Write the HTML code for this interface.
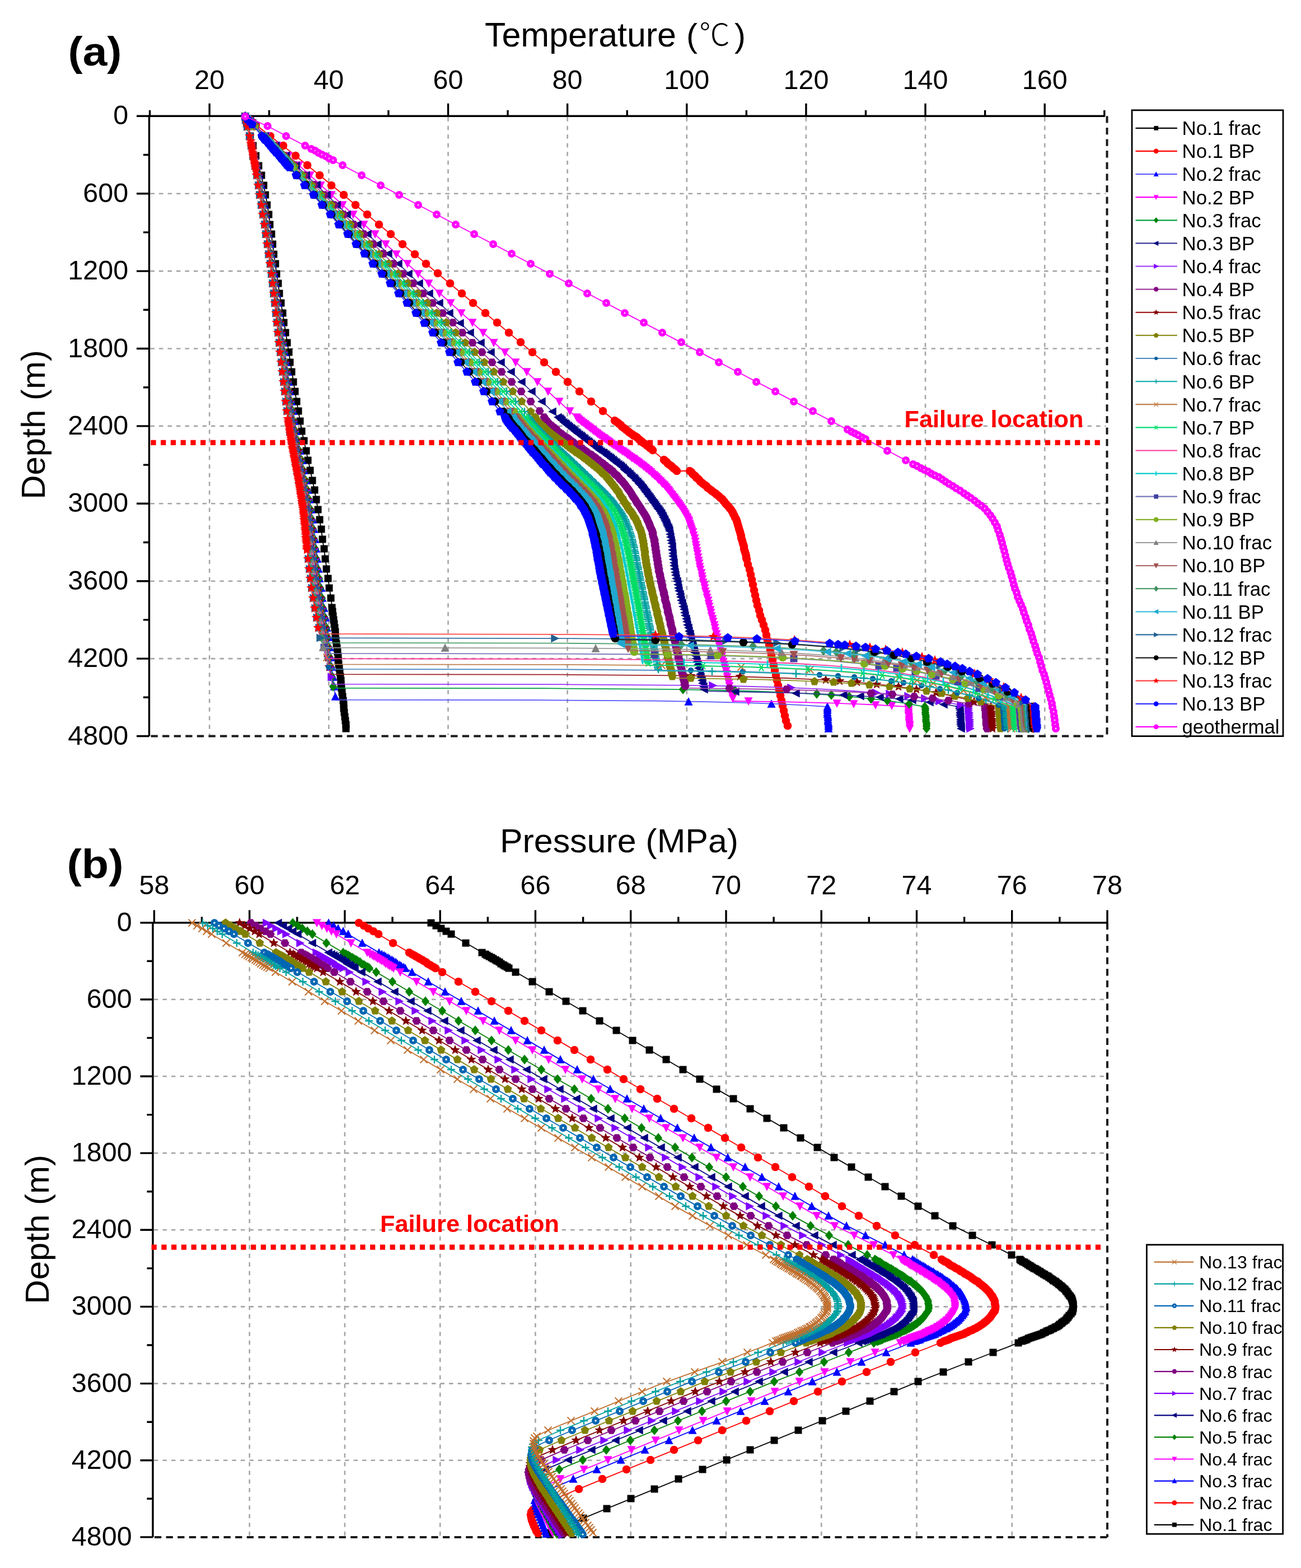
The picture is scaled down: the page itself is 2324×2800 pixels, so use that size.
<!DOCTYPE html>
<html><head><meta charset="utf-8"><title>Temperature and pressure profiles</title><style>html,body{margin:0;padding:0;background:#fff;}svg{display:block;}</style></head><body>
<svg width="2324" height="2800" viewBox="0 0 2324 2800" font-family='"Liberation Sans", Arial, sans-serif'>
<defs>
<path id="sq" d="M-6.5 -6.5h13v13h-13z" stroke="none"/>
<circle id="ci" r="7.3" stroke="none"/>
<path id="pb" d="M0 -8.4L8 -2.6L4.9 6.8L-4.9 6.8L-8 -2.6z" stroke="none"/>
<path id="tu" d="M0 -8.1L7.5 6.7L-7.5 6.7z" stroke="none"/>
<path id="td" d="M0 8.1L7.5 -6.7L-7.5 -6.7z" stroke="none"/>
<path id="tl" d="M-8.1 0L6.7 -7.5L6.7 7.5z" stroke="none"/>
<path id="tr" d="M8.1 0L-6.7 -7.5L-6.7 7.5z" stroke="none"/>
<path id="di" d="M0 -8.7L7.1 0L0 8.7L-7.1 0z" stroke="none"/>
<path id="hx" d="M7.7 0L3.9 6.7L-3.8 6.7L-7.7 0L-3.9 -6.7L3.9 -6.7z" stroke="none"/>
<path id="st" d="M0 -9.2L2.3 -3.2L8.7 -2.8L3.7 1.2L5.4 7.4L0 3.9L-5.4 7.4L-3.7 1.2L-8.7 -2.8L-2.3 -3.2z" stroke="none"/>
<path id="pe" d="M0 -7.9L7.5 -2.4L4.6 6.4L-4.6 6.4L-7.5 -2.4z" stroke="none"/>
<path id="pl" d="M-7 0H7M0 -7V7" fill="none" stroke-width="2.3"/>
<path id="xx" d="M-6.5 -6.5L6.5 6.5M-6.5 6.5L6.5 -6.5" fill="none" stroke-width="1.9"/>
<path id="as" d="M-7 0H7M-4 -6.3L4 6.3M-4 6.3L4 -6.3" fill="none" stroke-width="2.1"/>
<g id="ho"><circle r="7" stroke="none"/><circle r="1.5" fill="#ffc8ff" stroke="none"/></g>
<g id="hb"><circle r="7" stroke="none"/><circle r="1.7" fill="#fff" stroke="none"/></g>
<circle id="sc" r="5.2" stroke="none"/>
<path id="ba" d="M0 -7V7" fill="none" stroke-width="2.8"/>
</defs>
<rect width="2324" height="2800" fill="#fff"/>
<text x="121.5" y="117" font-size="72" font-weight="bold" textLength="96" lengthAdjust="spacingAndGlyphs">(a)</text>
<text x="866" y="82.5" font-size="61" textLength="342" lengthAdjust="spacingAndGlyphs">Temperature</text>
<text x="1226" y="83.6" font-size="60">(</text>
<text x="1249" y="80.5" font-size="55" font-weight="300" font-family='"Liberation Sans", "Noto Sans CJK SC", sans-serif'>℃</text>
<text x="1312" y="83.6" font-size="60">)</text>
<text x="119.5" y="1567.5" font-size="72" font-weight="bold" textLength="101" lengthAdjust="spacingAndGlyphs">(b)</text>
<text x="893" y="1521.9" font-size="60" textLength="426" lengthAdjust="spacingAndGlyphs">Pressure (MPa)</text>
<text transform="translate(80 758.5) rotate(-90)" text-anchor="middle" font-size="60">Depth (m)</text>
<text transform="translate(86.7 2195.3) rotate(-90)" text-anchor="middle" font-size="60">Depth (m)</text>
<path d="M374.2 209.3V1312.6M587.3 209.3V1312.6M800.5 209.3V1312.6M1013.6 209.3V1312.6M1226.8 209.3V1312.6M1439.9 209.3V1312.6M1653 209.3V1312.6M1866.2 209.3V1312.6M268.5 345.7H1975.5M268.5 484.1H1975.5M268.5 622.5H1975.5M268.5 760.9H1975.5M268.5 899.3H1975.5M268.5 1037.7H1975.5M268.5 1176.1H1975.5" fill="none" stroke="#a6a6a6" stroke-width="2.6" stroke-dasharray="7.5 8"/>
<path d="M1977.5 207.3V1314.6" stroke="#1a1a1a" stroke-width="4" stroke-dasharray="12.3 8.3" fill="none"/>
<path d="M269.5 1314.6H1977.5" stroke="#1a1a1a" stroke-width="4" stroke-dasharray="12.3 8.3" fill="none"/>
<path d="M264.8 207.3H1973.8 M266.5 205.6V1314.6" stroke="#000" stroke-width="3.4" fill="none"/>
<path d="M374.2 207.3V184.8M587.3 207.3V184.8M800.5 207.3V184.8M1013.6 207.3V184.8M1226.8 207.3V184.8M1439.9 207.3V184.8M1653 207.3V184.8M1866.2 207.3V184.8M267.6 207.3V196.8M480.8 207.3V196.8M693.9 207.3V196.8M907 207.3V196.8M1120.2 207.3V196.8M1333.3 207.3V196.8M1546.5 207.3V196.8M1759.6 207.3V196.8M1972.8 207.3V196.8M266.5 207.3H244M266.5 345.7H244M266.5 484.1H244M266.5 622.5H244M266.5 760.9H244M266.5 899.3H244M266.5 1037.7H244M266.5 1176.1H244M266.5 1314.5H244M266.5 276.5H256M266.5 414.9H256M266.5 553.3H256M266.5 691.7H256M266.5 830.1H256M266.5 968.5H256M266.5 1106.9H256M266.5 1245.3H256" stroke="#000" stroke-width="3.4" fill="none"/>
<text x="374.2" y="158.8" text-anchor="middle" font-size="48.5">20</text>
<text x="587.3" y="158.8" text-anchor="middle" font-size="48.5">40</text>
<text x="800.5" y="158.8" text-anchor="middle" font-size="48.5">60</text>
<text x="1013.6" y="158.8" text-anchor="middle" font-size="48.5">80</text>
<text x="1226.8" y="158.8" text-anchor="middle" font-size="48.5">100</text>
<text x="1439.9" y="158.8" text-anchor="middle" font-size="48.5">120</text>
<text x="1653" y="158.8" text-anchor="middle" font-size="48.5">140</text>
<text x="1866.2" y="158.8" text-anchor="middle" font-size="48.5">160</text>
<text x="229.2" y="222.3" text-anchor="end" font-size="48.5">0</text>
<text x="229.2" y="360.7" text-anchor="end" font-size="48.5">600</text>
<text x="229.2" y="499.1" text-anchor="end" font-size="48.5">1200</text>
<text x="229.2" y="637.5" text-anchor="end" font-size="48.5">1800</text>
<text x="229.2" y="775.9" text-anchor="end" font-size="48.5">2400</text>
<text x="229.2" y="914.3" text-anchor="end" font-size="48.5">3000</text>
<text x="229.2" y="1052.7" text-anchor="end" font-size="48.5">3600</text>
<text x="229.2" y="1191.1" text-anchor="end" font-size="48.5">4200</text>
<text x="229.2" y="1329.5" text-anchor="end" font-size="48.5">4800</text>
<path d="M445.7 1649.7V2742.9M615.9 1649.7V2742.9M786.2 1649.7V2742.9M956.4 1649.7V2742.9M1126.7 1649.7V2742.9M1297 1649.7V2742.9M1467.2 1649.7V2742.9M1637.5 1649.7V2742.9M1807.7 1649.7V2742.9M275 1784.8H1976M275 1922H1976M275 2059.1H1976M275 2196.3H1976M275 2333.4H1976M275 2470.6H1976M275 2607.7H1976" fill="none" stroke="#a6a6a6" stroke-width="2.6" stroke-dasharray="7.5 8"/>
<path d="M1978 1647.7V2744.9" stroke="#1a1a1a" stroke-width="4" stroke-dasharray="12.3 8.3" fill="none"/>
<path d="M276 2744.9H1978" stroke="#1a1a1a" stroke-width="4" stroke-dasharray="12.3 8.3" fill="none"/>
<path d="M271.3 1647.7H1979 M273 1646V2744.9" stroke="#000" stroke-width="3.4" fill="none"/>
<path d="M275.4 1647.7V1625.2M445.7 1647.7V1625.2M615.9 1647.7V1625.2M786.2 1647.7V1625.2M956.4 1647.7V1625.2M1126.7 1647.7V1625.2M1297 1647.7V1625.2M1467.2 1647.7V1625.2M1637.5 1647.7V1625.2M1807.7 1647.7V1625.2M1978 1647.7V1625.2M360.5 1647.7V1637.2M530.8 1647.7V1637.2M701 1647.7V1637.2M871.3 1647.7V1637.2M1041.6 1647.7V1637.2M1211.8 1647.7V1637.2M1382.1 1647.7V1637.2M1552.3 1647.7V1637.2M1722.6 1647.7V1637.2M1892.9 1647.7V1637.2M273 1647.7H250.5M273 1784.8H250.5M273 1922H250.5M273 2059.1H250.5M273 2196.3H250.5M273 2333.4H250.5M273 2470.6H250.5M273 2607.7H250.5M273 2744.9H250.5M273 1716.3H262.5M273 1853.4H262.5M273 1990.6H262.5M273 2127.7H262.5M273 2264.9H262.5M273 2402H262.5M273 2539.2H262.5M273 2676.3H262.5" stroke="#000" stroke-width="3.4" fill="none"/>
<text x="275.4" y="1596.5" text-anchor="middle" font-size="48.5">58</text>
<text x="445.7" y="1596.5" text-anchor="middle" font-size="48.5">60</text>
<text x="615.9" y="1596.5" text-anchor="middle" font-size="48.5">62</text>
<text x="786.2" y="1596.5" text-anchor="middle" font-size="48.5">64</text>
<text x="956.4" y="1596.5" text-anchor="middle" font-size="48.5">66</text>
<text x="1126.7" y="1596.5" text-anchor="middle" font-size="48.5">68</text>
<text x="1297" y="1596.5" text-anchor="middle" font-size="48.5">70</text>
<text x="1467.2" y="1596.5" text-anchor="middle" font-size="48.5">72</text>
<text x="1637.5" y="1596.5" text-anchor="middle" font-size="48.5">74</text>
<text x="1807.7" y="1596.5" text-anchor="middle" font-size="48.5">76</text>
<text x="1978" y="1596.5" text-anchor="middle" font-size="48.5">78</text>
<text x="235.7" y="1662.7" text-anchor="end" font-size="48.5">0</text>
<text x="235.7" y="1799.8" text-anchor="end" font-size="48.5">600</text>
<text x="235.7" y="1937" text-anchor="end" font-size="48.5">1200</text>
<text x="235.7" y="2074.1" text-anchor="end" font-size="48.5">1800</text>
<text x="235.7" y="2211.3" text-anchor="end" font-size="48.5">2400</text>
<text x="235.7" y="2348.4" text-anchor="end" font-size="48.5">3000</text>
<text x="235.7" y="2485.6" text-anchor="end" font-size="48.5">3600</text>
<text x="235.7" y="2622.7" text-anchor="end" font-size="48.5">4200</text>
<text x="235.7" y="2759.9" text-anchor="end" font-size="48.5">4800</text>
<path d="M770.2 1647.7L1251.2 1928L1582.3 2120L1653.8 2162.1L1697.4 2186.1L1795.2 2234.9L1820.3 2248.2L1875.3 2281.7L1892.4 2294.3L1902.3 2303L1907.9 2309.1L1913.7 2317.9L1916.4 2326.7L1917.3 2334L1916.4 2339.1L1913.9 2344.5L1907 2353.3L1899.1 2360.5L1890.3 2367.4L1864.1 2380.4L1835.9 2390.9L1798.4 2406.2L1769.3 2417L1628.9 2471.8L1069.4 2699.8L1002 2727.8L973.6 2740.8" fill="none" stroke="#000000" stroke-width="1.8"/>
<g fill="#000000" stroke="#000000"><use href="#sq" x="770" y="1648"/><use href="#sq" x="779" y="1653"/><use href="#sq" x="788" y="1658"/><use href="#sq" x="797" y="1663"/><use href="#sq" x="806" y="1668"/><use href="#sq" x="832" y="1684"/><use href="#sq" x="861" y="1701"/><use href="#sq" x="867" y="1704"/><use href="#sq" x="870" y="1706"/><use href="#sq" x="874" y="1708"/><use href="#sq" x="878" y="1710"/><use href="#sq" x="881" y="1712"/><use href="#sq" x="885" y="1714"/><use href="#sq" x="888" y="1716"/><use href="#sq" x="892" y="1718"/><use href="#sq" x="895" y="1721"/><use href="#sq" x="899" y="1723"/><use href="#sq" x="902" y="1725"/><use href="#sq" x="906" y="1727"/><use href="#sq" x="909" y="1729"/><use href="#sq" x="921" y="1736"/><use href="#sq" x="951" y="1753"/><use href="#sq" x="981" y="1771"/><use href="#sq" x="1011" y="1788"/><use href="#sq" x="1041" y="1805"/><use href="#sq" x="1071" y="1823"/><use href="#sq" x="1101" y="1840"/><use href="#sq" x="1130" y="1858"/><use href="#sq" x="1160" y="1875"/><use href="#sq" x="1190" y="1892"/><use href="#sq" x="1220" y="1910"/><use href="#sq" x="1250" y="1927"/><use href="#sq" x="1280" y="1945"/><use href="#sq" x="1310" y="1962"/><use href="#sq" x="1340" y="1980"/><use href="#sq" x="1370" y="1997"/><use href="#sq" x="1400" y="2014"/><use href="#sq" x="1430" y="2032"/><use href="#sq" x="1460" y="2049"/><use href="#sq" x="1490" y="2067"/><use href="#sq" x="1521" y="2084"/><use href="#sq" x="1551" y="2102"/><use href="#sq" x="1581" y="2119"/><use href="#sq" x="1610" y="2136"/><use href="#sq" x="1640" y="2154"/><use href="#sq" x="1670" y="2171"/><use href="#sq" x="1702" y="2189"/><use href="#sq" x="1737" y="2206"/><use href="#sq" x="1772" y="2223"/><use href="#sq" x="1807" y="2241"/><use href="#sq" x="1822" y="2249"/><use href="#sq" x="1824" y="2251"/><use href="#sq" x="1827" y="2253"/><use href="#sq" x="1830" y="2254"/><use href="#sq" x="1833" y="2256"/><use href="#sq" x="1836" y="2258"/><use href="#sq" x="1839" y="2260"/><use href="#sq" x="1841" y="2261"/><use href="#sq" x="1844" y="2263"/><use href="#sq" x="1847" y="2265"/><use href="#sq" x="1850" y="2266"/><use href="#sq" x="1853" y="2268"/><use href="#sq" x="1856" y="2270"/><use href="#sq" x="1858" y="2271"/><use href="#sq" x="1861" y="2273"/><use href="#sq" x="1864" y="2275"/><use href="#sq" x="1866" y="2276"/><use href="#sq" x="1869" y="2278"/><use href="#sq" x="1872" y="2279"/><use href="#sq" x="1874" y="2281"/><use href="#sq" x="1877" y="2283"/><use href="#sq" x="1880" y="2285"/><use href="#sq" x="1882" y="2287"/><use href="#sq" x="1885" y="2288"/><use href="#sq" x="1887" y="2290"/><use href="#sq" x="1890" y="2292"/><use href="#sq" x="1892" y="2294"/><use href="#sq" x="1895" y="2296"/><use href="#sq" x="1897" y="2298"/><use href="#sq" x="1899" y="2300"/><use href="#sq" x="1902" y="2302"/><use href="#sq" x="1904" y="2305"/><use href="#sq" x="1906" y="2307"/><use href="#sq" x="1908" y="2310"/><use href="#sq" x="1910" y="2313"/><use href="#sq" x="1912" y="2315"/><use href="#sq" x="1914" y="2318"/><use href="#sq" x="1915" y="2321"/><use href="#sq" x="1916" y="2324"/><use href="#sq" x="1917" y="2328"/><use href="#sq" x="1917" y="2331"/><use href="#sq" x="1917" y="2334"/><use href="#sq" x="1917" y="2337"/><use href="#sq" x="1916" y="2341"/><use href="#sq" x="1915" y="2343"/><use href="#sq" x="1913" y="2346"/><use href="#sq" x="1910" y="2349"/><use href="#sq" x="1908" y="2352"/><use href="#sq" x="1906" y="2354"/><use href="#sq" x="1904" y="2357"/><use href="#sq" x="1901" y="2359"/><use href="#sq" x="1898" y="2361"/><use href="#sq" x="1896" y="2363"/><use href="#sq" x="1893" y="2365"/><use href="#sq" x="1891" y="2367"/><use href="#sq" x="1888" y="2369"/><use href="#sq" x="1885" y="2370"/><use href="#sq" x="1882" y="2372"/><use href="#sq" x="1879" y="2373"/><use href="#sq" x="1876" y="2375"/><use href="#sq" x="1873" y="2376"/><use href="#sq" x="1870" y="2377"/><use href="#sq" x="1867" y="2379"/><use href="#sq" x="1864" y="2380"/><use href="#sq" x="1861" y="2382"/><use href="#sq" x="1858" y="2383"/><use href="#sq" x="1855" y="2384"/><use href="#sq" x="1852" y="2385"/><use href="#sq" x="1849" y="2386"/><use href="#sq" x="1846" y="2387"/><use href="#sq" x="1843" y="2388"/><use href="#sq" x="1840" y="2389"/><use href="#sq" x="1837" y="2390"/><use href="#sq" x="1834" y="2392"/><use href="#sq" x="1831" y="2393"/><use href="#sq" x="1828" y="2394"/><use href="#sq" x="1825" y="2395"/><use href="#sq" x="1819" y="2398"/><use href="#sq" x="1774" y="2415"/><use href="#sq" x="1730" y="2432"/><use href="#sq" x="1685" y="2450"/><use href="#sq" x="1640" y="2467"/><use href="#sq" x="1597" y="2485"/><use href="#sq" x="1554" y="2502"/><use href="#sq" x="1511" y="2520"/><use href="#sq" x="1469" y="2537"/><use href="#sq" x="1426" y="2554"/><use href="#sq" x="1383" y="2572"/><use href="#sq" x="1340" y="2589"/><use href="#sq" x="1298" y="2607"/><use href="#sq" x="1255" y="2624"/><use href="#sq" x="1212" y="2641"/><use href="#sq" x="1169" y="2659"/><use href="#sq" x="1127" y="2676"/><use href="#sq" x="1084" y="2694"/><use href="#sq" x="1042" y="2711"/><use href="#sq" x="1000" y="2729"/><use href="#sq" x="995" y="2731"/><use href="#sq" x="990" y="2733"/><use href="#sq" x="986" y="2735"/><use href="#sq" x="981" y="2737"/><use href="#sq" x="976" y="2739"/></g>
<path d="M640.9 1647.7L1115.5 1928L1446.5 2120L1518.2 2162.1L1561.4 2186.1L1656.1 2234.9L1680.8 2248.2L1733.5 2280L1748.3 2290.5L1759.5 2299.8L1766.8 2306.9L1773.6 2316.5L1776 2322L1777.9 2331.8L1777.6 2337.6L1775 2343.9L1768.8 2352.1L1760.8 2359.7L1751 2367.4L1724.8 2380.4L1694.1 2391.9L1657 2407L1625.4 2418.8L1492.6 2471.8L1046.1 2653.8L988.4 2677.8L961.9 2689.8L954.9 2693.8L951.2 2696.8L948.7 2700.8L948 2704.8L948.8 2710.8L951.4 2718.8L955.4 2727.8L962.3 2740.8" fill="none" stroke="#ff0000" stroke-width="1.8"/>
<g fill="#ff0000" stroke="#ff0000"><use href="#ci" x="641" y="1648"/><use href="#ci" x="650" y="1653"/><use href="#ci" x="658" y="1658"/><use href="#ci" x="667" y="1663"/><use href="#ci" x="676" y="1668"/><use href="#ci" x="702" y="1684"/><use href="#ci" x="731" y="1701"/><use href="#ci" x="736" y="1704"/><use href="#ci" x="740" y="1706"/><use href="#ci" x="743" y="1708"/><use href="#ci" x="747" y="1710"/><use href="#ci" x="750" y="1712"/><use href="#ci" x="754" y="1714"/><use href="#ci" x="757" y="1716"/><use href="#ci" x="761" y="1718"/><use href="#ci" x="764" y="1721"/><use href="#ci" x="768" y="1723"/><use href="#ci" x="771" y="1725"/><use href="#ci" x="775" y="1727"/><use href="#ci" x="778" y="1729"/><use href="#ci" x="790" y="1736"/><use href="#ci" x="819" y="1753"/><use href="#ci" x="849" y="1771"/><use href="#ci" x="878" y="1788"/><use href="#ci" x="908" y="1805"/><use href="#ci" x="937" y="1823"/><use href="#ci" x="967" y="1840"/><use href="#ci" x="996" y="1858"/><use href="#ci" x="1026" y="1875"/><use href="#ci" x="1055" y="1892"/><use href="#ci" x="1085" y="1910"/><use href="#ci" x="1114" y="1927"/><use href="#ci" x="1144" y="1945"/><use href="#ci" x="1174" y="1962"/><use href="#ci" x="1204" y="1980"/><use href="#ci" x="1235" y="1997"/><use href="#ci" x="1265" y="2014"/><use href="#ci" x="1295" y="2032"/><use href="#ci" x="1324" y="2049"/><use href="#ci" x="1354" y="2067"/><use href="#ci" x="1385" y="2084"/><use href="#ci" x="1415" y="2102"/><use href="#ci" x="1445" y="2119"/><use href="#ci" x="1474" y="2136"/><use href="#ci" x="1504" y="2154"/><use href="#ci" x="1534" y="2171"/><use href="#ci" x="1566" y="2189"/><use href="#ci" x="1599" y="2206"/><use href="#ci" x="1634" y="2223"/><use href="#ci" x="1668" y="2241"/><use href="#ci" x="1682" y="2249"/><use href="#ci" x="1685" y="2251"/><use href="#ci" x="1688" y="2253"/><use href="#ci" x="1691" y="2254"/><use href="#ci" x="1694" y="2256"/><use href="#ci" x="1696" y="2258"/><use href="#ci" x="1699" y="2260"/><use href="#ci" x="1702" y="2261"/><use href="#ci" x="1705" y="2263"/><use href="#ci" x="1708" y="2265"/><use href="#ci" x="1711" y="2266"/><use href="#ci" x="1714" y="2268"/><use href="#ci" x="1716" y="2270"/><use href="#ci" x="1719" y="2271"/><use href="#ci" x="1722" y="2273"/><use href="#ci" x="1724" y="2275"/><use href="#ci" x="1727" y="2276"/><use href="#ci" x="1730" y="2278"/><use href="#ci" x="1732" y="2279"/><use href="#ci" x="1735" y="2281"/><use href="#ci" x="1737" y="2283"/><use href="#ci" x="1740" y="2285"/><use href="#ci" x="1743" y="2287"/><use href="#ci" x="1746" y="2288"/><use href="#ci" x="1748" y="2290"/><use href="#ci" x="1750" y="2292"/><use href="#ci" x="1753" y="2294"/><use href="#ci" x="1755" y="2296"/><use href="#ci" x="1758" y="2298"/><use href="#ci" x="1760" y="2300"/><use href="#ci" x="1762" y="2302"/><use href="#ci" x="1765" y="2305"/><use href="#ci" x="1767" y="2307"/><use href="#ci" x="1769" y="2310"/><use href="#ci" x="1771" y="2313"/><use href="#ci" x="1773" y="2315"/><use href="#ci" x="1774" y="2318"/><use href="#ci" x="1776" y="2321"/><use href="#ci" x="1777" y="2324"/><use href="#ci" x="1777" y="2328"/><use href="#ci" x="1778" y="2331"/><use href="#ci" x="1778" y="2334"/><use href="#ci" x="1778" y="2337"/><use href="#ci" x="1777" y="2341"/><use href="#ci" x="1775" y="2343"/><use href="#ci" x="1773" y="2346"/><use href="#ci" x="1771" y="2349"/><use href="#ci" x="1769" y="2352"/><use href="#ci" x="1767" y="2354"/><use href="#ci" x="1764" y="2357"/><use href="#ci" x="1762" y="2359"/><use href="#ci" x="1759" y="2361"/><use href="#ci" x="1757" y="2363"/><use href="#ci" x="1754" y="2365"/><use href="#ci" x="1751" y="2367"/><use href="#ci" x="1748" y="2369"/><use href="#ci" x="1746" y="2370"/><use href="#ci" x="1743" y="2372"/><use href="#ci" x="1740" y="2373"/><use href="#ci" x="1737" y="2375"/><use href="#ci" x="1734" y="2376"/><use href="#ci" x="1731" y="2377"/><use href="#ci" x="1728" y="2379"/><use href="#ci" x="1725" y="2380"/><use href="#ci" x="1722" y="2382"/><use href="#ci" x="1719" y="2383"/><use href="#ci" x="1716" y="2384"/><use href="#ci" x="1713" y="2385"/><use href="#ci" x="1710" y="2386"/><use href="#ci" x="1707" y="2387"/><use href="#ci" x="1704" y="2388"/><use href="#ci" x="1701" y="2389"/><use href="#ci" x="1698" y="2390"/><use href="#ci" x="1695" y="2392"/><use href="#ci" x="1692" y="2393"/><use href="#ci" x="1689" y="2394"/><use href="#ci" x="1686" y="2395"/><use href="#ci" x="1680" y="2398"/><use href="#ci" x="1635" y="2415"/><use href="#ci" x="1591" y="2432"/><use href="#ci" x="1548" y="2450"/><use href="#ci" x="1504" y="2467"/><use href="#ci" x="1461" y="2485"/><use href="#ci" x="1418" y="2502"/><use href="#ci" x="1375" y="2520"/><use href="#ci" x="1333" y="2537"/><use href="#ci" x="1290" y="2554"/><use href="#ci" x="1247" y="2572"/><use href="#ci" x="1204" y="2589"/><use href="#ci" x="1162" y="2607"/><use href="#ci" x="1119" y="2624"/><use href="#ci" x="1076" y="2641"/><use href="#ci" x="1034" y="2659"/><use href="#ci" x="992" y="2676"/><use href="#ci" x="956" y="2693"/><use href="#ci" x="952" y="2696"/><use href="#ci" x="949" y="2700"/><use href="#ci" x="948" y="2705"/><use href="#ci" x="949" y="2710"/><use href="#ci" x="950" y="2715"/><use href="#ci" x="952" y="2720"/><use href="#ci" x="954" y="2725"/><use href="#ci" x="956" y="2729"/><use href="#ci" x="958" y="2734"/><use href="#ci" x="961" y="2738"/></g>
<path d="M586.8 1647.7L1061.4 1928L1392.5 2120L1464 2162.1L1507.4 2186.1L1603.6 2234.9L1628.5 2248.2L1681.1 2280L1693.5 2288.6L1705.1 2298.1L1713.3 2305.7L1720.2 2314.9L1723 2320.2L1725.2 2329.3L1725.4 2336.8L1722.9 2343.3L1716.9 2351.5L1710.3 2358L1699.4 2366.8L1693.3 2370.3L1674.2 2379.5L1641.7 2391.9L1604.6 2407L1573 2418.8L1440.1 2471.8L1038.1 2635.8L985.7 2657.8L964.7 2667.8L958.8 2671.8L956.4 2674.8L955.4 2677.8L955.6 2682.8L957.4 2690.8L961.4 2702.8L976.2 2740.8" fill="none" stroke="#0000ff" stroke-width="1.8"/>
<g fill="#0000ff" stroke="#0000ff"><use href="#tu" x="587" y="1648"/><use href="#tu" x="596" y="1653"/><use href="#tu" x="604" y="1658"/><use href="#tu" x="613" y="1663"/><use href="#tu" x="622" y="1668"/><use href="#tu" x="647" y="1684"/><use href="#tu" x="677" y="1701"/><use href="#tu" x="682" y="1704"/><use href="#tu" x="686" y="1706"/><use href="#tu" x="689" y="1708"/><use href="#tu" x="693" y="1710"/><use href="#tu" x="696" y="1712"/><use href="#tu" x="700" y="1714"/><use href="#tu" x="703" y="1716"/><use href="#tu" x="707" y="1718"/><use href="#tu" x="710" y="1721"/><use href="#tu" x="714" y="1723"/><use href="#tu" x="717" y="1725"/><use href="#tu" x="721" y="1727"/><use href="#tu" x="724" y="1729"/><use href="#tu" x="736" y="1736"/><use href="#tu" x="765" y="1753"/><use href="#tu" x="795" y="1771"/><use href="#tu" x="824" y="1788"/><use href="#tu" x="854" y="1805"/><use href="#tu" x="883" y="1823"/><use href="#tu" x="913" y="1840"/><use href="#tu" x="942" y="1858"/><use href="#tu" x="972" y="1875"/><use href="#tu" x="1001" y="1892"/><use href="#tu" x="1031" y="1910"/><use href="#tu" x="1060" y="1927"/><use href="#tu" x="1090" y="1945"/><use href="#tu" x="1120" y="1962"/><use href="#tu" x="1150" y="1980"/><use href="#tu" x="1180" y="1997"/><use href="#tu" x="1210" y="2014"/><use href="#tu" x="1240" y="2032"/><use href="#tu" x="1270" y="2049"/><use href="#tu" x="1300" y="2067"/><use href="#tu" x="1331" y="2084"/><use href="#tu" x="1361" y="2102"/><use href="#tu" x="1391" y="2119"/><use href="#tu" x="1420" y="2136"/><use href="#tu" x="1450" y="2154"/><use href="#tu" x="1480" y="2171"/><use href="#tu" x="1512" y="2189"/><use href="#tu" x="1546" y="2206"/><use href="#tu" x="1581" y="2223"/><use href="#tu" x="1615" y="2241"/><use href="#tu" x="1630" y="2249"/><use href="#tu" x="1633" y="2251"/><use href="#tu" x="1635" y="2253"/><use href="#tu" x="1638" y="2254"/><use href="#tu" x="1641" y="2256"/><use href="#tu" x="1644" y="2258"/><use href="#tu" x="1647" y="2260"/><use href="#tu" x="1650" y="2261"/><use href="#tu" x="1653" y="2263"/><use href="#tu" x="1655" y="2265"/><use href="#tu" x="1658" y="2266"/><use href="#tu" x="1661" y="2268"/><use href="#tu" x="1664" y="2270"/><use href="#tu" x="1667" y="2271"/><use href="#tu" x="1669" y="2273"/><use href="#tu" x="1672" y="2275"/><use href="#tu" x="1675" y="2276"/><use href="#tu" x="1677" y="2278"/><use href="#tu" x="1680" y="2279"/><use href="#tu" x="1683" y="2281"/><use href="#tu" x="1685" y="2283"/><use href="#tu" x="1688" y="2285"/><use href="#tu" x="1691" y="2287"/><use href="#tu" x="1693" y="2288"/><use href="#tu" x="1696" y="2290"/><use href="#tu" x="1698" y="2292"/><use href="#tu" x="1700" y="2294"/><use href="#tu" x="1703" y="2296"/><use href="#tu" x="1705" y="2298"/><use href="#tu" x="1708" y="2300"/><use href="#tu" x="1710" y="2302"/><use href="#tu" x="1712" y="2305"/><use href="#tu" x="1715" y="2307"/><use href="#tu" x="1717" y="2310"/><use href="#tu" x="1719" y="2313"/><use href="#tu" x="1720" y="2315"/><use href="#tu" x="1722" y="2318"/><use href="#tu" x="1723" y="2321"/><use href="#tu" x="1724" y="2324"/><use href="#tu" x="1725" y="2328"/><use href="#tu" x="1725" y="2331"/><use href="#tu" x="1726" y="2334"/><use href="#tu" x="1725" y="2337"/><use href="#tu" x="1724" y="2341"/><use href="#tu" x="1723" y="2343"/><use href="#tu" x="1721" y="2346"/><use href="#tu" x="1719" y="2349"/><use href="#tu" x="1716" y="2352"/><use href="#tu" x="1714" y="2354"/><use href="#tu" x="1712" y="2357"/><use href="#tu" x="1709" y="2359"/><use href="#tu" x="1707" y="2361"/><use href="#tu" x="1704" y="2363"/><use href="#tu" x="1702" y="2365"/><use href="#tu" x="1699" y="2367"/><use href="#tu" x="1696" y="2369"/><use href="#tu" x="1693" y="2370"/><use href="#tu" x="1691" y="2372"/><use href="#tu" x="1687" y="2373"/><use href="#tu" x="1684" y="2375"/><use href="#tu" x="1681" y="2376"/><use href="#tu" x="1679" y="2377"/><use href="#tu" x="1676" y="2379"/><use href="#tu" x="1673" y="2380"/><use href="#tu" x="1670" y="2382"/><use href="#tu" x="1667" y="2383"/><use href="#tu" x="1664" y="2384"/><use href="#tu" x="1661" y="2385"/><use href="#tu" x="1658" y="2386"/><use href="#tu" x="1655" y="2387"/><use href="#tu" x="1652" y="2388"/><use href="#tu" x="1649" y="2389"/><use href="#tu" x="1645" y="2390"/><use href="#tu" x="1643" y="2392"/><use href="#tu" x="1640" y="2393"/><use href="#tu" x="1636" y="2394"/><use href="#tu" x="1633" y="2395"/><use href="#tu" x="1627" y="2398"/><use href="#tu" x="1583" y="2415"/><use href="#tu" x="1539" y="2432"/><use href="#tu" x="1495" y="2450"/><use href="#tu" x="1451" y="2467"/><use href="#tu" x="1408" y="2485"/><use href="#tu" x="1366" y="2502"/><use href="#tu" x="1323" y="2520"/><use href="#tu" x="1280" y="2537"/><use href="#tu" x="1237" y="2554"/><use href="#tu" x="1195" y="2572"/><use href="#tu" x="1152" y="2589"/><use href="#tu" x="1109" y="2607"/><use href="#tu" x="1066" y="2624"/><use href="#tu" x="1024" y="2641"/><use href="#tu" x="983" y="2659"/><use href="#tu" x="965" y="2668"/><use href="#tu" x="960" y="2671"/><use href="#tu" x="957" y="2674"/><use href="#tu" x="955" y="2679"/><use href="#tu" x="956" y="2684"/><use href="#tu" x="957" y="2689"/><use href="#tu" x="959" y="2694"/><use href="#tu" x="960" y="2699"/><use href="#tu" x="962" y="2704"/><use href="#tu" x="964" y="2709"/><use href="#tu" x="966" y="2714"/><use href="#tu" x="968" y="2719"/><use href="#tu" x="970" y="2724"/><use href="#tu" x="972" y="2729"/><use href="#tu" x="974" y="2734"/><use href="#tu" x="976" y="2739"/></g>
<path d="M566 1647.7L1040.6 1928L1371.7 2120L1443.1 2162.1L1486.7 2186.1L1583.9 2234.9L1609 2248.2L1661.5 2280L1673.9 2288.6L1685.5 2298.1L1693.7 2305.7L1698.1 2311.1L1703.1 2319.4L1705.6 2329.3L1705.8 2336.8L1703.3 2343.3L1697.8 2350.9L1690.7 2358L1679.8 2366.8L1673.7 2370.3L1654.6 2379.5L1622.1 2391.9L1585 2407L1416.3 2471.8L1034 2627.8L984.1 2648.8L963.5 2658.8L958.2 2662.8L956.3 2665.8L955.9 2669.8L957 2674.8L960.5 2683.8L966.6 2696.8L989.3 2740.8" fill="none" stroke="#ff00ff" stroke-width="1.8"/>
<g fill="#ff00ff" stroke="#ff00ff"><use href="#td" x="566" y="1648"/><use href="#td" x="575" y="1653"/><use href="#td" x="584" y="1658"/><use href="#td" x="592" y="1663"/><use href="#td" x="601" y="1668"/><use href="#td" x="627" y="1684"/><use href="#td" x="656" y="1701"/><use href="#td" x="661" y="1704"/><use href="#td" x="665" y="1706"/><use href="#td" x="668" y="1708"/><use href="#td" x="672" y="1710"/><use href="#td" x="675" y="1712"/><use href="#td" x="679" y="1714"/><use href="#td" x="682" y="1716"/><use href="#td" x="686" y="1718"/><use href="#td" x="689" y="1721"/><use href="#td" x="693" y="1723"/><use href="#td" x="696" y="1725"/><use href="#td" x="700" y="1727"/><use href="#td" x="703" y="1729"/><use href="#td" x="715" y="1736"/><use href="#td" x="744" y="1753"/><use href="#td" x="774" y="1771"/><use href="#td" x="803" y="1788"/><use href="#td" x="833" y="1805"/><use href="#td" x="863" y="1823"/><use href="#td" x="892" y="1840"/><use href="#td" x="921" y="1858"/><use href="#td" x="951" y="1875"/><use href="#td" x="980" y="1892"/><use href="#td" x="1010" y="1910"/><use href="#td" x="1040" y="1927"/><use href="#td" x="1069" y="1945"/><use href="#td" x="1099" y="1962"/><use href="#td" x="1129" y="1980"/><use href="#td" x="1160" y="1997"/><use href="#td" x="1190" y="2014"/><use href="#td" x="1220" y="2032"/><use href="#td" x="1250" y="2049"/><use href="#td" x="1280" y="2067"/><use href="#td" x="1310" y="2084"/><use href="#td" x="1340" y="2102"/><use href="#td" x="1370" y="2119"/><use href="#td" x="1399" y="2136"/><use href="#td" x="1429" y="2154"/><use href="#td" x="1459" y="2171"/><use href="#td" x="1491" y="2189"/><use href="#td" x="1526" y="2206"/><use href="#td" x="1561" y="2223"/><use href="#td" x="1596" y="2241"/><use href="#td" x="1610" y="2249"/><use href="#td" x="1613" y="2251"/><use href="#td" x="1616" y="2253"/><use href="#td" x="1619" y="2254"/><use href="#td" x="1622" y="2256"/><use href="#td" x="1624" y="2258"/><use href="#td" x="1627" y="2260"/><use href="#td" x="1630" y="2261"/><use href="#td" x="1633" y="2263"/><use href="#td" x="1636" y="2265"/><use href="#td" x="1639" y="2266"/><use href="#td" x="1642" y="2268"/><use href="#td" x="1644" y="2270"/><use href="#td" x="1647" y="2271"/><use href="#td" x="1650" y="2273"/><use href="#td" x="1652" y="2275"/><use href="#td" x="1655" y="2276"/><use href="#td" x="1658" y="2278"/><use href="#td" x="1660" y="2279"/><use href="#td" x="1663" y="2281"/><use href="#td" x="1665" y="2283"/><use href="#td" x="1668" y="2285"/><use href="#td" x="1671" y="2287"/><use href="#td" x="1674" y="2288"/><use href="#td" x="1676" y="2290"/><use href="#td" x="1678" y="2292"/><use href="#td" x="1681" y="2294"/><use href="#td" x="1683" y="2296"/><use href="#td" x="1686" y="2298"/><use href="#td" x="1688" y="2300"/><use href="#td" x="1690" y="2302"/><use href="#td" x="1693" y="2305"/><use href="#td" x="1695" y="2307"/><use href="#td" x="1697" y="2310"/><use href="#td" x="1699" y="2313"/><use href="#td" x="1701" y="2315"/><use href="#td" x="1702" y="2318"/><use href="#td" x="1704" y="2321"/><use href="#td" x="1705" y="2324"/><use href="#td" x="1705" y="2328"/><use href="#td" x="1706" y="2331"/><use href="#td" x="1706" y="2334"/><use href="#td" x="1706" y="2337"/><use href="#td" x="1705" y="2341"/><use href="#td" x="1703" y="2343"/><use href="#td" x="1701" y="2346"/><use href="#td" x="1699" y="2349"/><use href="#td" x="1697" y="2352"/><use href="#td" x="1695" y="2354"/><use href="#td" x="1692" y="2357"/><use href="#td" x="1690" y="2359"/><use href="#td" x="1687" y="2361"/><use href="#td" x="1685" y="2363"/><use href="#td" x="1682" y="2365"/><use href="#td" x="1679" y="2367"/><use href="#td" x="1676" y="2369"/><use href="#td" x="1674" y="2370"/><use href="#td" x="1671" y="2372"/><use href="#td" x="1668" y="2373"/><use href="#td" x="1665" y="2375"/><use href="#td" x="1662" y="2376"/><use href="#td" x="1659" y="2377"/><use href="#td" x="1656" y="2379"/><use href="#td" x="1653" y="2380"/><use href="#td" x="1650" y="2382"/><use href="#td" x="1647" y="2383"/><use href="#td" x="1644" y="2384"/><use href="#td" x="1641" y="2385"/><use href="#td" x="1638" y="2386"/><use href="#td" x="1635" y="2387"/><use href="#td" x="1632" y="2388"/><use href="#td" x="1629" y="2389"/><use href="#td" x="1626" y="2390"/><use href="#td" x="1623" y="2392"/><use href="#td" x="1620" y="2393"/><use href="#td" x="1617" y="2394"/><use href="#td" x="1614" y="2395"/><use href="#td" x="1608" y="2398"/><use href="#td" x="1563" y="2415"/><use href="#td" x="1519" y="2432"/><use href="#td" x="1473" y="2450"/><use href="#td" x="1428" y="2467"/><use href="#td" x="1384" y="2485"/><use href="#td" x="1342" y="2502"/><use href="#td" x="1299" y="2520"/><use href="#td" x="1256" y="2537"/><use href="#td" x="1213" y="2554"/><use href="#td" x="1171" y="2572"/><use href="#td" x="1128" y="2589"/><use href="#td" x="1086" y="2607"/><use href="#td" x="1043" y="2624"/><use href="#td" x="1001" y="2641"/><use href="#td" x="967" y="2657"/><use href="#td" x="963" y="2659"/><use href="#td" x="959" y="2662"/><use href="#td" x="956" y="2667"/><use href="#td" x="956" y="2672"/><use href="#td" x="958" y="2677"/><use href="#td" x="960" y="2682"/><use href="#td" x="962" y="2687"/><use href="#td" x="964" y="2692"/><use href="#td" x="967" y="2697"/><use href="#td" x="969" y="2701"/><use href="#td" x="971" y="2706"/><use href="#td" x="973" y="2710"/><use href="#td" x="976" y="2715"/><use href="#td" x="978" y="2719"/><use href="#td" x="980" y="2724"/><use href="#td" x="983" y="2728"/><use href="#td" x="985" y="2733"/><use href="#td" x="987" y="2737"/></g>
<path d="M522.8 1647.7L997.4 1928L1400.2 2162.1L1443.3 2186.1L1537.2 2234.9L1561.7 2248.2L1614.5 2280L1624.4 2286.8L1636.3 2296.2L1645.4 2304.4L1650.4 2310.2L1655.8 2318.7L1658.4 2328L1659 2332.9L1658.8 2336.8L1656.3 2343.3L1650.8 2350.9L1643.7 2358L1632.8 2366.8L1626.7 2370.3L1607.6 2379.5L1371.4 2471.8L1021.2 2614.8L976.5 2633.8L958.7 2642.8L953.9 2646.8L952 2650.8L952.2 2655.8L954.2 2662.8L958.5 2672.8L966.2 2687.8L996 2740.8" fill="none" stroke="#008000" stroke-width="1.8"/>
<g fill="#008000" stroke="#008000"><use href="#di" x="523" y="1648"/><use href="#di" x="532" y="1653"/><use href="#di" x="540" y="1658"/><use href="#di" x="549" y="1663"/><use href="#di" x="558" y="1668"/><use href="#di" x="583" y="1684"/><use href="#di" x="613" y="1701"/><use href="#di" x="618" y="1704"/><use href="#di" x="622" y="1706"/><use href="#di" x="625" y="1708"/><use href="#di" x="629" y="1710"/><use href="#di" x="632" y="1712"/><use href="#di" x="636" y="1714"/><use href="#di" x="639" y="1716"/><use href="#di" x="643" y="1718"/><use href="#di" x="646" y="1721"/><use href="#di" x="650" y="1723"/><use href="#di" x="653" y="1725"/><use href="#di" x="657" y="1727"/><use href="#di" x="660" y="1729"/><use href="#di" x="672" y="1736"/><use href="#di" x="701" y="1753"/><use href="#di" x="731" y="1771"/><use href="#di" x="760" y="1788"/><use href="#di" x="790" y="1805"/><use href="#di" x="819" y="1823"/><use href="#di" x="849" y="1840"/><use href="#di" x="878" y="1858"/><use href="#di" x="908" y="1875"/><use href="#di" x="937" y="1892"/><use href="#di" x="967" y="1910"/><use href="#di" x="996" y="1927"/><use href="#di" x="1026" y="1945"/><use href="#di" x="1056" y="1962"/><use href="#di" x="1086" y="1980"/><use href="#di" x="1116" y="1997"/><use href="#di" x="1146" y="2014"/><use href="#di" x="1176" y="2032"/><use href="#di" x="1206" y="2049"/><use href="#di" x="1236" y="2067"/><use href="#di" x="1267" y="2084"/><use href="#di" x="1297" y="2102"/><use href="#di" x="1327" y="2119"/><use href="#di" x="1356" y="2136"/><use href="#di" x="1386" y="2154"/><use href="#di" x="1416" y="2171"/><use href="#di" x="1448" y="2189"/><use href="#di" x="1481" y="2206"/><use href="#di" x="1515" y="2223"/><use href="#di" x="1549" y="2241"/><use href="#di" x="1563" y="2249"/><use href="#di" x="1566" y="2251"/><use href="#di" x="1569" y="2253"/><use href="#di" x="1572" y="2254"/><use href="#di" x="1575" y="2256"/><use href="#di" x="1577" y="2258"/><use href="#di" x="1580" y="2260"/><use href="#di" x="1583" y="2261"/><use href="#di" x="1586" y="2263"/><use href="#di" x="1589" y="2265"/><use href="#di" x="1592" y="2266"/><use href="#di" x="1595" y="2268"/><use href="#di" x="1597" y="2270"/><use href="#di" x="1600" y="2271"/><use href="#di" x="1603" y="2273"/><use href="#di" x="1605" y="2275"/><use href="#di" x="1608" y="2276"/><use href="#di" x="1611" y="2278"/><use href="#di" x="1613" y="2279"/><use href="#di" x="1616" y="2281"/><use href="#di" x="1618" y="2283"/><use href="#di" x="1621" y="2285"/><use href="#di" x="1624" y="2287"/><use href="#di" x="1627" y="2288"/><use href="#di" x="1629" y="2290"/><use href="#di" x="1631" y="2292"/><use href="#di" x="1634" y="2294"/><use href="#di" x="1636" y="2296"/><use href="#di" x="1639" y="2298"/><use href="#di" x="1641" y="2300"/><use href="#di" x="1643" y="2302"/><use href="#di" x="1646" y="2305"/><use href="#di" x="1648" y="2307"/><use href="#di" x="1650" y="2310"/><use href="#di" x="1652" y="2313"/><use href="#di" x="1654" y="2315"/><use href="#di" x="1655" y="2318"/><use href="#di" x="1657" y="2321"/><use href="#di" x="1658" y="2324"/><use href="#di" x="1658" y="2328"/><use href="#di" x="1659" y="2331"/><use href="#di" x="1659" y="2334"/><use href="#di" x="1659" y="2337"/><use href="#di" x="1658" y="2341"/><use href="#di" x="1656" y="2343"/><use href="#di" x="1654" y="2346"/><use href="#di" x="1652" y="2349"/><use href="#di" x="1650" y="2352"/><use href="#di" x="1648" y="2354"/><use href="#di" x="1645" y="2357"/><use href="#di" x="1643" y="2359"/><use href="#di" x="1640" y="2361"/><use href="#di" x="1638" y="2363"/><use href="#di" x="1635" y="2365"/><use href="#di" x="1632" y="2367"/><use href="#di" x="1629" y="2369"/><use href="#di" x="1627" y="2370"/><use href="#di" x="1624" y="2372"/><use href="#di" x="1621" y="2373"/><use href="#di" x="1618" y="2375"/><use href="#di" x="1615" y="2376"/><use href="#di" x="1612" y="2377"/><use href="#di" x="1609" y="2379"/><use href="#di" x="1606" y="2380"/><use href="#di" x="1603" y="2382"/><use href="#di" x="1600" y="2383"/><use href="#di" x="1597" y="2384"/><use href="#di" x="1594" y="2385"/><use href="#di" x="1591" y="2386"/><use href="#di" x="1588" y="2387"/><use href="#di" x="1585" y="2388"/><use href="#di" x="1582" y="2389"/><use href="#di" x="1579" y="2390"/><use href="#di" x="1576" y="2392"/><use href="#di" x="1573" y="2393"/><use href="#di" x="1570" y="2394"/><use href="#di" x="1567" y="2395"/><use href="#di" x="1561" y="2398"/><use href="#di" x="1516" y="2415"/><use href="#di" x="1472" y="2432"/><use href="#di" x="1428" y="2450"/><use href="#di" x="1383" y="2467"/><use href="#di" x="1340" y="2485"/><use href="#di" x="1297" y="2502"/><use href="#di" x="1254" y="2520"/><use href="#di" x="1211" y="2537"/><use href="#di" x="1169" y="2554"/><use href="#di" x="1126" y="2572"/><use href="#di" x="1083" y="2589"/><use href="#di" x="1041" y="2607"/><use href="#di" x="999" y="2624"/><use href="#di" x="962" y="2641"/><use href="#di" x="958" y="2644"/><use href="#di" x="954" y="2647"/><use href="#di" x="952" y="2652"/><use href="#di" x="952" y="2657"/><use href="#di" x="954" y="2662"/><use href="#di" x="956" y="2667"/><use href="#di" x="958" y="2672"/><use href="#di" x="960" y="2676"/><use href="#di" x="963" y="2681"/><use href="#di" x="965" y="2685"/><use href="#di" x="967" y="2690"/><use href="#di" x="970" y="2694"/><use href="#di" x="972" y="2699"/><use href="#di" x="975" y="2703"/><use href="#di" x="977" y="2708"/><use href="#di" x="980" y="2712"/><use href="#di" x="982" y="2717"/><use href="#di" x="985" y="2721"/><use href="#di" x="987" y="2726"/><use href="#di" x="990" y="2730"/><use href="#di" x="993" y="2735"/><use href="#di" x="995" y="2739"/></g>
<path d="M497 1647.7L971.6 1928L1374.5 2162.1L1417.4 2186.1L1534.6 2248.2L1584.8 2278.4L1597.4 2286.8L1609.3 2296.2L1618.4 2304.4L1623.4 2310.2L1628.8 2318.7L1631.4 2328L1632 2332.9L1631.8 2336.8L1629.3 2343.3L1623.8 2350.9L1616.7 2358L1605.8 2366.8L1599.7 2370.3L1580.6 2379.5L1548.1 2391.9L1511 2407L1481.5 2418L1345 2471.8L1014.6 2606.8L972.4 2624.8L961.9 2629.8L955 2633.8L950.6 2637.8L949.4 2639.8L948.7 2642.8L949.2 2648.8L952.3 2657.8L957.5 2668.8L966.4 2684.8L999.8 2740.8" fill="none" stroke="#000080" stroke-width="1.8"/>
<g fill="#000080" stroke="#000080"><use href="#tl" x="497" y="1648"/><use href="#tl" x="506" y="1653"/><use href="#tl" x="515" y="1658"/><use href="#tl" x="523" y="1663"/><use href="#tl" x="532" y="1668"/><use href="#tl" x="558" y="1684"/><use href="#tl" x="587" y="1701"/><use href="#tl" x="592" y="1704"/><use href="#tl" x="596" y="1706"/><use href="#tl" x="599" y="1708"/><use href="#tl" x="603" y="1710"/><use href="#tl" x="606" y="1712"/><use href="#tl" x="610" y="1714"/><use href="#tl" x="613" y="1716"/><use href="#tl" x="617" y="1718"/><use href="#tl" x="620" y="1721"/><use href="#tl" x="624" y="1723"/><use href="#tl" x="627" y="1725"/><use href="#tl" x="631" y="1727"/><use href="#tl" x="634" y="1729"/><use href="#tl" x="646" y="1736"/><use href="#tl" x="675" y="1753"/><use href="#tl" x="705" y="1771"/><use href="#tl" x="734" y="1788"/><use href="#tl" x="764" y="1805"/><use href="#tl" x="794" y="1823"/><use href="#tl" x="823" y="1840"/><use href="#tl" x="852" y="1858"/><use href="#tl" x="882" y="1875"/><use href="#tl" x="911" y="1892"/><use href="#tl" x="941" y="1910"/><use href="#tl" x="971" y="1927"/><use href="#tl" x="1000" y="1945"/><use href="#tl" x="1030" y="1962"/><use href="#tl" x="1060" y="1980"/><use href="#tl" x="1091" y="1997"/><use href="#tl" x="1121" y="2014"/><use href="#tl" x="1151" y="2032"/><use href="#tl" x="1181" y="2049"/><use href="#tl" x="1211" y="2067"/><use href="#tl" x="1241" y="2084"/><use href="#tl" x="1271" y="2102"/><use href="#tl" x="1301" y="2119"/><use href="#tl" x="1331" y="2136"/><use href="#tl" x="1360" y="2154"/><use href="#tl" x="1391" y="2171"/><use href="#tl" x="1422" y="2189"/><use href="#tl" x="1455" y="2206"/><use href="#tl" x="1488" y="2223"/><use href="#tl" x="1522" y="2241"/><use href="#tl" x="1536" y="2249"/><use href="#tl" x="1539" y="2251"/><use href="#tl" x="1542" y="2253"/><use href="#tl" x="1545" y="2254"/><use href="#tl" x="1548" y="2256"/><use href="#tl" x="1550" y="2258"/><use href="#tl" x="1553" y="2260"/><use href="#tl" x="1556" y="2261"/><use href="#tl" x="1559" y="2263"/><use href="#tl" x="1562" y="2265"/><use href="#tl" x="1565" y="2266"/><use href="#tl" x="1568" y="2268"/><use href="#tl" x="1570" y="2270"/><use href="#tl" x="1573" y="2271"/><use href="#tl" x="1576" y="2273"/><use href="#tl" x="1578" y="2275"/><use href="#tl" x="1581" y="2276"/><use href="#tl" x="1584" y="2278"/><use href="#tl" x="1586" y="2279"/><use href="#tl" x="1589" y="2281"/><use href="#tl" x="1591" y="2283"/><use href="#tl" x="1594" y="2285"/><use href="#tl" x="1597" y="2287"/><use href="#tl" x="1600" y="2288"/><use href="#tl" x="1602" y="2290"/><use href="#tl" x="1604" y="2292"/><use href="#tl" x="1607" y="2294"/><use href="#tl" x="1609" y="2296"/><use href="#tl" x="1612" y="2298"/><use href="#tl" x="1614" y="2300"/><use href="#tl" x="1616" y="2302"/><use href="#tl" x="1619" y="2305"/><use href="#tl" x="1621" y="2307"/><use href="#tl" x="1623" y="2310"/><use href="#tl" x="1625" y="2313"/><use href="#tl" x="1627" y="2315"/><use href="#tl" x="1628" y="2318"/><use href="#tl" x="1630" y="2321"/><use href="#tl" x="1631" y="2324"/><use href="#tl" x="1631" y="2328"/><use href="#tl" x="1632" y="2331"/><use href="#tl" x="1632" y="2334"/><use href="#tl" x="1632" y="2337"/><use href="#tl" x="1631" y="2341"/><use href="#tl" x="1629" y="2343"/><use href="#tl" x="1627" y="2346"/><use href="#tl" x="1625" y="2349"/><use href="#tl" x="1623" y="2352"/><use href="#tl" x="1621" y="2354"/><use href="#tl" x="1618" y="2357"/><use href="#tl" x="1616" y="2359"/><use href="#tl" x="1613" y="2361"/><use href="#tl" x="1611" y="2363"/><use href="#tl" x="1608" y="2365"/><use href="#tl" x="1605" y="2367"/><use href="#tl" x="1602" y="2369"/><use href="#tl" x="1600" y="2370"/><use href="#tl" x="1597" y="2372"/><use href="#tl" x="1594" y="2373"/><use href="#tl" x="1591" y="2375"/><use href="#tl" x="1588" y="2376"/><use href="#tl" x="1585" y="2377"/><use href="#tl" x="1582" y="2379"/><use href="#tl" x="1579" y="2380"/><use href="#tl" x="1576" y="2382"/><use href="#tl" x="1573" y="2383"/><use href="#tl" x="1570" y="2384"/><use href="#tl" x="1567" y="2385"/><use href="#tl" x="1564" y="2386"/><use href="#tl" x="1561" y="2387"/><use href="#tl" x="1558" y="2388"/><use href="#tl" x="1555" y="2389"/><use href="#tl" x="1552" y="2390"/><use href="#tl" x="1549" y="2392"/><use href="#tl" x="1546" y="2393"/><use href="#tl" x="1543" y="2394"/><use href="#tl" x="1540" y="2395"/><use href="#tl" x="1534" y="2398"/><use href="#tl" x="1489" y="2415"/><use href="#tl" x="1445" y="2432"/><use href="#tl" x="1401" y="2450"/><use href="#tl" x="1356" y="2467"/><use href="#tl" x="1313" y="2485"/><use href="#tl" x="1271" y="2502"/><use href="#tl" x="1228" y="2520"/><use href="#tl" x="1185" y="2537"/><use href="#tl" x="1142" y="2554"/><use href="#tl" x="1100" y="2572"/><use href="#tl" x="1057" y="2589"/><use href="#tl" x="1015" y="2607"/><use href="#tl" x="974" y="2624"/><use href="#tl" x="958" y="2632"/><use href="#tl" x="954" y="2635"/><use href="#tl" x="950" y="2638"/><use href="#tl" x="949" y="2643"/><use href="#tl" x="949" y="2648"/><use href="#tl" x="951" y="2653"/><use href="#tl" x="952" y="2658"/><use href="#tl" x="955" y="2663"/><use href="#tl" x="957" y="2668"/><use href="#tl" x="959" y="2672"/><use href="#tl" x="962" y="2677"/><use href="#tl" x="964" y="2681"/><use href="#tl" x="967" y="2686"/><use href="#tl" x="970" y="2690"/><use href="#tl" x="972" y="2695"/><use href="#tl" x="975" y="2699"/><use href="#tl" x="978" y="2704"/><use href="#tl" x="980" y="2708"/><use href="#tl" x="983" y="2713"/><use href="#tl" x="986" y="2717"/><use href="#tl" x="988" y="2722"/><use href="#tl" x="991" y="2726"/><use href="#tl" x="994" y="2731"/><use href="#tl" x="997" y="2735"/><use href="#tl" x="999" y="2740"/></g>
<path d="M475.5 1647.7L950.1 1928L1352.8 2162.1L1396 2186.1L1490.6 2234.9L1515.3 2248.2L1568 2280L1577.9 2286.8L1589.8 2296.2L1598.9 2304.4L1603.9 2310.2L1608.9 2317.9L1611.4 2325.4L1612.5 2334L1611.4 2339.9L1608.3 2345.7L1600.8 2354.7L1587.2 2366.3L1581.4 2369.7L1562.9 2378.7L1553.5 2382.8L1526 2392.9L1491.5 2407L1464.5 2417L1324 2471.8L1010.7 2599.8L970.9 2616.8L960.5 2621.8L953.5 2625.8L949.1 2629.8L947.9 2631.8L947 2634.8L947.5 2641.8L950.9 2651.8L956.8 2663.8L966 2679.8L1003.7 2740.8" fill="none" stroke="#8000ff" stroke-width="1.8"/>
<g fill="#8000ff" stroke="#8000ff"><use href="#tr" x="476" y="1648"/><use href="#tr" x="484" y="1653"/><use href="#tr" x="493" y="1658"/><use href="#tr" x="502" y="1663"/><use href="#tr" x="511" y="1668"/><use href="#tr" x="536" y="1684"/><use href="#tr" x="565" y="1701"/><use href="#tr" x="571" y="1704"/><use href="#tr" x="574" y="1706"/><use href="#tr" x="578" y="1708"/><use href="#tr" x="581" y="1710"/><use href="#tr" x="585" y="1712"/><use href="#tr" x="588" y="1714"/><use href="#tr" x="592" y="1716"/><use href="#tr" x="595" y="1718"/><use href="#tr" x="599" y="1721"/><use href="#tr" x="602" y="1723"/><use href="#tr" x="606" y="1725"/><use href="#tr" x="609" y="1727"/><use href="#tr" x="613" y="1729"/><use href="#tr" x="624" y="1736"/><use href="#tr" x="654" y="1753"/><use href="#tr" x="683" y="1771"/><use href="#tr" x="713" y="1788"/><use href="#tr" x="742" y="1805"/><use href="#tr" x="772" y="1823"/><use href="#tr" x="801" y="1840"/><use href="#tr" x="831" y="1858"/><use href="#tr" x="860" y="1875"/><use href="#tr" x="890" y="1892"/><use href="#tr" x="920" y="1910"/><use href="#tr" x="949" y="1927"/><use href="#tr" x="979" y="1945"/><use href="#tr" x="1009" y="1962"/><use href="#tr" x="1039" y="1980"/><use href="#tr" x="1069" y="1997"/><use href="#tr" x="1099" y="2014"/><use href="#tr" x="1129" y="2032"/><use href="#tr" x="1159" y="2049"/><use href="#tr" x="1189" y="2067"/><use href="#tr" x="1219" y="2084"/><use href="#tr" x="1249" y="2102"/><use href="#tr" x="1279" y="2119"/><use href="#tr" x="1309" y="2136"/><use href="#tr" x="1339" y="2154"/><use href="#tr" x="1369" y="2171"/><use href="#tr" x="1401" y="2189"/><use href="#tr" x="1434" y="2206"/><use href="#tr" x="1468" y="2223"/><use href="#tr" x="1502" y="2241"/><use href="#tr" x="1517" y="2249"/><use href="#tr" x="1520" y="2251"/><use href="#tr" x="1522" y="2253"/><use href="#tr" x="1525" y="2254"/><use href="#tr" x="1528" y="2256"/><use href="#tr" x="1531" y="2258"/><use href="#tr" x="1534" y="2260"/><use href="#tr" x="1537" y="2261"/><use href="#tr" x="1539" y="2263"/><use href="#tr" x="1542" y="2265"/><use href="#tr" x="1545" y="2266"/><use href="#tr" x="1548" y="2268"/><use href="#tr" x="1551" y="2270"/><use href="#tr" x="1554" y="2271"/><use href="#tr" x="1556" y="2273"/><use href="#tr" x="1559" y="2275"/><use href="#tr" x="1562" y="2276"/><use href="#tr" x="1564" y="2278"/><use href="#tr" x="1567" y="2279"/><use href="#tr" x="1569" y="2281"/><use href="#tr" x="1572" y="2283"/><use href="#tr" x="1575" y="2285"/><use href="#tr" x="1578" y="2287"/><use href="#tr" x="1580" y="2288"/><use href="#tr" x="1582" y="2290"/><use href="#tr" x="1585" y="2292"/><use href="#tr" x="1587" y="2294"/><use href="#tr" x="1590" y="2296"/><use href="#tr" x="1592" y="2298"/><use href="#tr" x="1595" y="2300"/><use href="#tr" x="1597" y="2302"/><use href="#tr" x="1599" y="2305"/><use href="#tr" x="1602" y="2307"/><use href="#tr" x="1604" y="2310"/><use href="#tr" x="1606" y="2313"/><use href="#tr" x="1607" y="2315"/><use href="#tr" x="1609" y="2318"/><use href="#tr" x="1610" y="2321"/><use href="#tr" x="1611" y="2324"/><use href="#tr" x="1612" y="2328"/><use href="#tr" x="1612" y="2331"/><use href="#tr" x="1612" y="2334"/><use href="#tr" x="1612" y="2337"/><use href="#tr" x="1611" y="2341"/><use href="#tr" x="1610" y="2343"/><use href="#tr" x="1608" y="2346"/><use href="#tr" x="1606" y="2349"/><use href="#tr" x="1603" y="2352"/><use href="#tr" x="1601" y="2354"/><use href="#tr" x="1599" y="2357"/><use href="#tr" x="1596" y="2359"/><use href="#tr" x="1594" y="2361"/><use href="#tr" x="1591" y="2363"/><use href="#tr" x="1589" y="2365"/><use href="#tr" x="1586" y="2367"/><use href="#tr" x="1583" y="2369"/><use href="#tr" x="1580" y="2370"/><use href="#tr" x="1577" y="2372"/><use href="#tr" x="1574" y="2373"/><use href="#tr" x="1571" y="2375"/><use href="#tr" x="1568" y="2376"/><use href="#tr" x="1565" y="2377"/><use href="#tr" x="1562" y="2379"/><use href="#tr" x="1560" y="2380"/><use href="#tr" x="1557" y="2382"/><use href="#tr" x="1554" y="2383"/><use href="#tr" x="1551" y="2384"/><use href="#tr" x="1548" y="2385"/><use href="#tr" x="1545" y="2386"/><use href="#tr" x="1542" y="2387"/><use href="#tr" x="1539" y="2388"/><use href="#tr" x="1535" y="2389"/><use href="#tr" x="1532" y="2390"/><use href="#tr" x="1529" y="2392"/><use href="#tr" x="1526" y="2393"/><use href="#tr" x="1523" y="2394"/><use href="#tr" x="1520" y="2395"/><use href="#tr" x="1514" y="2398"/><use href="#tr" x="1469" y="2415"/><use href="#tr" x="1426" y="2432"/><use href="#tr" x="1381" y="2450"/><use href="#tr" x="1335" y="2467"/><use href="#tr" x="1292" y="2485"/><use href="#tr" x="1250" y="2502"/><use href="#tr" x="1207" y="2520"/><use href="#tr" x="1164" y="2537"/><use href="#tr" x="1121" y="2554"/><use href="#tr" x="1079" y="2572"/><use href="#tr" x="1036" y="2589"/><use href="#tr" x="994" y="2607"/><use href="#tr" x="956" y="2624"/><use href="#tr" x="952" y="2627"/><use href="#tr" x="949" y="2630"/><use href="#tr" x="947" y="2635"/><use href="#tr" x="947" y="2640"/><use href="#tr" x="948" y="2645"/><use href="#tr" x="950" y="2650"/><use href="#tr" x="952" y="2655"/><use href="#tr" x="955" y="2660"/><use href="#tr" x="957" y="2664"/><use href="#tr" x="960" y="2669"/><use href="#tr" x="962" y="2673"/><use href="#tr" x="965" y="2678"/><use href="#tr" x="967" y="2682"/><use href="#tr" x="970" y="2687"/><use href="#tr" x="973" y="2691"/><use href="#tr" x="976" y="2696"/><use href="#tr" x="978" y="2700"/><use href="#tr" x="981" y="2705"/><use href="#tr" x="984" y="2709"/><use href="#tr" x="987" y="2714"/><use href="#tr" x="990" y="2718"/><use href="#tr" x="992" y="2723"/><use href="#tr" x="995" y="2727"/><use href="#tr" x="998" y="2732"/><use href="#tr" x="1001" y="2736"/><use href="#tr" x="1004" y="2741"/></g>
<path d="M447.9 1647.7L922.5 1928L1253.5 2120L1325.2 2162.1L1368.4 2186.1L1463.1 2234.9L1487.8 2248.2L1540.5 2280L1550.4 2286.8L1562.3 2296.2L1571.4 2304.4L1576.4 2310.2L1581.4 2317.9L1583.9 2325.4L1585 2334L1583.9 2339.9L1580.8 2345.7L1573.3 2354.7L1559.7 2366.3L1553.9 2369.7L1535.4 2378.7L1526 2382.8L1498.5 2392.9L1464 2407L1295 2471.8L1001.5 2591.8L964.6 2607.8L956.6 2611.8L950.2 2615.8L947.9 2617.8L945.7 2620.8L944.7 2623.8L944.3 2627.8L945.5 2636.8L949.5 2647.8L955.9 2659.8L965.7 2675.8L1008.5 2740.8" fill="none" stroke="#800080" stroke-width="1.8"/>
<g fill="#800080" stroke="#800080"><use href="#hx" x="448" y="1648"/><use href="#hx" x="457" y="1653"/><use href="#hx" x="465" y="1658"/><use href="#hx" x="474" y="1663"/><use href="#hx" x="483" y="1668"/><use href="#hx" x="509" y="1684"/><use href="#hx" x="538" y="1701"/><use href="#hx" x="543" y="1704"/><use href="#hx" x="547" y="1706"/><use href="#hx" x="550" y="1708"/><use href="#hx" x="554" y="1710"/><use href="#hx" x="557" y="1712"/><use href="#hx" x="561" y="1714"/><use href="#hx" x="564" y="1716"/><use href="#hx" x="568" y="1718"/><use href="#hx" x="571" y="1721"/><use href="#hx" x="575" y="1723"/><use href="#hx" x="578" y="1725"/><use href="#hx" x="582" y="1727"/><use href="#hx" x="585" y="1729"/><use href="#hx" x="597" y="1736"/><use href="#hx" x="626" y="1753"/><use href="#hx" x="656" y="1771"/><use href="#hx" x="685" y="1788"/><use href="#hx" x="715" y="1805"/><use href="#hx" x="744" y="1823"/><use href="#hx" x="774" y="1840"/><use href="#hx" x="803" y="1858"/><use href="#hx" x="833" y="1875"/><use href="#hx" x="862" y="1892"/><use href="#hx" x="892" y="1910"/><use href="#hx" x="921" y="1927"/><use href="#hx" x="951" y="1945"/><use href="#hx" x="981" y="1962"/><use href="#hx" x="1011" y="1980"/><use href="#hx" x="1042" y="1997"/><use href="#hx" x="1072" y="2014"/><use href="#hx" x="1102" y="2032"/><use href="#hx" x="1131" y="2049"/><use href="#hx" x="1161" y="2067"/><use href="#hx" x="1192" y="2084"/><use href="#hx" x="1222" y="2102"/><use href="#hx" x="1252" y="2119"/><use href="#hx" x="1281" y="2136"/><use href="#hx" x="1311" y="2154"/><use href="#hx" x="1341" y="2171"/><use href="#hx" x="1373" y="2189"/><use href="#hx" x="1406" y="2206"/><use href="#hx" x="1441" y="2223"/><use href="#hx" x="1475" y="2241"/><use href="#hx" x="1489" y="2249"/><use href="#hx" x="1492" y="2251"/><use href="#hx" x="1495" y="2253"/><use href="#hx" x="1498" y="2254"/><use href="#hx" x="1501" y="2256"/><use href="#hx" x="1503" y="2258"/><use href="#hx" x="1506" y="2260"/><use href="#hx" x="1509" y="2261"/><use href="#hx" x="1512" y="2263"/><use href="#hx" x="1515" y="2265"/><use href="#hx" x="1518" y="2266"/><use href="#hx" x="1521" y="2268"/><use href="#hx" x="1523" y="2270"/><use href="#hx" x="1526" y="2271"/><use href="#hx" x="1529" y="2273"/><use href="#hx" x="1531" y="2275"/><use href="#hx" x="1534" y="2276"/><use href="#hx" x="1537" y="2278"/><use href="#hx" x="1539" y="2279"/><use href="#hx" x="1542" y="2281"/><use href="#hx" x="1544" y="2283"/><use href="#hx" x="1547" y="2285"/><use href="#hx" x="1550" y="2287"/><use href="#hx" x="1553" y="2288"/><use href="#hx" x="1555" y="2290"/><use href="#hx" x="1557" y="2292"/><use href="#hx" x="1560" y="2294"/><use href="#hx" x="1562" y="2296"/><use href="#hx" x="1565" y="2298"/><use href="#hx" x="1567" y="2300"/><use href="#hx" x="1569" y="2302"/><use href="#hx" x="1572" y="2305"/><use href="#hx" x="1574" y="2307"/><use href="#hx" x="1576" y="2310"/><use href="#hx" x="1578" y="2313"/><use href="#hx" x="1580" y="2315"/><use href="#hx" x="1581" y="2318"/><use href="#hx" x="1583" y="2321"/><use href="#hx" x="1584" y="2324"/><use href="#hx" x="1584" y="2328"/><use href="#hx" x="1585" y="2331"/><use href="#hx" x="1585" y="2334"/><use href="#hx" x="1585" y="2337"/><use href="#hx" x="1584" y="2341"/><use href="#hx" x="1582" y="2343"/><use href="#hx" x="1580" y="2346"/><use href="#hx" x="1578" y="2349"/><use href="#hx" x="1576" y="2352"/><use href="#hx" x="1574" y="2354"/><use href="#hx" x="1571" y="2357"/><use href="#hx" x="1569" y="2359"/><use href="#hx" x="1566" y="2361"/><use href="#hx" x="1564" y="2363"/><use href="#hx" x="1561" y="2365"/><use href="#hx" x="1558" y="2367"/><use href="#hx" x="1555" y="2369"/><use href="#hx" x="1553" y="2370"/><use href="#hx" x="1550" y="2372"/><use href="#hx" x="1547" y="2373"/><use href="#hx" x="1544" y="2375"/><use href="#hx" x="1541" y="2376"/><use href="#hx" x="1538" y="2377"/><use href="#hx" x="1535" y="2379"/><use href="#hx" x="1532" y="2380"/><use href="#hx" x="1529" y="2382"/><use href="#hx" x="1526" y="2383"/><use href="#hx" x="1523" y="2384"/><use href="#hx" x="1520" y="2385"/><use href="#hx" x="1517" y="2386"/><use href="#hx" x="1514" y="2387"/><use href="#hx" x="1511" y="2388"/><use href="#hx" x="1508" y="2389"/><use href="#hx" x="1505" y="2390"/><use href="#hx" x="1502" y="2392"/><use href="#hx" x="1499" y="2393"/><use href="#hx" x="1496" y="2394"/><use href="#hx" x="1493" y="2395"/><use href="#hx" x="1487" y="2398"/><use href="#hx" x="1442" y="2415"/><use href="#hx" x="1398" y="2432"/><use href="#hx" x="1352" y="2450"/><use href="#hx" x="1306" y="2467"/><use href="#hx" x="1263" y="2485"/><use href="#hx" x="1221" y="2502"/><use href="#hx" x="1178" y="2520"/><use href="#hx" x="1135" y="2537"/><use href="#hx" x="1092" y="2554"/><use href="#hx" x="1050" y="2572"/><use href="#hx" x="1008" y="2589"/><use href="#hx" x="967" y="2607"/><use href="#hx" x="950" y="2616"/><use href="#hx" x="947" y="2619"/><use href="#hx" x="945" y="2624"/><use href="#hx" x="944" y="2629"/><use href="#hx" x="945" y="2634"/><use href="#hx" x="946" y="2639"/><use href="#hx" x="948" y="2644"/><use href="#hx" x="950" y="2649"/><use href="#hx" x="953" y="2654"/><use href="#hx" x="955" y="2658"/><use href="#hx" x="958" y="2663"/><use href="#hx" x="960" y="2667"/><use href="#hx" x="963" y="2672"/><use href="#hx" x="966" y="2676"/><use href="#hx" x="969" y="2681"/><use href="#hx" x="972" y="2685"/><use href="#hx" x="975" y="2690"/><use href="#hx" x="978" y="2694"/><use href="#hx" x="981" y="2699"/><use href="#hx" x="984" y="2703"/><use href="#hx" x="987" y="2708"/><use href="#hx" x="989" y="2712"/><use href="#hx" x="992" y="2716"/><use href="#hx" x="995" y="2721"/><use href="#hx" x="998" y="2725"/><use href="#hx" x="1001" y="2729"/><use href="#hx" x="1004" y="2734"/><use href="#hx" x="1007" y="2738"/></g>
<path d="M428.3 1647.7L902.9 1928L1305.8 2162.1L1348.7 2186.1L1441.9 2234.9L1466.4 2248.2L1516.5 2278.4L1529.1 2286.8L1541 2296.2L1550.1 2304.4L1554.3 2309.1L1559.8 2317.2L1562.3 2324.2L1563.7 2334L1562.6 2339.9L1559.5 2345.7L1552 2354.7L1538.4 2366.3L1532.6 2369.7L1514.1 2378.7L1504.7 2382.8L1477.2 2392.9L1442.7 2407L1273.9 2471.8L1000.2 2583.8L965.8 2598.8L957.9 2602.8L951.8 2606.8L949.8 2608.8L947.9 2611.8L947 2614.8L946.8 2618.8L948.4 2627.8L952.7 2638.8L959.5 2651.8L970.1 2669.8L1014.6 2740.8" fill="none" stroke="#800000" stroke-width="1.8"/>
<g fill="#800000" stroke="#800000"><use href="#st" x="428" y="1648"/><use href="#st" x="437" y="1653"/><use href="#st" x="446" y="1658"/><use href="#st" x="455" y="1663"/><use href="#st" x="463" y="1668"/><use href="#st" x="489" y="1684"/><use href="#st" x="518" y="1701"/><use href="#st" x="524" y="1704"/><use href="#st" x="527" y="1706"/><use href="#st" x="531" y="1708"/><use href="#st" x="534" y="1710"/><use href="#st" x="538" y="1712"/><use href="#st" x="541" y="1714"/><use href="#st" x="545" y="1716"/><use href="#st" x="548" y="1718"/><use href="#st" x="552" y="1721"/><use href="#st" x="555" y="1723"/><use href="#st" x="559" y="1725"/><use href="#st" x="562" y="1727"/><use href="#st" x="566" y="1729"/><use href="#st" x="577" y="1736"/><use href="#st" x="607" y="1753"/><use href="#st" x="636" y="1771"/><use href="#st" x="666" y="1788"/><use href="#st" x="695" y="1805"/><use href="#st" x="725" y="1823"/><use href="#st" x="754" y="1840"/><use href="#st" x="784" y="1858"/><use href="#st" x="813" y="1875"/><use href="#st" x="842" y="1892"/><use href="#st" x="872" y="1910"/><use href="#st" x="902" y="1927"/><use href="#st" x="932" y="1945"/><use href="#st" x="962" y="1962"/><use href="#st" x="992" y="1980"/><use href="#st" x="1022" y="1997"/><use href="#st" x="1052" y="2014"/><use href="#st" x="1082" y="2032"/><use href="#st" x="1112" y="2049"/><use href="#st" x="1142" y="2067"/><use href="#st" x="1172" y="2084"/><use href="#st" x="1202" y="2102"/><use href="#st" x="1232" y="2119"/><use href="#st" x="1262" y="2136"/><use href="#st" x="1292" y="2154"/><use href="#st" x="1322" y="2171"/><use href="#st" x="1353" y="2189"/><use href="#st" x="1386" y="2206"/><use href="#st" x="1420" y="2223"/><use href="#st" x="1453" y="2241"/><use href="#st" x="1468" y="2249"/><use href="#st" x="1471" y="2251"/><use href="#st" x="1474" y="2253"/><use href="#st" x="1476" y="2254"/><use href="#st" x="1479" y="2256"/><use href="#st" x="1482" y="2258"/><use href="#st" x="1485" y="2260"/><use href="#st" x="1488" y="2261"/><use href="#st" x="1491" y="2263"/><use href="#st" x="1494" y="2265"/><use href="#st" x="1496" y="2266"/><use href="#st" x="1499" y="2268"/><use href="#st" x="1502" y="2270"/><use href="#st" x="1505" y="2271"/><use href="#st" x="1507" y="2273"/><use href="#st" x="1510" y="2275"/><use href="#st" x="1513" y="2276"/><use href="#st" x="1515" y="2278"/><use href="#st" x="1518" y="2279"/><use href="#st" x="1521" y="2281"/><use href="#st" x="1523" y="2283"/><use href="#st" x="1526" y="2285"/><use href="#st" x="1529" y="2287"/><use href="#st" x="1531" y="2288"/><use href="#st" x="1534" y="2290"/><use href="#st" x="1536" y="2292"/><use href="#st" x="1538" y="2294"/><use href="#st" x="1541" y="2296"/><use href="#st" x="1544" y="2298"/><use href="#st" x="1546" y="2300"/><use href="#st" x="1548" y="2302"/><use href="#st" x="1550" y="2305"/><use href="#st" x="1553" y="2307"/><use href="#st" x="1555" y="2310"/><use href="#st" x="1557" y="2313"/><use href="#st" x="1559" y="2315"/><use href="#st" x="1560" y="2318"/><use href="#st" x="1561" y="2321"/><use href="#st" x="1562" y="2324"/><use href="#st" x="1563" y="2328"/><use href="#st" x="1563" y="2331"/><use href="#st" x="1564" y="2334"/><use href="#st" x="1563" y="2337"/><use href="#st" x="1562" y="2341"/><use href="#st" x="1561" y="2343"/><use href="#st" x="1559" y="2346"/><use href="#st" x="1557" y="2349"/><use href="#st" x="1555" y="2352"/><use href="#st" x="1552" y="2354"/><use href="#st" x="1550" y="2357"/><use href="#st" x="1547" y="2359"/><use href="#st" x="1545" y="2361"/><use href="#st" x="1542" y="2363"/><use href="#st" x="1540" y="2365"/><use href="#st" x="1537" y="2367"/><use href="#st" x="1534" y="2369"/><use href="#st" x="1531" y="2370"/><use href="#st" x="1529" y="2372"/><use href="#st" x="1526" y="2373"/><use href="#st" x="1523" y="2375"/><use href="#st" x="1520" y="2376"/><use href="#st" x="1517" y="2377"/><use href="#st" x="1514" y="2379"/><use href="#st" x="1511" y="2380"/><use href="#st" x="1508" y="2382"/><use href="#st" x="1505" y="2383"/><use href="#st" x="1502" y="2384"/><use href="#st" x="1499" y="2385"/><use href="#st" x="1496" y="2386"/><use href="#st" x="1493" y="2387"/><use href="#st" x="1490" y="2388"/><use href="#st" x="1487" y="2389"/><use href="#st" x="1483" y="2390"/><use href="#st" x="1481" y="2392"/><use href="#st" x="1478" y="2393"/><use href="#st" x="1475" y="2394"/><use href="#st" x="1472" y="2395"/><use href="#st" x="1465" y="2398"/><use href="#st" x="1421" y="2415"/><use href="#st" x="1377" y="2432"/><use href="#st" x="1331" y="2450"/><use href="#st" x="1285" y="2467"/><use href="#st" x="1242" y="2485"/><use href="#st" x="1199" y="2502"/><use href="#st" x="1157" y="2520"/><use href="#st" x="1114" y="2537"/><use href="#st" x="1071" y="2554"/><use href="#st" x="1029" y="2572"/><use href="#st" x="987" y="2589"/><use href="#st" x="953" y="2606"/><use href="#st" x="949" y="2609"/><use href="#st" x="947" y="2614"/><use href="#st" x="947" y="2619"/><use href="#st" x="948" y="2624"/><use href="#st" x="949" y="2629"/><use href="#st" x="951" y="2634"/><use href="#st" x="953" y="2639"/><use href="#st" x="955" y="2644"/><use href="#st" x="958" y="2648"/><use href="#st" x="960" y="2653"/><use href="#st" x="963" y="2657"/><use href="#st" x="965" y="2662"/><use href="#st" x="968" y="2666"/><use href="#st" x="971" y="2671"/><use href="#st" x="973" y="2675"/><use href="#st" x="976" y="2680"/><use href="#st" x="979" y="2684"/><use href="#st" x="982" y="2689"/><use href="#st" x="985" y="2693"/><use href="#st" x="987" y="2698"/><use href="#st" x="990" y="2702"/><use href="#st" x="993" y="2707"/><use href="#st" x="996" y="2711"/><use href="#st" x="999" y="2716"/><use href="#st" x="1002" y="2720"/><use href="#st" x="1004" y="2725"/><use href="#st" x="1007" y="2729"/><use href="#st" x="1010" y="2734"/><use href="#st" x="1013" y="2738"/></g>
<path d="M403.2 1647.7L877.8 1928L1280.7 2162.1L1323.6 2186.1L1441 2248.2L1491.2 2278.4L1503.8 2286.8L1515.7 2296.2L1524.8 2304.4L1529 2309.1L1534.5 2317.2L1537 2324.2L1538.4 2334L1537.3 2339.9L1534.2 2345.7L1526.7 2354.7L1513.1 2366.3L1507.3 2369.7L1488.8 2378.7L1479.4 2382.8L1457 2390.9L1419.5 2406.2L1390.4 2417L1366.8 2426.5L1247.5 2471.8L998.5 2573.8L966.5 2587.8L958.7 2591.8L952.7 2595.8L950.7 2597.8L948.8 2600.8L947.7 2604.8L947.5 2608.8L949.2 2619.8L953.9 2631.8L960.9 2644.8L972.5 2663.8L1022.5 2740.8" fill="none" stroke="#808000" stroke-width="1.8"/>
<g fill="#808000" stroke="#808000"><use href="#pe" x="403" y="1648"/><use href="#pe" x="412" y="1653"/><use href="#pe" x="421" y="1658"/><use href="#pe" x="430" y="1663"/><use href="#pe" x="438" y="1668"/><use href="#pe" x="464" y="1684"/><use href="#pe" x="493" y="1701"/><use href="#pe" x="498" y="1704"/><use href="#pe" x="502" y="1706"/><use href="#pe" x="506" y="1708"/><use href="#pe" x="509" y="1710"/><use href="#pe" x="513" y="1712"/><use href="#pe" x="516" y="1714"/><use href="#pe" x="519" y="1716"/><use href="#pe" x="523" y="1718"/><use href="#pe" x="526" y="1721"/><use href="#pe" x="530" y="1723"/><use href="#pe" x="534" y="1725"/><use href="#pe" x="537" y="1727"/><use href="#pe" x="541" y="1729"/><use href="#pe" x="552" y="1736"/><use href="#pe" x="582" y="1753"/><use href="#pe" x="611" y="1771"/><use href="#pe" x="641" y="1788"/><use href="#pe" x="670" y="1805"/><use href="#pe" x="700" y="1823"/><use href="#pe" x="729" y="1840"/><use href="#pe" x="759" y="1858"/><use href="#pe" x="788" y="1875"/><use href="#pe" x="817" y="1892"/><use href="#pe" x="847" y="1910"/><use href="#pe" x="877" y="1927"/><use href="#pe" x="907" y="1945"/><use href="#pe" x="936" y="1962"/><use href="#pe" x="966" y="1980"/><use href="#pe" x="997" y="1997"/><use href="#pe" x="1027" y="2014"/><use href="#pe" x="1057" y="2032"/><use href="#pe" x="1087" y="2049"/><use href="#pe" x="1117" y="2067"/><use href="#pe" x="1147" y="2084"/><use href="#pe" x="1177" y="2102"/><use href="#pe" x="1207" y="2119"/><use href="#pe" x="1237" y="2136"/><use href="#pe" x="1266" y="2154"/><use href="#pe" x="1297" y="2171"/><use href="#pe" x="1328" y="2189"/><use href="#pe" x="1361" y="2206"/><use href="#pe" x="1395" y="2223"/><use href="#pe" x="1428" y="2241"/><use href="#pe" x="1442" y="2249"/><use href="#pe" x="1445" y="2251"/><use href="#pe" x="1448" y="2253"/><use href="#pe" x="1451" y="2254"/><use href="#pe" x="1454" y="2256"/><use href="#pe" x="1457" y="2258"/><use href="#pe" x="1460" y="2260"/><use href="#pe" x="1463" y="2261"/><use href="#pe" x="1465" y="2263"/><use href="#pe" x="1468" y="2265"/><use href="#pe" x="1471" y="2266"/><use href="#pe" x="1474" y="2268"/><use href="#pe" x="1477" y="2270"/><use href="#pe" x="1479" y="2271"/><use href="#pe" x="1482" y="2273"/><use href="#pe" x="1485" y="2275"/><use href="#pe" x="1487" y="2276"/><use href="#pe" x="1490" y="2278"/><use href="#pe" x="1493" y="2279"/><use href="#pe" x="1495" y="2281"/><use href="#pe" x="1498" y="2283"/><use href="#pe" x="1501" y="2285"/><use href="#pe" x="1503" y="2287"/><use href="#pe" x="1506" y="2288"/><use href="#pe" x="1508" y="2290"/><use href="#pe" x="1511" y="2292"/><use href="#pe" x="1513" y="2294"/><use href="#pe" x="1516" y="2296"/><use href="#pe" x="1518" y="2298"/><use href="#pe" x="1521" y="2300"/><use href="#pe" x="1523" y="2302"/><use href="#pe" x="1525" y="2305"/><use href="#pe" x="1528" y="2307"/><use href="#pe" x="1530" y="2310"/><use href="#pe" x="1531" y="2313"/><use href="#pe" x="1533" y="2315"/><use href="#pe" x="1535" y="2318"/><use href="#pe" x="1536" y="2321"/><use href="#pe" x="1537" y="2324"/><use href="#pe" x="1538" y="2328"/><use href="#pe" x="1538" y="2331"/><use href="#pe" x="1538" y="2334"/><use href="#pe" x="1538" y="2337"/><use href="#pe" x="1537" y="2341"/><use href="#pe" x="1536" y="2343"/><use href="#pe" x="1534" y="2346"/><use href="#pe" x="1532" y="2349"/><use href="#pe" x="1529" y="2352"/><use href="#pe" x="1527" y="2354"/><use href="#pe" x="1525" y="2357"/><use href="#pe" x="1522" y="2359"/><use href="#pe" x="1520" y="2361"/><use href="#pe" x="1517" y="2363"/><use href="#pe" x="1515" y="2365"/><use href="#pe" x="1512" y="2367"/><use href="#pe" x="1509" y="2369"/><use href="#pe" x="1506" y="2370"/><use href="#pe" x="1503" y="2372"/><use href="#pe" x="1500" y="2373"/><use href="#pe" x="1497" y="2375"/><use href="#pe" x="1494" y="2376"/><use href="#pe" x="1491" y="2377"/><use href="#pe" x="1488" y="2379"/><use href="#pe" x="1486" y="2380"/><use href="#pe" x="1483" y="2382"/><use href="#pe" x="1479" y="2383"/><use href="#pe" x="1477" y="2384"/><use href="#pe" x="1474" y="2385"/><use href="#pe" x="1470" y="2386"/><use href="#pe" x="1468" y="2387"/><use href="#pe" x="1464" y="2388"/><use href="#pe" x="1461" y="2389"/><use href="#pe" x="1458" y="2390"/><use href="#pe" x="1455" y="2392"/><use href="#pe" x="1452" y="2393"/><use href="#pe" x="1449" y="2394"/><use href="#pe" x="1446" y="2395"/><use href="#pe" x="1440" y="2398"/><use href="#pe" x="1395" y="2415"/><use href="#pe" x="1351" y="2432"/><use href="#pe" x="1305" y="2450"/><use href="#pe" x="1259" y="2467"/><use href="#pe" x="1216" y="2485"/><use href="#pe" x="1173" y="2502"/><use href="#pe" x="1130" y="2520"/><use href="#pe" x="1088" y="2537"/><use href="#pe" x="1045" y="2554"/><use href="#pe" x="1003" y="2572"/><use href="#pe" x="964" y="2589"/><use href="#pe" x="953" y="2596"/><use href="#pe" x="949" y="2600"/><use href="#pe" x="948" y="2605"/><use href="#pe" x="948" y="2610"/><use href="#pe" x="948" y="2615"/><use href="#pe" x="949" y="2620"/><use href="#pe" x="951" y="2625"/><use href="#pe" x="953" y="2630"/><use href="#pe" x="955" y="2634"/><use href="#pe" x="958" y="2639"/><use href="#pe" x="960" y="2643"/><use href="#pe" x="963" y="2648"/><use href="#pe" x="965" y="2652"/><use href="#pe" x="968" y="2657"/><use href="#pe" x="971" y="2661"/><use href="#pe" x="974" y="2666"/><use href="#pe" x="977" y="2670"/><use href="#pe" x="980" y="2675"/><use href="#pe" x="982" y="2679"/><use href="#pe" x="985" y="2684"/><use href="#pe" x="988" y="2688"/><use href="#pe" x="991" y="2693"/><use href="#pe" x="994" y="2697"/><use href="#pe" x="997" y="2702"/><use href="#pe" x="1000" y="2706"/><use href="#pe" x="1003" y="2711"/><use href="#pe" x="1006" y="2715"/><use href="#pe" x="1009" y="2720"/><use href="#pe" x="1012" y="2724"/><use href="#pe" x="1015" y="2729"/><use href="#pe" x="1018" y="2733"/><use href="#pe" x="1021" y="2738"/></g>
<path d="M382.5 1647.7L857.1 1928L1259.9 2162.1L1303 2186.1L1397 2234.9L1421.5 2248.2L1474.3 2280L1484.2 2286.8L1496.1 2296.2L1505.2 2304.4L1509.4 2309.1L1514.4 2316.5L1517.4 2324.2L1518.8 2334L1517.9 2339.1L1515 2345.1L1507.8 2354L1494.2 2365.7L1487.7 2369.7L1469.2 2378.7L1459.8 2382.8L1437.4 2390.9L1399.9 2406.2L1370.8 2417L1347.3 2426.5L1223.8 2471.8L996.9 2564.8L967.4 2577.8L959.7 2581.8L953.8 2585.8L951.9 2587.8L950.2 2590.8L949.3 2594.8L949.3 2598.8L951.6 2608.8L956.9 2619.8L964.9 2632.8L979.4 2653.8L1042.2 2740.8" fill="none" stroke="#0066b3" stroke-width="1.8"/>
<g fill="#0066b3" stroke="#0066b3"><use href="#hb" x="383" y="1648"/><use href="#hb" x="391" y="1653"/><use href="#hb" x="400" y="1658"/><use href="#hb" x="409" y="1663"/><use href="#hb" x="418" y="1668"/><use href="#hb" x="443" y="1684"/><use href="#hb" x="472" y="1701"/><use href="#hb" x="478" y="1704"/><use href="#hb" x="481" y="1706"/><use href="#hb" x="485" y="1708"/><use href="#hb" x="488" y="1710"/><use href="#hb" x="492" y="1712"/><use href="#hb" x="495" y="1714"/><use href="#hb" x="499" y="1716"/><use href="#hb" x="502" y="1718"/><use href="#hb" x="506" y="1721"/><use href="#hb" x="509" y="1723"/><use href="#hb" x="513" y="1725"/><use href="#hb" x="516" y="1727"/><use href="#hb" x="520" y="1729"/><use href="#hb" x="531" y="1736"/><use href="#hb" x="561" y="1753"/><use href="#hb" x="590" y="1771"/><use href="#hb" x="620" y="1788"/><use href="#hb" x="649" y="1805"/><use href="#hb" x="679" y="1823"/><use href="#hb" x="708" y="1840"/><use href="#hb" x="738" y="1858"/><use href="#hb" x="767" y="1875"/><use href="#hb" x="797" y="1892"/><use href="#hb" x="827" y="1910"/><use href="#hb" x="856" y="1927"/><use href="#hb" x="886" y="1945"/><use href="#hb" x="916" y="1962"/><use href="#hb" x="946" y="1980"/><use href="#hb" x="976" y="1997"/><use href="#hb" x="1006" y="2014"/><use href="#hb" x="1036" y="2032"/><use href="#hb" x="1066" y="2049"/><use href="#hb" x="1096" y="2067"/><use href="#hb" x="1126" y="2084"/><use href="#hb" x="1156" y="2102"/><use href="#hb" x="1186" y="2119"/><use href="#hb" x="1216" y="2136"/><use href="#hb" x="1246" y="2154"/><use href="#hb" x="1276" y="2171"/><use href="#hb" x="1308" y="2189"/><use href="#hb" x="1341" y="2206"/><use href="#hb" x="1375" y="2223"/><use href="#hb" x="1408" y="2241"/><use href="#hb" x="1423" y="2249"/><use href="#hb" x="1426" y="2251"/><use href="#hb" x="1429" y="2253"/><use href="#hb" x="1432" y="2254"/><use href="#hb" x="1434" y="2256"/><use href="#hb" x="1437" y="2258"/><use href="#hb" x="1440" y="2260"/><use href="#hb" x="1443" y="2261"/><use href="#hb" x="1446" y="2263"/><use href="#hb" x="1449" y="2265"/><use href="#hb" x="1451" y="2266"/><use href="#hb" x="1454" y="2268"/><use href="#hb" x="1457" y="2270"/><use href="#hb" x="1460" y="2271"/><use href="#hb" x="1463" y="2273"/><use href="#hb" x="1465" y="2275"/><use href="#hb" x="1468" y="2276"/><use href="#hb" x="1471" y="2278"/><use href="#hb" x="1473" y="2279"/><use href="#hb" x="1476" y="2281"/><use href="#hb" x="1478" y="2283"/><use href="#hb" x="1481" y="2285"/><use href="#hb" x="1484" y="2287"/><use href="#hb" x="1486" y="2288"/><use href="#hb" x="1489" y="2290"/><use href="#hb" x="1491" y="2292"/><use href="#hb" x="1494" y="2294"/><use href="#hb" x="1496" y="2296"/><use href="#hb" x="1499" y="2298"/><use href="#hb" x="1501" y="2300"/><use href="#hb" x="1503" y="2302"/><use href="#hb" x="1506" y="2305"/><use href="#hb" x="1508" y="2307"/><use href="#hb" x="1510" y="2310"/><use href="#hb" x="1512" y="2313"/><use href="#hb" x="1514" y="2315"/><use href="#hb" x="1515" y="2318"/><use href="#hb" x="1517" y="2321"/><use href="#hb" x="1517" y="2324"/><use href="#hb" x="1518" y="2328"/><use href="#hb" x="1519" y="2331"/><use href="#hb" x="1519" y="2334"/><use href="#hb" x="1518" y="2337"/><use href="#hb" x="1517" y="2341"/><use href="#hb" x="1516" y="2343"/><use href="#hb" x="1514" y="2346"/><use href="#hb" x="1512" y="2349"/><use href="#hb" x="1510" y="2352"/><use href="#hb" x="1507" y="2354"/><use href="#hb" x="1505" y="2357"/><use href="#hb" x="1503" y="2359"/><use href="#hb" x="1500" y="2361"/><use href="#hb" x="1498" y="2363"/><use href="#hb" x="1495" y="2365"/><use href="#hb" x="1492" y="2367"/><use href="#hb" x="1489" y="2369"/><use href="#hb" x="1487" y="2370"/><use href="#hb" x="1484" y="2372"/><use href="#hb" x="1481" y="2373"/><use href="#hb" x="1478" y="2375"/><use href="#hb" x="1475" y="2376"/><use href="#hb" x="1472" y="2377"/><use href="#hb" x="1469" y="2379"/><use href="#hb" x="1466" y="2380"/><use href="#hb" x="1463" y="2382"/><use href="#hb" x="1460" y="2383"/><use href="#hb" x="1457" y="2384"/><use href="#hb" x="1454" y="2385"/><use href="#hb" x="1451" y="2386"/><use href="#hb" x="1448" y="2387"/><use href="#hb" x="1445" y="2388"/><use href="#hb" x="1442" y="2389"/><use href="#hb" x="1439" y="2390"/><use href="#hb" x="1436" y="2392"/><use href="#hb" x="1433" y="2393"/><use href="#hb" x="1430" y="2394"/><use href="#hb" x="1427" y="2395"/><use href="#hb" x="1421" y="2398"/><use href="#hb" x="1376" y="2415"/><use href="#hb" x="1332" y="2432"/><use href="#hb" x="1284" y="2450"/><use href="#hb" x="1236" y="2467"/><use href="#hb" x="1192" y="2485"/><use href="#hb" x="1149" y="2502"/><use href="#hb" x="1107" y="2520"/><use href="#hb" x="1064" y="2537"/><use href="#hb" x="1022" y="2554"/><use href="#hb" x="981" y="2572"/><use href="#hb" x="955" y="2585"/><use href="#hb" x="951" y="2588"/><use href="#hb" x="950" y="2593"/><use href="#hb" x="949" y="2598"/><use href="#hb" x="950" y="2603"/><use href="#hb" x="951" y="2608"/><use href="#hb" x="953" y="2613"/><use href="#hb" x="956" y="2618"/><use href="#hb" x="958" y="2622"/><use href="#hb" x="961" y="2627"/><use href="#hb" x="964" y="2631"/><use href="#hb" x="967" y="2636"/><use href="#hb" x="970" y="2640"/><use href="#hb" x="973" y="2644"/><use href="#hb" x="976" y="2649"/><use href="#hb" x="979" y="2653"/><use href="#hb" x="982" y="2657"/><use href="#hb" x="985" y="2662"/><use href="#hb" x="988" y="2666"/><use href="#hb" x="991" y="2670"/><use href="#hb" x="994" y="2675"/><use href="#hb" x="997" y="2679"/><use href="#hb" x="1001" y="2683"/><use href="#hb" x="1004" y="2688"/><use href="#hb" x="1007" y="2692"/><use href="#hb" x="1010" y="2696"/><use href="#hb" x="1013" y="2701"/><use href="#hb" x="1016" y="2705"/><use href="#hb" x="1019" y="2709"/><use href="#hb" x="1023" y="2714"/><use href="#hb" x="1026" y="2718"/><use href="#hb" x="1029" y="2722"/><use href="#hb" x="1032" y="2727"/><use href="#hb" x="1035" y="2731"/><use href="#hb" x="1038" y="2735"/><use href="#hb" x="1041" y="2740"/></g>
<path d="M362.1 1647.7L836.7 1928L1239.6 2162.1L1282.5 2186.1L1375.6 2234.9L1400.1 2248.2L1450.2 2278.4L1462.8 2286.8L1474.7 2296.2L1483.8 2304.4L1488 2309.1L1493 2316.5L1496 2324.2L1497.4 2334L1496.5 2339.1L1493.6 2345.1L1486.4 2354L1472.8 2365.7L1466.3 2369.7L1449.5 2377.9L1438.4 2382.8L1416 2390.9L1378.5 2406.2L1349.4 2417L1325.9 2426.5L1202.8 2471.8L993.3 2557.8L964.4 2570.8L957.3 2574.8L953.6 2577.8L951.9 2579.8L950.5 2582.8L949.8 2586.8L950 2590.8L952.4 2600.8L957.4 2612.8L965.4 2627.8L978.8 2650.8L1033.6 2740.8" fill="none" stroke="#00a0a0" stroke-width="1.8"/>
<g fill="#00a0a0" stroke="#00a0a0"><use href="#pl" x="362" y="1648"/><use href="#pl" x="371" y="1653"/><use href="#pl" x="380" y="1658"/><use href="#pl" x="388" y="1663"/><use href="#pl" x="397" y="1668"/><use href="#pl" x="423" y="1684"/><use href="#pl" x="452" y="1701"/><use href="#pl" x="457" y="1704"/><use href="#pl" x="461" y="1706"/><use href="#pl" x="464" y="1708"/><use href="#pl" x="468" y="1710"/><use href="#pl" x="471" y="1712"/><use href="#pl" x="475" y="1714"/><use href="#pl" x="478" y="1716"/><use href="#pl" x="482" y="1718"/><use href="#pl" x="485" y="1721"/><use href="#pl" x="489" y="1723"/><use href="#pl" x="492" y="1725"/><use href="#pl" x="496" y="1727"/><use href="#pl" x="500" y="1729"/><use href="#pl" x="511" y="1736"/><use href="#pl" x="541" y="1753"/><use href="#pl" x="570" y="1771"/><use href="#pl" x="599" y="1788"/><use href="#pl" x="629" y="1805"/><use href="#pl" x="659" y="1823"/><use href="#pl" x="688" y="1840"/><use href="#pl" x="717" y="1858"/><use href="#pl" x="747" y="1875"/><use href="#pl" x="776" y="1892"/><use href="#pl" x="806" y="1910"/><use href="#pl" x="836" y="1927"/><use href="#pl" x="865" y="1945"/><use href="#pl" x="895" y="1962"/><use href="#pl" x="925" y="1980"/><use href="#pl" x="956" y="1997"/><use href="#pl" x="986" y="2014"/><use href="#pl" x="1016" y="2032"/><use href="#pl" x="1046" y="2049"/><use href="#pl" x="1076" y="2067"/><use href="#pl" x="1106" y="2084"/><use href="#pl" x="1136" y="2102"/><use href="#pl" x="1166" y="2119"/><use href="#pl" x="1196" y="2136"/><use href="#pl" x="1225" y="2154"/><use href="#pl" x="1256" y="2171"/><use href="#pl" x="1287" y="2189"/><use href="#pl" x="1320" y="2206"/><use href="#pl" x="1354" y="2223"/><use href="#pl" x="1387" y="2241"/><use href="#pl" x="1401" y="2249"/><use href="#pl" x="1404" y="2251"/><use href="#pl" x="1407" y="2253"/><use href="#pl" x="1410" y="2254"/><use href="#pl" x="1413" y="2256"/><use href="#pl" x="1416" y="2258"/><use href="#pl" x="1419" y="2260"/><use href="#pl" x="1422" y="2261"/><use href="#pl" x="1424" y="2263"/><use href="#pl" x="1427" y="2265"/><use href="#pl" x="1430" y="2266"/><use href="#pl" x="1433" y="2268"/><use href="#pl" x="1436" y="2270"/><use href="#pl" x="1438" y="2271"/><use href="#pl" x="1441" y="2273"/><use href="#pl" x="1444" y="2275"/><use href="#pl" x="1446" y="2276"/><use href="#pl" x="1449" y="2278"/><use href="#pl" x="1452" y="2279"/><use href="#pl" x="1454" y="2281"/><use href="#pl" x="1457" y="2283"/><use href="#pl" x="1460" y="2285"/><use href="#pl" x="1462" y="2287"/><use href="#pl" x="1465" y="2288"/><use href="#pl" x="1467" y="2290"/><use href="#pl" x="1470" y="2292"/><use href="#pl" x="1472" y="2294"/><use href="#pl" x="1475" y="2296"/><use href="#pl" x="1477" y="2298"/><use href="#pl" x="1480" y="2300"/><use href="#pl" x="1482" y="2302"/><use href="#pl" x="1484" y="2305"/><use href="#pl" x="1487" y="2307"/><use href="#pl" x="1489" y="2310"/><use href="#pl" x="1490" y="2313"/><use href="#pl" x="1492" y="2315"/><use href="#pl" x="1494" y="2318"/><use href="#pl" x="1495" y="2321"/><use href="#pl" x="1496" y="2324"/><use href="#pl" x="1497" y="2328"/><use href="#pl" x="1497" y="2331"/><use href="#pl" x="1497" y="2334"/><use href="#pl" x="1497" y="2337"/><use href="#pl" x="1496" y="2341"/><use href="#pl" x="1495" y="2343"/><use href="#pl" x="1493" y="2346"/><use href="#pl" x="1491" y="2349"/><use href="#pl" x="1488" y="2352"/><use href="#pl" x="1486" y="2354"/><use href="#pl" x="1484" y="2357"/><use href="#pl" x="1481" y="2359"/><use href="#pl" x="1479" y="2361"/><use href="#pl" x="1476" y="2363"/><use href="#pl" x="1474" y="2365"/><use href="#pl" x="1471" y="2367"/><use href="#pl" x="1468" y="2369"/><use href="#pl" x="1465" y="2370"/><use href="#pl" x="1462" y="2372"/><use href="#pl" x="1459" y="2373"/><use href="#pl" x="1456" y="2375"/><use href="#pl" x="1453" y="2376"/><use href="#pl" x="1450" y="2377"/><use href="#pl" x="1447" y="2379"/><use href="#pl" x="1445" y="2380"/><use href="#pl" x="1442" y="2382"/><use href="#pl" x="1438" y="2383"/><use href="#pl" x="1436" y="2384"/><use href="#pl" x="1433" y="2385"/><use href="#pl" x="1429" y="2386"/><use href="#pl" x="1427" y="2387"/><use href="#pl" x="1423" y="2388"/><use href="#pl" x="1420" y="2389"/><use href="#pl" x="1417" y="2390"/><use href="#pl" x="1414" y="2392"/><use href="#pl" x="1411" y="2393"/><use href="#pl" x="1408" y="2394"/><use href="#pl" x="1405" y="2395"/><use href="#pl" x="1399" y="2398"/><use href="#pl" x="1354" y="2415"/><use href="#pl" x="1310" y="2432"/><use href="#pl" x="1262" y="2450"/><use href="#pl" x="1215" y="2467"/><use href="#pl" x="1171" y="2485"/><use href="#pl" x="1128" y="2502"/><use href="#pl" x="1086" y="2520"/><use href="#pl" x="1043" y="2537"/><use href="#pl" x="1001" y="2554"/><use href="#pl" x="962" y="2572"/><use href="#pl" x="956" y="2576"/><use href="#pl" x="952" y="2579"/><use href="#pl" x="950" y="2584"/><use href="#pl" x="950" y="2589"/><use href="#pl" x="951" y="2594"/><use href="#pl" x="952" y="2599"/><use href="#pl" x="954" y="2604"/><use href="#pl" x="956" y="2609"/><use href="#pl" x="958" y="2614"/><use href="#pl" x="960" y="2619"/><use href="#pl" x="963" y="2623"/><use href="#pl" x="965" y="2628"/><use href="#pl" x="968" y="2632"/><use href="#pl" x="971" y="2637"/><use href="#pl" x="973" y="2641"/><use href="#pl" x="976" y="2646"/><use href="#pl" x="978" y="2650"/><use href="#pl" x="981" y="2655"/><use href="#pl" x="984" y="2659"/><use href="#pl" x="987" y="2664"/><use href="#pl" x="989" y="2668"/><use href="#pl" x="992" y="2673"/><use href="#pl" x="995" y="2677"/><use href="#pl" x="997" y="2682"/><use href="#pl" x="1000" y="2686"/><use href="#pl" x="1003" y="2691"/><use href="#pl" x="1006" y="2695"/><use href="#pl" x="1008" y="2700"/><use href="#pl" x="1011" y="2704"/><use href="#pl" x="1014" y="2709"/><use href="#pl" x="1017" y="2713"/><use href="#pl" x="1019" y="2718"/><use href="#pl" x="1022" y="2722"/><use href="#pl" x="1025" y="2727"/><use href="#pl" x="1028" y="2731"/><use href="#pl" x="1030" y="2736"/><use href="#pl" x="1033" y="2740"/></g>
<path d="M343.1 1647.7L817.7 1928L1220.6 2162.1L1263.5 2186.1L1380.6 2248.2L1430.8 2278.4L1443.4 2286.8L1455.3 2296.2L1464.4 2304.4L1468.6 2309.1L1472.6 2314.9L1475.7 2321.1L1477.8 2330.6L1477.8 2336.8L1475.7 2342.7L1469.3 2351.5L1463.6 2357.2L1452.7 2366.3L1444.6 2370.9L1421 2382L1396.6 2390.9L1359.1 2406.2L1327.5 2418L1311.9 2424.6L1178.9 2471.8L991.6 2548.8L967.4 2559.8L960.4 2563.8L956.6 2566.8L954.4 2569.8L953.3 2572.8L952.9 2576.8L953.3 2580.8L955.9 2589.8L962.2 2601.8L972 2616.8L988.2 2639.8L1062.1 2740.8" fill="none" stroke="#c07030" stroke-width="1.8"/>
<g fill="#c07030" stroke="#c07030"><use href="#xx" x="343" y="1648"/><use href="#xx" x="352" y="1653"/><use href="#xx" x="361" y="1658"/><use href="#xx" x="369" y="1663"/><use href="#xx" x="378" y="1668"/><use href="#xx" x="404" y="1684"/><use href="#xx" x="433" y="1701"/><use href="#xx" x="438" y="1704"/><use href="#xx" x="442" y="1706"/><use href="#xx" x="445" y="1708"/><use href="#xx" x="449" y="1710"/><use href="#xx" x="452" y="1712"/><use href="#xx" x="456" y="1714"/><use href="#xx" x="459" y="1716"/><use href="#xx" x="463" y="1718"/><use href="#xx" x="466" y="1721"/><use href="#xx" x="470" y="1723"/><use href="#xx" x="473" y="1725"/><use href="#xx" x="477" y="1727"/><use href="#xx" x="481" y="1729"/><use href="#xx" x="492" y="1736"/><use href="#xx" x="522" y="1753"/><use href="#xx" x="551" y="1771"/><use href="#xx" x="580" y="1788"/><use href="#xx" x="610" y="1805"/><use href="#xx" x="640" y="1823"/><use href="#xx" x="669" y="1840"/><use href="#xx" x="698" y="1858"/><use href="#xx" x="728" y="1875"/><use href="#xx" x="757" y="1892"/><use href="#xx" x="787" y="1910"/><use href="#xx" x="817" y="1927"/><use href="#xx" x="846" y="1945"/><use href="#xx" x="876" y="1962"/><use href="#xx" x="906" y="1980"/><use href="#xx" x="937" y="1997"/><use href="#xx" x="967" y="2014"/><use href="#xx" x="997" y="2032"/><use href="#xx" x="1027" y="2049"/><use href="#xx" x="1057" y="2067"/><use href="#xx" x="1087" y="2084"/><use href="#xx" x="1117" y="2102"/><use href="#xx" x="1147" y="2119"/><use href="#xx" x="1177" y="2136"/><use href="#xx" x="1206" y="2154"/><use href="#xx" x="1237" y="2171"/><use href="#xx" x="1268" y="2189"/><use href="#xx" x="1301" y="2206"/><use href="#xx" x="1334" y="2223"/><use href="#xx" x="1368" y="2241"/><use href="#xx" x="1382" y="2249"/><use href="#xx" x="1385" y="2251"/><use href="#xx" x="1388" y="2253"/><use href="#xx" x="1391" y="2254"/><use href="#xx" x="1394" y="2256"/><use href="#xx" x="1396" y="2258"/><use href="#xx" x="1399" y="2260"/><use href="#xx" x="1402" y="2261"/><use href="#xx" x="1405" y="2263"/><use href="#xx" x="1408" y="2265"/><use href="#xx" x="1411" y="2266"/><use href="#xx" x="1414" y="2268"/><use href="#xx" x="1416" y="2270"/><use href="#xx" x="1419" y="2271"/><use href="#xx" x="1422" y="2273"/><use href="#xx" x="1424" y="2275"/><use href="#xx" x="1427" y="2276"/><use href="#xx" x="1430" y="2278"/><use href="#xx" x="1432" y="2279"/><use href="#xx" x="1435" y="2281"/><use href="#xx" x="1437" y="2283"/><use href="#xx" x="1440" y="2285"/><use href="#xx" x="1443" y="2287"/><use href="#xx" x="1446" y="2288"/><use href="#xx" x="1448" y="2290"/><use href="#xx" x="1450" y="2292"/><use href="#xx" x="1453" y="2294"/><use href="#xx" x="1455" y="2296"/><use href="#xx" x="1458" y="2298"/><use href="#xx" x="1460" y="2300"/><use href="#xx" x="1462" y="2302"/><use href="#xx" x="1465" y="2305"/><use href="#xx" x="1467" y="2307"/><use href="#xx" x="1469" y="2310"/><use href="#xx" x="1471" y="2313"/><use href="#xx" x="1473" y="2315"/><use href="#xx" x="1474" y="2318"/><use href="#xx" x="1476" y="2321"/><use href="#xx" x="1477" y="2324"/><use href="#xx" x="1477" y="2328"/><use href="#xx" x="1478" y="2331"/><use href="#xx" x="1478" y="2334"/><use href="#xx" x="1478" y="2337"/><use href="#xx" x="1477" y="2341"/><use href="#xx" x="1475" y="2343"/><use href="#xx" x="1473" y="2346"/><use href="#xx" x="1471" y="2349"/><use href="#xx" x="1469" y="2352"/><use href="#xx" x="1467" y="2354"/><use href="#xx" x="1464" y="2357"/><use href="#xx" x="1462" y="2359"/><use href="#xx" x="1459" y="2361"/><use href="#xx" x="1457" y="2363"/><use href="#xx" x="1454" y="2365"/><use href="#xx" x="1451" y="2367"/><use href="#xx" x="1448" y="2369"/><use href="#xx" x="1446" y="2370"/><use href="#xx" x="1443" y="2372"/><use href="#xx" x="1440" y="2373"/><use href="#xx" x="1437" y="2375"/><use href="#xx" x="1434" y="2376"/><use href="#xx" x="1431" y="2377"/><use href="#xx" x="1428" y="2379"/><use href="#xx" x="1425" y="2380"/><use href="#xx" x="1422" y="2382"/><use href="#xx" x="1419" y="2383"/><use href="#xx" x="1416" y="2384"/><use href="#xx" x="1413" y="2385"/><use href="#xx" x="1410" y="2386"/><use href="#xx" x="1407" y="2387"/><use href="#xx" x="1404" y="2388"/><use href="#xx" x="1401" y="2389"/><use href="#xx" x="1398" y="2390"/><use href="#xx" x="1395" y="2392"/><use href="#xx" x="1392" y="2393"/><use href="#xx" x="1389" y="2394"/><use href="#xx" x="1386" y="2395"/><use href="#xx" x="1380" y="2398"/><use href="#xx" x="1335" y="2415"/><use href="#xx" x="1290" y="2432"/><use href="#xx" x="1241" y="2450"/><use href="#xx" x="1191" y="2467"/><use href="#xx" x="1147" y="2485"/><use href="#xx" x="1105" y="2502"/><use href="#xx" x="1062" y="2520"/><use href="#xx" x="1020" y="2537"/><use href="#xx" x="979" y="2554"/><use href="#xx" x="959" y="2565"/><use href="#xx" x="955" y="2568"/><use href="#xx" x="953" y="2573"/><use href="#xx" x="953" y="2578"/><use href="#xx" x="954" y="2583"/><use href="#xx" x="955" y="2588"/><use href="#xx" x="957" y="2593"/><use href="#xx" x="960" y="2598"/><use href="#xx" x="962" y="2602"/><use href="#xx" x="965" y="2607"/><use href="#xx" x="968" y="2611"/><use href="#xx" x="971" y="2615"/><use href="#xx" x="974" y="2620"/><use href="#xx" x="977" y="2624"/><use href="#xx" x="980" y="2628"/><use href="#xx" x="983" y="2633"/><use href="#xx" x="986" y="2637"/><use href="#xx" x="989" y="2641"/><use href="#xx" x="993" y="2646"/><use href="#xx" x="996" y="2650"/><use href="#xx" x="999" y="2654"/><use href="#xx" x="1002" y="2659"/><use href="#xx" x="1005" y="2663"/><use href="#xx" x="1008" y="2667"/><use href="#xx" x="1011" y="2672"/><use href="#xx" x="1015" y="2676"/><use href="#xx" x="1018" y="2680"/><use href="#xx" x="1021" y="2685"/><use href="#xx" x="1024" y="2689"/><use href="#xx" x="1027" y="2693"/><use href="#xx" x="1030" y="2698"/><use href="#xx" x="1034" y="2702"/><use href="#xx" x="1037" y="2706"/><use href="#xx" x="1040" y="2711"/><use href="#xx" x="1043" y="2715"/><use href="#xx" x="1046" y="2719"/><use href="#xx" x="1050" y="2724"/><use href="#xx" x="1053" y="2728"/><use href="#xx" x="1056" y="2732"/><use href="#xx" x="1059" y="2737"/></g>
<path d="M438 208L453.6 268L466.9 314L474.5 348L479.3 378L491.7 472L498.4 518L529.3 714L539.7 772L559.9 866L568.5 912L574.4 950L593 1082L619 1306" fill="none" stroke="#000000" stroke-width="1.8"/>
<g fill="#000000" stroke="#000000"><use href="#sq" x="438" y="208"/><use href="#sq" x="440" y="214"/><use href="#sq" x="441" y="220"/><use href="#sq" x="443" y="226"/><use href="#sq" x="447" y="243"/><use href="#sq" x="452" y="260"/><use href="#sq" x="457" y="278"/><use href="#sq" x="462" y="296"/><use href="#sq" x="467" y="313"/><use href="#sq" x="471" y="331"/><use href="#sq" x="474" y="348"/><use href="#sq" x="477" y="366"/><use href="#sq" x="480" y="383"/><use href="#sq" x="482" y="401"/><use href="#sq" x="485" y="418"/><use href="#sq" x="487" y="436"/><use href="#sq" x="489" y="454"/><use href="#sq" x="492" y="471"/><use href="#sq" x="494" y="489"/><use href="#sq" x="497" y="506"/><use href="#sq" x="499" y="524"/><use href="#sq" x="502" y="541"/><use href="#sq" x="505" y="559"/><use href="#sq" x="507" y="576"/><use href="#sq" x="510" y="594"/><use href="#sq" x="513" y="612"/><use href="#sq" x="516" y="629"/><use href="#sq" x="518" y="647"/><use href="#sq" x="521" y="664"/><use href="#sq" x="524" y="682"/><use href="#sq" x="527" y="699"/><use href="#sq" x="530" y="717"/><use href="#sq" x="533" y="734"/><use href="#sq" x="536" y="752"/><use href="#sq" x="539" y="770"/><use href="#sq" x="543" y="787"/><use href="#sq" x="547" y="805"/><use href="#sq" x="550" y="822"/><use href="#sq" x="554" y="840"/><use href="#sq" x="558" y="858"/><use href="#sq" x="562" y="875"/><use href="#sq" x="565" y="892"/><use href="#sq" x="568" y="910"/><use href="#sq" x="571" y="928"/><use href="#sq" x="574" y="945"/><use href="#sq" x="576" y="963"/><use href="#sq" x="579" y="980"/><use href="#sq" x="581" y="998"/><use href="#sq" x="583" y="1016"/><use href="#sq" x="586" y="1033"/><use href="#sq" x="588" y="1050"/><use href="#sq" x="591" y="1068"/><use href="#sq" x="593" y="1085"/><use href="#sq" x="594" y="1092"/><use href="#sq" x="595" y="1100"/><use href="#sq" x="596" y="1107"/><use href="#sq" x="597" y="1114"/><use href="#sq" x="598" y="1121"/><use href="#sq" x="599" y="1128"/><use href="#sq" x="599" y="1136"/><use href="#sq" x="600" y="1143"/><use href="#sq" x="601" y="1150"/><use href="#sq" x="602" y="1157"/><use href="#sq" x="603" y="1164"/><use href="#sq" x="604" y="1172"/><use href="#sq" x="604" y="1179"/><use href="#sq" x="605" y="1186"/><use href="#sq" x="606" y="1193"/><use href="#sq" x="607" y="1200"/><use href="#sq" x="608" y="1208"/><use href="#sq" x="609" y="1215"/><use href="#sq" x="609" y="1222"/><use href="#sq" x="610" y="1229"/><use href="#sq" x="611" y="1236"/><use href="#sq" x="612" y="1244"/><use href="#sq" x="613" y="1251"/><use href="#sq" x="614" y="1258"/><use href="#sq" x="614" y="1265"/><use href="#sq" x="615" y="1272"/><use href="#sq" x="616" y="1280"/><use href="#sq" x="617" y="1287"/><use href="#sq" x="618" y="1294"/><use href="#sq" x="618" y="1301"/></g>
<path d="M438 208L520.7 272.3L592.8 330.8L1053.7 714.8L1095.5 749.2L1154.7 794.6L1208.9 841L1232 841L1258 865.5L1281.6 883.9L1295.3 897.8L1304.7 909.4L1310.7 918.3L1315 927.5L1318.7 938.3L1334.2 998.6L1353.7 1082.4L1365.8 1121.6L1371.1 1141.5L1408 1302" fill="none" stroke="#ff0000" stroke-width="1.8"/>
<g fill="#ff0000" stroke="#ff0000"><use href="#ci" x="438" y="208"/><use href="#ci" x="443" y="212"/><use href="#ci" x="448" y="215"/><use href="#ci" x="452" y="219"/><use href="#ci" x="457" y="223"/><use href="#ci" x="483" y="243"/><use href="#ci" x="506" y="260"/><use href="#ci" x="528" y="278"/><use href="#ci" x="549" y="295"/><use href="#ci" x="571" y="313"/><use href="#ci" x="592" y="331"/><use href="#ci" x="614" y="348"/><use href="#ci" x="635" y="366"/><use href="#ci" x="656" y="383"/><use href="#ci" x="677" y="401"/><use href="#ci" x="698" y="418"/><use href="#ci" x="719" y="436"/><use href="#ci" x="741" y="454"/><use href="#ci" x="761" y="471"/><use href="#ci" x="782" y="488"/><use href="#ci" x="804" y="506"/><use href="#ci" x="825" y="524"/><use href="#ci" x="845" y="541"/><use href="#ci" x="867" y="559"/><use href="#ci" x="888" y="576"/><use href="#ci" x="909" y="594"/><use href="#ci" x="930" y="611"/><use href="#ci" x="951" y="629"/><use href="#ci" x="972" y="647"/><use href="#ci" x="993" y="664"/><use href="#ci" x="1014" y="682"/><use href="#ci" x="1035" y="699"/><use href="#ci" x="1056" y="717"/><use href="#ci" x="1077" y="734"/><use href="#ci" x="1098" y="751"/><use href="#ci" x="1101" y="753"/><use href="#ci" x="1104" y="755"/><use href="#ci" x="1106" y="757"/><use href="#ci" x="1109" y="759"/><use href="#ci" x="1111" y="762"/><use href="#ci" x="1114" y="764"/><use href="#ci" x="1117" y="766"/><use href="#ci" x="1119" y="768"/><use href="#ci" x="1122" y="770"/><use href="#ci" x="1124" y="772"/><use href="#ci" x="1127" y="774"/><use href="#ci" x="1130" y="776"/><use href="#ci" x="1132" y="778"/><use href="#ci" x="1135" y="779"/><use href="#ci" x="1138" y="781"/><use href="#ci" x="1141" y="784"/><use href="#ci" x="1143" y="786"/><use href="#ci" x="1146" y="788"/><use href="#ci" x="1148" y="790"/><use href="#ci" x="1151" y="792"/><use href="#ci" x="1154" y="794"/><use href="#ci" x="1156" y="796"/><use href="#ci" x="1159" y="798"/><use href="#ci" x="1161" y="800"/><use href="#ci" x="1164" y="802"/><use href="#ci" x="1166" y="804"/><use href="#ci" x="1186" y="821"/><use href="#ci" x="1188" y="823"/><use href="#ci" x="1191" y="825"/><use href="#ci" x="1193" y="828"/><use href="#ci" x="1196" y="830"/><use href="#ci" x="1199" y="832"/><use href="#ci" x="1201" y="834"/><use href="#ci" x="1203" y="836"/><use href="#ci" x="1206" y="838"/><use href="#ci" x="1209" y="841"/><use href="#ci" x="1232" y="841"/><use href="#ci" x="1235" y="843"/><use href="#ci" x="1237" y="846"/><use href="#ci" x="1239" y="848"/><use href="#ci" x="1242" y="850"/><use href="#ci" x="1244" y="853"/><use href="#ci" x="1247" y="855"/><use href="#ci" x="1249" y="857"/><use href="#ci" x="1251" y="860"/><use href="#ci" x="1254" y="862"/><use href="#ci" x="1256" y="864"/><use href="#ci" x="1259" y="866"/><use href="#ci" x="1262" y="868"/><use href="#ci" x="1264" y="871"/><use href="#ci" x="1267" y="873"/><use href="#ci" x="1270" y="875"/><use href="#ci" x="1272" y="877"/><use href="#ci" x="1275" y="879"/><use href="#ci" x="1278" y="881"/><use href="#ci" x="1280" y="883"/><use href="#ci" x="1283" y="885"/><use href="#ci" x="1285" y="887"/><use href="#ci" x="1287" y="889"/><use href="#ci" x="1290" y="891"/><use href="#ci" x="1292" y="894"/><use href="#ci" x="1294" y="896"/><use href="#ci" x="1296" y="899"/><use href="#ci" x="1298" y="901"/><use href="#ci" x="1301" y="904"/><use href="#ci" x="1303" y="907"/><use href="#ci" x="1305" y="909"/><use href="#ci" x="1307" y="912"/><use href="#ci" x="1309" y="915"/><use href="#ci" x="1310" y="918"/><use href="#ci" x="1312" y="921"/><use href="#ci" x="1313" y="924"/><use href="#ci" x="1315" y="927"/><use href="#ci" x="1316" y="930"/><use href="#ci" x="1317" y="933"/><use href="#ci" x="1318" y="937"/><use href="#ci" x="1319" y="940"/><use href="#ci" x="1320" y="944"/><use href="#ci" x="1321" y="947"/><use href="#ci" x="1322" y="950"/><use href="#ci" x="1323" y="954"/><use href="#ci" x="1324" y="957"/><use href="#ci" x="1324" y="960"/><use href="#ci" x="1325" y="963"/><use href="#ci" x="1326" y="966"/><use href="#ci" x="1327" y="970"/><use href="#ci" x="1328" y="973"/><use href="#ci" x="1329" y="976"/><use href="#ci" x="1329" y="980"/><use href="#ci" x="1330" y="983"/><use href="#ci" x="1331" y="986"/><use href="#ci" x="1332" y="989"/><use href="#ci" x="1333" y="993"/><use href="#ci" x="1333" y="996"/><use href="#ci" x="1334" y="999"/><use href="#ci" x="1336" y="1008"/><use href="#ci" x="1339" y="1017"/><use href="#ci" x="1341" y="1026"/><use href="#ci" x="1343" y="1035"/><use href="#ci" x="1345" y="1044"/><use href="#ci" x="1347" y="1054"/><use href="#ci" x="1349" y="1063"/><use href="#ci" x="1351" y="1072"/><use href="#ci" x="1353" y="1081"/><use href="#ci" x="1356" y="1090"/><use href="#ci" x="1358" y="1099"/><use href="#ci" x="1361" y="1107"/><use href="#ci" x="1364" y="1116"/><use href="#ci" x="1367" y="1125"/><use href="#ci" x="1369" y="1134"/><use href="#ci" x="1371" y="1143"/><use href="#ci" x="1374" y="1152"/><use href="#ci" x="1376" y="1161"/><use href="#ci" x="1378" y="1170"/><use href="#ci" x="1380" y="1179"/><use href="#ci" x="1382" y="1188"/><use href="#ci" x="1384" y="1197"/><use href="#ci" x="1386" y="1206"/><use href="#ci" x="1388" y="1215"/><use href="#ci" x="1390" y="1224"/><use href="#ci" x="1392" y="1233"/><use href="#ci" x="1394" y="1242"/><use href="#ci" x="1396" y="1251"/><use href="#ci" x="1398" y="1260"/><use href="#ci" x="1400" y="1269"/><use href="#ci" x="1402" y="1278"/><use href="#ci" x="1404" y="1287"/><use href="#ci" x="1407" y="1296"/></g>
<path d="M438 208L463.1 314L467.9 338L472.6 366L522.6 728L530.2 774L548.5 866L556.4 912L561.2 948L571.6 1036L586 1132L599.5 1249.6M599.5 1249.7L960.3 1250.2L1172.8 1251.7L1257 1253.1L1329.2 1254.8L1393.3 1257.2L1449.4 1260.1L1477.5 1262L1480.5 1303" fill="none" stroke="#5555ff" stroke-width="1.8"/>
<g fill="#0000ff" stroke="#0000ff"><use href="#tu" x="438" y="208"/><use href="#tu" x="439" y="214"/><use href="#tu" x="441" y="220"/><use href="#tu" x="442" y="226"/><use href="#tu" x="446" y="243"/><use href="#tu" x="450" y="260"/><use href="#tu" x="455" y="278"/><use href="#tu" x="459" y="296"/><use href="#tu" x="463" y="313"/><use href="#tu" x="467" y="331"/><use href="#tu" x="470" y="348"/><use href="#tu" x="473" y="366"/><use href="#tu" x="475" y="383"/><use href="#tu" x="478" y="401"/><use href="#tu" x="480" y="418"/><use href="#tu" x="483" y="436"/><use href="#tu" x="485" y="454"/><use href="#tu" x="487" y="471"/><use href="#tu" x="490" y="489"/><use href="#tu" x="492" y="506"/><use href="#tu" x="495" y="524"/><use href="#tu" x="497" y="541"/><use href="#tu" x="499" y="559"/><use href="#tu" x="502" y="576"/><use href="#tu" x="504" y="594"/><use href="#tu" x="506" y="612"/><use href="#tu" x="509" y="629"/><use href="#tu" x="511" y="647"/><use href="#tu" x="514" y="664"/><use href="#tu" x="516" y="682"/><use href="#tu" x="518" y="699"/><use href="#tu" x="521" y="717"/><use href="#tu" x="524" y="734"/><use href="#tu" x="526" y="752"/><use href="#tu" x="529" y="770"/><use href="#tu" x="533" y="787"/><use href="#tu" x="536" y="805"/><use href="#tu" x="540" y="822"/><use href="#tu" x="543" y="840"/><use href="#tu" x="547" y="858"/><use href="#tu" x="550" y="875"/><use href="#tu" x="553" y="892"/><use href="#tu" x="556" y="910"/><use href="#tu" x="559" y="928"/><use href="#tu" x="561" y="945"/><use href="#tu" x="563" y="963"/><use href="#tu" x="565" y="980"/><use href="#tu" x="567" y="998"/><use href="#tu" x="569" y="1016"/><use href="#tu" x="571" y="1033"/><use href="#tu" x="574" y="1050"/><use href="#tu" x="576" y="1068"/><use href="#tu" x="579" y="1086"/><use href="#tu" x="582" y="1103"/><use href="#tu" x="584" y="1121"/><use href="#tu" x="587" y="1138"/><use href="#tu" x="589" y="1156"/><use href="#tu" x="591" y="1174"/><use href="#tu" x="593" y="1191"/><use href="#tu" x="595" y="1209"/><use href="#tu" x="597" y="1226"/><use href="#tu" x="599" y="1244"/><use href="#tu" x="1230" y="1253"/><use href="#tu" x="1378" y="1257"/><use href="#tu" x="1478" y="1262"/><use href="#tu" x="1478" y="1265"/><use href="#tu" x="1478" y="1268"/><use href="#tu" x="1478" y="1272"/><use href="#tu" x="1478" y="1275"/><use href="#tu" x="1479" y="1278"/><use href="#tu" x="1479" y="1281"/><use href="#tu" x="1479" y="1285"/><use href="#tu" x="1479" y="1288"/><use href="#tu" x="1480" y="1291"/><use href="#tu" x="1480" y="1294"/><use href="#tu" x="1480" y="1297"/><use href="#tu" x="1480" y="1301"/></g>
<path d="M438 208L1030.2 745.6L1067.9 774.6L1126.9 816L1152.8 835.1L1172.3 852L1182.6 862.2L1191.3 871.8L1205.5 890L1222.7 915.2L1230.5 930.7L1237.5 950L1241.7 966L1248.7 1004.7L1255.6 1036L1309.8 1250M1309.8 1252L1406 1253.4L1490.1 1255.6L1562.2 1258.5L1622.3 1262L1625.3 1303" fill="none" stroke="#ff00ff" stroke-width="1.8"/>
<g fill="#ff00ff" stroke="#ff00ff"><use href="#td" x="438" y="208"/><use href="#td" x="442" y="212"/><use href="#td" x="447" y="216"/><use href="#td" x="451" y="220"/><use href="#td" x="456" y="224"/><use href="#td" x="476" y="243"/><use href="#td" x="495" y="260"/><use href="#td" x="515" y="278"/><use href="#td" x="534" y="295"/><use href="#td" x="554" y="313"/><use href="#td" x="573" y="331"/><use href="#td" x="592" y="348"/><use href="#td" x="612" y="366"/><use href="#td" x="631" y="383"/><use href="#td" x="650" y="401"/><use href="#td" x="670" y="418"/><use href="#td" x="689" y="436"/><use href="#td" x="708" y="454"/><use href="#td" x="728" y="471"/><use href="#td" x="747" y="489"/><use href="#td" x="766" y="506"/><use href="#td" x="785" y="524"/><use href="#td" x="805" y="541"/><use href="#td" x="824" y="559"/><use href="#td" x="844" y="576"/><use href="#td" x="863" y="594"/><use href="#td" x="882" y="612"/><use href="#td" x="902" y="629"/><use href="#td" x="921" y="647"/><use href="#td" x="941" y="664"/><use href="#td" x="960" y="682"/><use href="#td" x="979" y="699"/><use href="#td" x="999" y="717"/><use href="#td" x="1018" y="734"/><use href="#td" x="1030" y="745"/><use href="#td" x="1032" y="747"/><use href="#td" x="1034" y="749"/><use href="#td" x="1037" y="751"/><use href="#td" x="1039" y="753"/><use href="#td" x="1042" y="755"/><use href="#td" x="1045" y="757"/><use href="#td" x="1047" y="759"/><use href="#td" x="1050" y="761"/><use href="#td" x="1053" y="763"/><use href="#td" x="1055" y="765"/><use href="#td" x="1058" y="767"/><use href="#td" x="1060" y="769"/><use href="#td" x="1063" y="771"/><use href="#td" x="1066" y="773"/><use href="#td" x="1068" y="775"/><use href="#td" x="1071" y="777"/><use href="#td" x="1074" y="779"/><use href="#td" x="1076" y="781"/><use href="#td" x="1079" y="782"/><use href="#td" x="1081" y="784"/><use href="#td" x="1084" y="786"/><use href="#td" x="1087" y="788"/><use href="#td" x="1089" y="790"/><use href="#td" x="1092" y="792"/><use href="#td" x="1095" y="794"/><use href="#td" x="1097" y="795"/><use href="#td" x="1100" y="797"/><use href="#td" x="1103" y="799"/><use href="#td" x="1105" y="801"/><use href="#td" x="1108" y="803"/><use href="#td" x="1111" y="805"/><use href="#td" x="1113" y="806"/><use href="#td" x="1116" y="808"/><use href="#td" x="1119" y="810"/><use href="#td" x="1121" y="812"/><use href="#td" x="1124" y="814"/><use href="#td" x="1127" y="816"/><use href="#td" x="1129" y="818"/><use href="#td" x="1132" y="819"/><use href="#td" x="1134" y="821"/><use href="#td" x="1137" y="823"/><use href="#td" x="1140" y="825"/><use href="#td" x="1142" y="827"/><use href="#td" x="1145" y="829"/><use href="#td" x="1148" y="831"/><use href="#td" x="1150" y="833"/><use href="#td" x="1153" y="835"/><use href="#td" x="1155" y="837"/><use href="#td" x="1158" y="839"/><use href="#td" x="1160" y="841"/><use href="#td" x="1163" y="843"/><use href="#td" x="1165" y="846"/><use href="#td" x="1168" y="848"/><use href="#td" x="1170" y="850"/><use href="#td" x="1173" y="852"/><use href="#td" x="1175" y="855"/><use href="#td" x="1177" y="857"/><use href="#td" x="1180" y="859"/><use href="#td" x="1182" y="862"/><use href="#td" x="1184" y="864"/><use href="#td" x="1187" y="866"/><use href="#td" x="1189" y="869"/><use href="#td" x="1191" y="871"/><use href="#td" x="1193" y="874"/><use href="#td" x="1195" y="876"/><use href="#td" x="1197" y="879"/><use href="#td" x="1199" y="882"/><use href="#td" x="1201" y="884"/><use href="#td" x="1203" y="887"/><use href="#td" x="1205" y="889"/><use href="#td" x="1207" y="892"/><use href="#td" x="1209" y="895"/><use href="#td" x="1211" y="898"/><use href="#td" x="1213" y="900"/><use href="#td" x="1215" y="903"/><use href="#td" x="1217" y="906"/><use href="#td" x="1219" y="909"/><use href="#td" x="1220" y="911"/><use href="#td" x="1222" y="914"/><use href="#td" x="1224" y="917"/><use href="#td" x="1225" y="920"/><use href="#td" x="1227" y="923"/><use href="#td" x="1228" y="925"/><use href="#td" x="1230" y="928"/><use href="#td" x="1231" y="931"/><use href="#td" x="1232" y="935"/><use href="#td" x="1233" y="938"/><use href="#td" x="1234" y="941"/><use href="#td" x="1235" y="944"/><use href="#td" x="1236" y="947"/><use href="#td" x="1238" y="950"/><use href="#td" x="1239" y="956"/><use href="#td" x="1241" y="961"/><use href="#td" x="1242" y="967"/><use href="#td" x="1243" y="973"/><use href="#td" x="1244" y="978"/><use href="#td" x="1245" y="984"/><use href="#td" x="1246" y="989"/><use href="#td" x="1247" y="995"/><use href="#td" x="1248" y="1001"/><use href="#td" x="1249" y="1006"/><use href="#td" x="1250" y="1012"/><use href="#td" x="1251" y="1017"/><use href="#td" x="1253" y="1023"/><use href="#td" x="1254" y="1029"/><use href="#td" x="1255" y="1034"/><use href="#td" x="1256" y="1040"/><use href="#td" x="1258" y="1045"/><use href="#td" x="1259" y="1050"/><use href="#td" x="1260" y="1056"/><use href="#td" x="1262" y="1061"/><use href="#td" x="1263" y="1067"/><use href="#td" x="1265" y="1072"/><use href="#td" x="1266" y="1078"/><use href="#td" x="1267" y="1083"/><use href="#td" x="1269" y="1089"/><use href="#td" x="1270" y="1094"/><use href="#td" x="1271" y="1100"/><use href="#td" x="1273" y="1105"/><use href="#td" x="1274" y="1110"/><use href="#td" x="1276" y="1116"/><use href="#td" x="1277" y="1121"/><use href="#td" x="1278" y="1127"/><use href="#td" x="1280" y="1132"/><use href="#td" x="1281" y="1138"/><use href="#td" x="1283" y="1143"/><use href="#td" x="1284" y="1149"/><use href="#td" x="1285" y="1154"/><use href="#td" x="1287" y="1160"/><use href="#td" x="1288" y="1165"/><use href="#td" x="1290" y="1171"/><use href="#td" x="1291" y="1176"/><use href="#td" x="1292" y="1182"/><use href="#td" x="1294" y="1187"/><use href="#td" x="1295" y="1193"/><use href="#td" x="1297" y="1198"/><use href="#td" x="1298" y="1203"/><use href="#td" x="1299" y="1209"/><use href="#td" x="1301" y="1214"/><use href="#td" x="1302" y="1220"/><use href="#td" x="1303" y="1225"/><use href="#td" x="1305" y="1231"/><use href="#td" x="1306" y="1236"/><use href="#td" x="1308" y="1242"/><use href="#td" x="1309" y="1247"/><use href="#td" x="1337" y="1252"/><use href="#td" x="1495" y="1256"/><use href="#td" x="1525" y="1257"/><use href="#td" x="1564" y="1259"/><use href="#td" x="1593" y="1260"/><use href="#td" x="1622" y="1262"/><use href="#td" x="1623" y="1265"/><use href="#td" x="1623" y="1268"/><use href="#td" x="1623" y="1272"/><use href="#td" x="1623" y="1275"/><use href="#td" x="1623" y="1278"/><use href="#td" x="1624" y="1281"/><use href="#td" x="1624" y="1285"/><use href="#td" x="1624" y="1288"/><use href="#td" x="1624" y="1291"/><use href="#td" x="1625" y="1294"/><use href="#td" x="1625" y="1297"/><use href="#td" x="1625" y="1301"/></g>
<path d="M438 208L462.6 314L467.4 338L472.4 368L482.1 436L514.8 680L523.1 738L530.9 784L549.1 876L555.1 912L570 1036L584.5 1132L595.7 1228.6M595.7 1228.7L971.9 1229.2L1192.1 1230.9L1280.1 1232.5L1352.2 1234.5L1416.2 1237.1L1476.3 1240.6L1528.3 1244.9L1572.3 1249.6L1612.4 1255.1L1652.4 1262L1655.4 1303" fill="none" stroke="#00a040" stroke-width="1.8"/>
<g fill="#008000" stroke="#008000"><use href="#di" x="438" y="208"/><use href="#di" x="439" y="214"/><use href="#di" x="441" y="220"/><use href="#di" x="442" y="226"/><use href="#di" x="446" y="243"/><use href="#di" x="450" y="260"/><use href="#di" x="454" y="278"/><use href="#di" x="459" y="296"/><use href="#di" x="462" y="313"/><use href="#di" x="466" y="331"/><use href="#di" x="469" y="348"/><use href="#di" x="472" y="366"/><use href="#di" x="475" y="383"/><use href="#di" x="477" y="401"/><use href="#di" x="480" y="418"/><use href="#di" x="482" y="436"/><use href="#di" x="485" y="454"/><use href="#di" x="487" y="471"/><use href="#di" x="489" y="489"/><use href="#di" x="492" y="506"/><use href="#di" x="494" y="524"/><use href="#di" x="496" y="541"/><use href="#di" x="499" y="559"/><use href="#di" x="501" y="576"/><use href="#di" x="503" y="594"/><use href="#di" x="506" y="612"/><use href="#di" x="508" y="629"/><use href="#di" x="510" y="647"/><use href="#di" x="513" y="664"/><use href="#di" x="515" y="682"/><use href="#di" x="517" y="699"/><use href="#di" x="520" y="717"/><use href="#di" x="523" y="734"/><use href="#di" x="525" y="752"/><use href="#di" x="528" y="770"/><use href="#di" x="532" y="787"/><use href="#di" x="535" y="805"/><use href="#di" x="539" y="822"/><use href="#di" x="542" y="840"/><use href="#di" x="546" y="858"/><use href="#di" x="549" y="875"/><use href="#di" x="552" y="892"/><use href="#di" x="555" y="910"/><use href="#di" x="557" y="928"/><use href="#di" x="559" y="945"/><use href="#di" x="561" y="963"/><use href="#di" x="563" y="980"/><use href="#di" x="565" y="998"/><use href="#di" x="567" y="1016"/><use href="#di" x="570" y="1033"/><use href="#di" x="572" y="1050"/><use href="#di" x="575" y="1068"/><use href="#di" x="577" y="1086"/><use href="#di" x="580" y="1103"/><use href="#di" x="583" y="1121"/><use href="#di" x="585" y="1138"/><use href="#di" x="587" y="1156"/><use href="#di" x="589" y="1174"/><use href="#di" x="591" y="1191"/><use href="#di" x="593" y="1209"/><use href="#di" x="595" y="1226"/><use href="#di" x="1220" y="1231"/><use href="#di" x="1313" y="1233"/><use href="#di" x="1459" y="1239"/><use href="#di" x="1485" y="1241"/><use href="#di" x="1517" y="1244"/><use href="#di" x="1556" y="1248"/><use href="#di" x="1585" y="1251"/><use href="#di" x="1624" y="1257"/><use href="#di" x="1652" y="1262"/><use href="#di" x="1653" y="1265"/><use href="#di" x="1653" y="1268"/><use href="#di" x="1653" y="1272"/><use href="#di" x="1653" y="1275"/><use href="#di" x="1654" y="1278"/><use href="#di" x="1654" y="1281"/><use href="#di" x="1654" y="1285"/><use href="#di" x="1654" y="1288"/><use href="#di" x="1655" y="1291"/><use href="#di" x="1655" y="1294"/><use href="#di" x="1655" y="1297"/><use href="#di" x="1655" y="1301"/></g>
<path d="M438 208L1000 747.6L1032.7 774.6L1087.9 816L1112.2 835.1L1125.1 846.6L1135.8 857.2L1152.5 876.4L1165.8 894.5L1182.7 919L1187 926.6L1190.9 935L1196.2 950L1199.6 966.5L1203.7 1005.9L1209.1 1036L1224.6 1100.5L1258.2 1232.1M1258.2 1234.2L1403.4 1237L1464 1239.1L1516.4 1241.6L1564.8 1244.7L1609.2 1248.4L1649.5 1252.7L1689.9 1258.1L1714.1 1262L1717.1 1303" fill="none" stroke="#3a3a99" stroke-width="1.8"/>
<g fill="#000080" stroke="#000080"><use href="#tl" x="438" y="208"/><use href="#tl" x="442" y="212"/><use href="#tl" x="447" y="216"/><use href="#tl" x="451" y="220"/><use href="#tl" x="455" y="225"/><use href="#tl" x="474" y="243"/><use href="#tl" x="493" y="260"/><use href="#tl" x="511" y="278"/><use href="#tl" x="529" y="296"/><use href="#tl" x="547" y="313"/><use href="#tl" x="566" y="330"/><use href="#tl" x="584" y="348"/><use href="#tl" x="602" y="366"/><use href="#tl" x="620" y="383"/><use href="#tl" x="639" y="401"/><use href="#tl" x="657" y="418"/><use href="#tl" x="675" y="436"/><use href="#tl" x="694" y="453"/><use href="#tl" x="712" y="471"/><use href="#tl" x="730" y="489"/><use href="#tl" x="749" y="506"/><use href="#tl" x="767" y="524"/><use href="#tl" x="785" y="541"/><use href="#tl" x="803" y="559"/><use href="#tl" x="822" y="577"/><use href="#tl" x="840" y="594"/><use href="#tl" x="859" y="612"/><use href="#tl" x="877" y="629"/><use href="#tl" x="895" y="647"/><use href="#tl" x="913" y="664"/><use href="#tl" x="932" y="682"/><use href="#tl" x="950" y="699"/><use href="#tl" x="968" y="717"/><use href="#tl" x="987" y="735"/><use href="#tl" x="997" y="745"/><use href="#tl" x="1000" y="747"/><use href="#tl" x="1002" y="749"/><use href="#tl" x="1004" y="751"/><use href="#tl" x="1007" y="754"/><use href="#tl" x="1010" y="756"/><use href="#tl" x="1012" y="758"/><use href="#tl" x="1015" y="760"/><use href="#tl" x="1017" y="762"/><use href="#tl" x="1020" y="764"/><use href="#tl" x="1022" y="766"/><use href="#tl" x="1025" y="768"/><use href="#tl" x="1027" y="770"/><use href="#tl" x="1030" y="772"/><use href="#tl" x="1032" y="774"/><use href="#tl" x="1035" y="776"/><use href="#tl" x="1038" y="778"/><use href="#tl" x="1040" y="780"/><use href="#tl" x="1043" y="782"/><use href="#tl" x="1045" y="784"/><use href="#tl" x="1048" y="786"/><use href="#tl" x="1051" y="788"/><use href="#tl" x="1053" y="790"/><use href="#tl" x="1056" y="792"/><use href="#tl" x="1058" y="794"/><use href="#tl" x="1061" y="796"/><use href="#tl" x="1064" y="798"/><use href="#tl" x="1066" y="800"/><use href="#tl" x="1069" y="802"/><use href="#tl" x="1071" y="804"/><use href="#tl" x="1074" y="806"/><use href="#tl" x="1077" y="808"/><use href="#tl" x="1079" y="809"/><use href="#tl" x="1082" y="811"/><use href="#tl" x="1084" y="813"/><use href="#tl" x="1087" y="815"/><use href="#tl" x="1090" y="817"/><use href="#tl" x="1092" y="819"/><use href="#tl" x="1095" y="821"/><use href="#tl" x="1097" y="823"/><use href="#tl" x="1100" y="825"/><use href="#tl" x="1102" y="827"/><use href="#tl" x="1105" y="829"/><use href="#tl" x="1108" y="831"/><use href="#tl" x="1110" y="833"/><use href="#tl" x="1113" y="835"/><use href="#tl" x="1115" y="838"/><use href="#tl" x="1117" y="840"/><use href="#tl" x="1120" y="842"/><use href="#tl" x="1122" y="844"/><use href="#tl" x="1125" y="846"/><use href="#tl" x="1127" y="849"/><use href="#tl" x="1129" y="851"/><use href="#tl" x="1132" y="853"/><use href="#tl" x="1134" y="855"/><use href="#tl" x="1136" y="858"/><use href="#tl" x="1139" y="860"/><use href="#tl" x="1141" y="863"/><use href="#tl" x="1143" y="865"/><use href="#tl" x="1145" y="867"/><use href="#tl" x="1147" y="870"/><use href="#tl" x="1149" y="872"/><use href="#tl" x="1151" y="875"/><use href="#tl" x="1153" y="878"/><use href="#tl" x="1155" y="880"/><use href="#tl" x="1157" y="883"/><use href="#tl" x="1159" y="886"/><use href="#tl" x="1161" y="888"/><use href="#tl" x="1163" y="891"/><use href="#tl" x="1165" y="894"/><use href="#tl" x="1167" y="897"/><use href="#tl" x="1169" y="899"/><use href="#tl" x="1171" y="902"/><use href="#tl" x="1173" y="905"/><use href="#tl" x="1175" y="908"/><use href="#tl" x="1177" y="910"/><use href="#tl" x="1179" y="913"/><use href="#tl" x="1181" y="916"/><use href="#tl" x="1182" y="918"/><use href="#tl" x="1184" y="921"/><use href="#tl" x="1185" y="924"/><use href="#tl" x="1187" y="927"/><use href="#tl" x="1188" y="930"/><use href="#tl" x="1190" y="933"/><use href="#tl" x="1191" y="936"/><use href="#tl" x="1192" y="939"/><use href="#tl" x="1194" y="942"/><use href="#tl" x="1195" y="945"/><use href="#tl" x="1196" y="948"/><use href="#tl" x="1197" y="954"/><use href="#tl" x="1198" y="959"/><use href="#tl" x="1199" y="965"/><use href="#tl" x="1200" y="970"/><use href="#tl" x="1201" y="976"/><use href="#tl" x="1201" y="982"/><use href="#tl" x="1202" y="988"/><use href="#tl" x="1202" y="993"/><use href="#tl" x="1203" y="999"/><use href="#tl" x="1204" y="1005"/><use href="#tl" x="1204" y="1010"/><use href="#tl" x="1205" y="1016"/><use href="#tl" x="1206" y="1022"/><use href="#tl" x="1207" y="1027"/><use href="#tl" x="1208" y="1033"/><use href="#tl" x="1210" y="1038"/><use href="#tl" x="1211" y="1044"/><use href="#tl" x="1212" y="1050"/><use href="#tl" x="1213" y="1055"/><use href="#tl" x="1215" y="1061"/><use href="#tl" x="1216" y="1066"/><use href="#tl" x="1217" y="1072"/><use href="#tl" x="1219" y="1077"/><use href="#tl" x="1220" y="1083"/><use href="#tl" x="1222" y="1088"/><use href="#tl" x="1223" y="1094"/><use href="#tl" x="1224" y="1099"/><use href="#tl" x="1226" y="1105"/><use href="#tl" x="1227" y="1110"/><use href="#tl" x="1228" y="1116"/><use href="#tl" x="1230" y="1121"/><use href="#tl" x="1231" y="1127"/><use href="#tl" x="1233" y="1132"/><use href="#tl" x="1234" y="1138"/><use href="#tl" x="1235" y="1143"/><use href="#tl" x="1237" y="1149"/><use href="#tl" x="1238" y="1154"/><use href="#tl" x="1240" y="1160"/><use href="#tl" x="1241" y="1165"/><use href="#tl" x="1243" y="1171"/><use href="#tl" x="1244" y="1176"/><use href="#tl" x="1245" y="1182"/><use href="#tl" x="1247" y="1187"/><use href="#tl" x="1248" y="1193"/><use href="#tl" x="1250" y="1198"/><use href="#tl" x="1251" y="1204"/><use href="#tl" x="1252" y="1209"/><use href="#tl" x="1254" y="1215"/><use href="#tl" x="1255" y="1220"/><use href="#tl" x="1257" y="1226"/><use href="#tl" x="1258" y="1231"/><use href="#tl" x="1314" y="1235"/><use href="#tl" x="1422" y="1238"/><use href="#tl" x="1507" y="1241"/><use href="#tl" x="1537" y="1243"/><use href="#tl" x="1572" y="1245"/><use href="#tl" x="1607" y="1248"/><use href="#tl" x="1630" y="1250"/><use href="#tl" x="1661" y="1254"/><use href="#tl" x="1686" y="1258"/><use href="#tl" x="1714" y="1262"/><use href="#tl" x="1714" y="1265"/><use href="#tl" x="1715" y="1268"/><use href="#tl" x="1715" y="1272"/><use href="#tl" x="1715" y="1275"/><use href="#tl" x="1715" y="1278"/><use href="#tl" x="1716" y="1281"/><use href="#tl" x="1716" y="1285"/><use href="#tl" x="1716" y="1288"/><use href="#tl" x="1716" y="1291"/><use href="#tl" x="1716" y="1294"/><use href="#tl" x="1717" y="1297"/><use href="#tl" x="1717" y="1301"/></g>
<path d="M438 208L461.8 312L466.9 338L471.9 368L488.2 484L513.9 680L522.1 738L529.8 784L547.9 876L553.7 912L558.3 948L567.4 1028L583.1 1132L593.4 1221.6M593.4 1221.7L1001.6 1222.2L1233.7 1223.9L1325.7 1225.5L1401.8 1227.6L1465.8 1230.3L1525.8 1234L1585.8 1239.1L1637.9 1245.3L1685.9 1252.9L1729.9 1262L1732.9 1303" fill="none" stroke="#9933ff" stroke-width="1.8"/>
<g fill="#8000ff" stroke="#8000ff"><use href="#tr" x="438" y="208"/><use href="#tr" x="439" y="214"/><use href="#tr" x="441" y="220"/><use href="#tr" x="442" y="226"/><use href="#tr" x="446" y="243"/><use href="#tr" x="450" y="260"/><use href="#tr" x="454" y="278"/><use href="#tr" x="458" y="296"/><use href="#tr" x="462" y="313"/><use href="#tr" x="466" y="331"/><use href="#tr" x="469" y="348"/><use href="#tr" x="471" y="366"/><use href="#tr" x="474" y="383"/><use href="#tr" x="477" y="401"/><use href="#tr" x="479" y="418"/><use href="#tr" x="482" y="436"/><use href="#tr" x="484" y="454"/><use href="#tr" x="486" y="471"/><use href="#tr" x="489" y="489"/><use href="#tr" x="491" y="506"/><use href="#tr" x="493" y="524"/><use href="#tr" x="496" y="541"/><use href="#tr" x="498" y="559"/><use href="#tr" x="500" y="576"/><use href="#tr" x="503" y="594"/><use href="#tr" x="505" y="612"/><use href="#tr" x="507" y="629"/><use href="#tr" x="510" y="647"/><use href="#tr" x="512" y="664"/><use href="#tr" x="514" y="682"/><use href="#tr" x="517" y="699"/><use href="#tr" x="519" y="717"/><use href="#tr" x="522" y="734"/><use href="#tr" x="524" y="752"/><use href="#tr" x="527" y="770"/><use href="#tr" x="530" y="787"/><use href="#tr" x="534" y="805"/><use href="#tr" x="537" y="822"/><use href="#tr" x="541" y="840"/><use href="#tr" x="544" y="858"/><use href="#tr" x="548" y="875"/><use href="#tr" x="551" y="892"/><use href="#tr" x="553" y="910"/><use href="#tr" x="556" y="928"/><use href="#tr" x="558" y="945"/><use href="#tr" x="560" y="963"/><use href="#tr" x="562" y="980"/><use href="#tr" x="564" y="998"/><use href="#tr" x="566" y="1016"/><use href="#tr" x="568" y="1033"/><use href="#tr" x="570" y="1050"/><use href="#tr" x="573" y="1068"/><use href="#tr" x="576" y="1086"/><use href="#tr" x="579" y="1103"/><use href="#tr" x="581" y="1121"/><use href="#tr" x="584" y="1138"/><use href="#tr" x="586" y="1156"/><use href="#tr" x="588" y="1174"/><use href="#tr" x="590" y="1191"/><use href="#tr" x="592" y="1209"/><use href="#tr" x="1273" y="1224"/><use href="#tr" x="1413" y="1228"/><use href="#tr" x="1565" y="1237"/><use href="#tr" x="1589" y="1239"/><use href="#tr" x="1622" y="1243"/><use href="#tr" x="1652" y="1247"/><use href="#tr" x="1678" y="1252"/><use href="#tr" x="1716" y="1259"/><use href="#tr" x="1730" y="1262"/><use href="#tr" x="1730" y="1265"/><use href="#tr" x="1730" y="1268"/><use href="#tr" x="1731" y="1272"/><use href="#tr" x="1731" y="1275"/><use href="#tr" x="1731" y="1278"/><use href="#tr" x="1731" y="1281"/><use href="#tr" x="1732" y="1285"/><use href="#tr" x="1732" y="1288"/><use href="#tr" x="1732" y="1291"/><use href="#tr" x="1732" y="1294"/><use href="#tr" x="1732" y="1297"/><use href="#tr" x="1733" y="1301"/></g>
<path d="M438 208L766.9 534.9L913 681L958.7 728.6L970.2 742.2L974.8 750.2L976.5 752.2L986 761L1002.6 774.6L1021.4 788.5L1069.7 822.5L1086.1 835.1L1104.4 852L1117.5 867.1L1127.4 881L1151.9 919L1159.9 935L1165.2 950L1169.2 966.6L1175.1 1006.3L1180.7 1036L1224.6 1227M1224.6 1228.6L1385.6 1231L1450 1232.8L1510.4 1235.2L1562.7 1238.1L1611.1 1241.8L1655.3 1246.1L1695.6 1251.1L1727.8 1256L1760 1262L1763 1303" fill="none" stroke="#a040a0" stroke-width="1.8"/>
<g fill="#800080" stroke="#800080"><use href="#hx" x="438" y="208"/><use href="#hx" x="442" y="212"/><use href="#hx" x="447" y="217"/><use href="#hx" x="451" y="221"/><use href="#hx" x="455" y="225"/><use href="#hx" x="473" y="243"/><use href="#hx" x="491" y="260"/><use href="#hx" x="508" y="278"/><use href="#hx" x="526" y="295"/><use href="#hx" x="544" y="313"/><use href="#hx" x="561" y="330"/><use href="#hx" x="579" y="348"/><use href="#hx" x="597" y="366"/><use href="#hx" x="614" y="383"/><use href="#hx" x="632" y="401"/><use href="#hx" x="650" y="418"/><use href="#hx" x="667" y="436"/><use href="#hx" x="685" y="453"/><use href="#hx" x="703" y="471"/><use href="#hx" x="720" y="489"/><use href="#hx" x="738" y="506"/><use href="#hx" x="756" y="524"/><use href="#hx" x="773" y="541"/><use href="#hx" x="791" y="559"/><use href="#hx" x="809" y="576"/><use href="#hx" x="826" y="594"/><use href="#hx" x="844" y="612"/><use href="#hx" x="861" y="629"/><use href="#hx" x="879" y="647"/><use href="#hx" x="896" y="664"/><use href="#hx" x="914" y="682"/><use href="#hx" x="931" y="699"/><use href="#hx" x="948" y="717"/><use href="#hx" x="964" y="734"/><use href="#hx" x="972" y="745"/><use href="#hx" x="974" y="748"/><use href="#hx" x="975" y="751"/><use href="#hx" x="978" y="753"/><use href="#hx" x="980" y="756"/><use href="#hx" x="982" y="758"/><use href="#hx" x="985" y="760"/><use href="#hx" x="987" y="762"/><use href="#hx" x="990" y="764"/><use href="#hx" x="992" y="766"/><use href="#hx" x="995" y="768"/><use href="#hx" x="997" y="771"/><use href="#hx" x="1000" y="773"/><use href="#hx" x="1003" y="775"/><use href="#hx" x="1005" y="777"/><use href="#hx" x="1008" y="779"/><use href="#hx" x="1010" y="781"/><use href="#hx" x="1013" y="782"/><use href="#hx" x="1016" y="784"/><use href="#hx" x="1018" y="786"/><use href="#hx" x="1021" y="788"/><use href="#hx" x="1024" y="790"/><use href="#hx" x="1026" y="792"/><use href="#hx" x="1029" y="794"/><use href="#hx" x="1032" y="796"/><use href="#hx" x="1034" y="798"/><use href="#hx" x="1037" y="799"/><use href="#hx" x="1040" y="801"/><use href="#hx" x="1042" y="803"/><use href="#hx" x="1045" y="805"/><use href="#hx" x="1048" y="807"/><use href="#hx" x="1050" y="809"/><use href="#hx" x="1053" y="811"/><use href="#hx" x="1056" y="812"/><use href="#hx" x="1058" y="814"/><use href="#hx" x="1061" y="816"/><use href="#hx" x="1064" y="818"/><use href="#hx" x="1066" y="820"/><use href="#hx" x="1069" y="822"/><use href="#hx" x="1071" y="824"/><use href="#hx" x="1074" y="826"/><use href="#hx" x="1077" y="828"/><use href="#hx" x="1079" y="830"/><use href="#hx" x="1082" y="832"/><use href="#hx" x="1084" y="834"/><use href="#hx" x="1087" y="836"/><use href="#hx" x="1090" y="838"/><use href="#hx" x="1092" y="840"/><use href="#hx" x="1095" y="842"/><use href="#hx" x="1097" y="845"/><use href="#hx" x="1099" y="847"/><use href="#hx" x="1102" y="849"/><use href="#hx" x="1104" y="851"/><use href="#hx" x="1106" y="854"/><use href="#hx" x="1108" y="856"/><use href="#hx" x="1111" y="859"/><use href="#hx" x="1113" y="861"/><use href="#hx" x="1115" y="864"/><use href="#hx" x="1117" y="866"/><use href="#hx" x="1119" y="869"/><use href="#hx" x="1121" y="872"/><use href="#hx" x="1123" y="874"/><use href="#hx" x="1125" y="877"/><use href="#hx" x="1127" y="880"/><use href="#hx" x="1129" y="883"/><use href="#hx" x="1130" y="886"/><use href="#hx" x="1132" y="888"/><use href="#hx" x="1134" y="891"/><use href="#hx" x="1136" y="894"/><use href="#hx" x="1137" y="897"/><use href="#hx" x="1139" y="899"/><use href="#hx" x="1141" y="902"/><use href="#hx" x="1143" y="905"/><use href="#hx" x="1145" y="908"/><use href="#hx" x="1146" y="910"/><use href="#hx" x="1148" y="913"/><use href="#hx" x="1150" y="916"/><use href="#hx" x="1152" y="919"/><use href="#hx" x="1153" y="921"/><use href="#hx" x="1155" y="924"/><use href="#hx" x="1156" y="927"/><use href="#hx" x="1157" y="930"/><use href="#hx" x="1159" y="933"/><use href="#hx" x="1160" y="936"/><use href="#hx" x="1161" y="939"/><use href="#hx" x="1162" y="942"/><use href="#hx" x="1164" y="945"/><use href="#hx" x="1165" y="948"/><use href="#hx" x="1166" y="951"/><use href="#hx" x="1166" y="954"/><use href="#hx" x="1167" y="958"/><use href="#hx" x="1168" y="961"/><use href="#hx" x="1169" y="964"/><use href="#hx" x="1169" y="967"/><use href="#hx" x="1170" y="971"/><use href="#hx" x="1170" y="974"/><use href="#hx" x="1171" y="977"/><use href="#hx" x="1171" y="981"/><use href="#hx" x="1172" y="984"/><use href="#hx" x="1172" y="987"/><use href="#hx" x="1173" y="991"/><use href="#hx" x="1173" y="994"/><use href="#hx" x="1174" y="997"/><use href="#hx" x="1174" y="1000"/><use href="#hx" x="1175" y="1003"/><use href="#hx" x="1175" y="1007"/><use href="#hx" x="1176" y="1010"/><use href="#hx" x="1176" y="1013"/><use href="#hx" x="1177" y="1016"/><use href="#hx" x="1177" y="1020"/><use href="#hx" x="1178" y="1023"/><use href="#hx" x="1179" y="1026"/><use href="#hx" x="1179" y="1029"/><use href="#hx" x="1180" y="1032"/><use href="#hx" x="1181" y="1036"/><use href="#hx" x="1181" y="1039"/><use href="#hx" x="1182" y="1042"/><use href="#hx" x="1183" y="1045"/><use href="#hx" x="1183" y="1048"/><use href="#hx" x="1184" y="1052"/><use href="#hx" x="1185" y="1055"/><use href="#hx" x="1186" y="1058"/><use href="#hx" x="1186" y="1061"/><use href="#hx" x="1187" y="1064"/><use href="#hx" x="1188" y="1067"/><use href="#hx" x="1188" y="1071"/><use href="#hx" x="1189" y="1074"/><use href="#hx" x="1190" y="1077"/><use href="#hx" x="1191" y="1080"/><use href="#hx" x="1191" y="1083"/><use href="#hx" x="1192" y="1086"/><use href="#hx" x="1193" y="1090"/><use href="#hx" x="1193" y="1093"/><use href="#hx" x="1194" y="1096"/><use href="#hx" x="1195" y="1099"/><use href="#hx" x="1196" y="1102"/><use href="#hx" x="1196" y="1105"/><use href="#hx" x="1197" y="1108"/><use href="#hx" x="1198" y="1112"/><use href="#hx" x="1198" y="1115"/><use href="#hx" x="1199" y="1118"/><use href="#hx" x="1200" y="1121"/><use href="#hx" x="1201" y="1124"/><use href="#hx" x="1201" y="1127"/><use href="#hx" x="1202" y="1131"/><use href="#hx" x="1203" y="1134"/><use href="#hx" x="1204" y="1137"/><use href="#hx" x="1204" y="1140"/><use href="#hx" x="1205" y="1143"/><use href="#hx" x="1206" y="1146"/><use href="#hx" x="1207" y="1149"/><use href="#hx" x="1207" y="1153"/><use href="#hx" x="1208" y="1156"/><use href="#hx" x="1209" y="1159"/><use href="#hx" x="1209" y="1162"/><use href="#hx" x="1210" y="1165"/><use href="#hx" x="1211" y="1168"/><use href="#hx" x="1212" y="1171"/><use href="#hx" x="1212" y="1174"/><use href="#hx" x="1213" y="1178"/><use href="#hx" x="1214" y="1181"/><use href="#hx" x="1215" y="1184"/><use href="#hx" x="1215" y="1187"/><use href="#hx" x="1216" y="1190"/><use href="#hx" x="1217" y="1193"/><use href="#hx" x="1218" y="1197"/><use href="#hx" x="1218" y="1200"/><use href="#hx" x="1219" y="1203"/><use href="#hx" x="1220" y="1206"/><use href="#hx" x="1221" y="1209"/><use href="#hx" x="1221" y="1213"/><use href="#hx" x="1222" y="1216"/><use href="#hx" x="1223" y="1219"/><use href="#hx" x="1223" y="1222"/><use href="#hx" x="1224" y="1225"/><use href="#hx" x="1303" y="1229"/><use href="#hx" x="1405" y="1231"/><use href="#hx" x="1556" y="1238"/><use href="#hx" x="1594" y="1240"/><use href="#hx" x="1633" y="1244"/><use href="#hx" x="1666" y="1247"/><use href="#hx" x="1694" y="1251"/><use href="#hx" x="1731" y="1257"/><use href="#hx" x="1760" y="1262"/><use href="#hx" x="1760" y="1265"/><use href="#hx" x="1760" y="1268"/><use href="#hx" x="1761" y="1272"/><use href="#hx" x="1761" y="1275"/><use href="#hx" x="1761" y="1278"/><use href="#hx" x="1761" y="1281"/><use href="#hx" x="1762" y="1285"/><use href="#hx" x="1762" y="1288"/><use href="#hx" x="1762" y="1291"/><use href="#hx" x="1762" y="1294"/><use href="#hx" x="1763" y="1297"/><use href="#hx" x="1763" y="1301"/></g>
<path d="M438 208L447.4 248L461.8 314L466.4 338L472.5 376L489.1 494L513 680L521.1 738L528.7 784L546.6 876L552.4 912L556.9 948L565.8 1028L581.6 1132L589.9 1204M589.9 1204.1L1006 1204.7L1238 1206.7L1330 1208.5L1406 1211L1470 1214.2L1530 1218.4L1566 1221.8L1602 1225.9L1634 1230.4L1662 1235L1690 1240.5L1718 1246.9L1746 1254.5L1770 1262L1773 1303" fill="none" stroke="#a02020" stroke-width="1.8"/>
<g fill="#800000" stroke="#800000"><use href="#st" x="438" y="208"/><use href="#st" x="439" y="214"/><use href="#st" x="441" y="220"/><use href="#st" x="442" y="226"/><use href="#st" x="446" y="243"/><use href="#st" x="450" y="260"/><use href="#st" x="454" y="278"/><use href="#st" x="458" y="296"/><use href="#st" x="462" y="313"/><use href="#st" x="465" y="331"/><use href="#st" x="468" y="348"/><use href="#st" x="471" y="366"/><use href="#st" x="474" y="383"/><use href="#st" x="476" y="401"/><use href="#st" x="479" y="418"/><use href="#st" x="481" y="436"/><use href="#st" x="484" y="454"/><use href="#st" x="486" y="471"/><use href="#st" x="488" y="489"/><use href="#st" x="491" y="506"/><use href="#st" x="493" y="524"/><use href="#st" x="495" y="541"/><use href="#st" x="497" y="559"/><use href="#st" x="500" y="576"/><use href="#st" x="502" y="594"/><use href="#st" x="504" y="612"/><use href="#st" x="506" y="629"/><use href="#st" x="509" y="647"/><use href="#st" x="511" y="664"/><use href="#st" x="513" y="682"/><use href="#st" x="516" y="699"/><use href="#st" x="518" y="717"/><use href="#st" x="521" y="734"/><use href="#st" x="523" y="752"/><use href="#st" x="526" y="770"/><use href="#st" x="529" y="787"/><use href="#st" x="533" y="805"/><use href="#st" x="536" y="822"/><use href="#st" x="540" y="840"/><use href="#st" x="543" y="858"/><use href="#st" x="546" y="875"/><use href="#st" x="549" y="892"/><use href="#st" x="552" y="910"/><use href="#st" x="554" y="928"/><use href="#st" x="557" y="945"/><use href="#st" x="559" y="963"/><use href="#st" x="560" y="980"/><use href="#st" x="562" y="998"/><use href="#st" x="564" y="1016"/><use href="#st" x="566" y="1033"/><use href="#st" x="569" y="1050"/><use href="#st" x="572" y="1068"/><use href="#st" x="574" y="1086"/><use href="#st" x="577" y="1103"/><use href="#st" x="580" y="1121"/><use href="#st" x="582" y="1138"/><use href="#st" x="584" y="1156"/><use href="#st" x="586" y="1174"/><use href="#st" x="588" y="1191"/><use href="#st" x="1234" y="1207"/><use href="#st" x="1322" y="1208"/><use href="#st" x="1475" y="1214"/><use href="#st" x="1500" y="1216"/><use href="#st" x="1531" y="1218"/><use href="#st" x="1566" y="1222"/><use href="#st" x="1605" y="1226"/><use href="#st" x="1637" y="1231"/><use href="#st" x="1672" y="1237"/><use href="#st" x="1703" y="1243"/><use href="#st" x="1740" y="1253"/><use href="#st" x="1770" y="1262"/><use href="#st" x="1770" y="1265"/><use href="#st" x="1770" y="1268"/><use href="#st" x="1771" y="1272"/><use href="#st" x="1771" y="1275"/><use href="#st" x="1771" y="1278"/><use href="#st" x="1771" y="1281"/><use href="#st" x="1772" y="1285"/><use href="#st" x="1772" y="1288"/><use href="#st" x="1772" y="1291"/><use href="#st" x="1772" y="1294"/><use href="#st" x="1773" y="1297"/><use href="#st" x="1773" y="1301"/></g>
<path d="M438 208L898 681L942.4 728.6L953.7 742.2L958.5 750.2L960.2 752.2L969.5 761L985.6 774.6L1050.6 822.5L1066.4 835.1L1078.8 846.6L1092.7 862.2L1102.8 876.4L1132.6 922.8L1138.9 935L1144.6 950L1148.7 967L1154.6 1007.6L1160 1036L1173.4 1093.6L1201.4 1208.9M1201.4 1210.7L1362.2 1213.5L1426.6 1215.6L1482.8 1218.1L1535.1 1221.4L1583.4 1225.4L1627.6 1230.3L1667.8 1235.9L1700 1241.4L1728.1 1247.2L1756.3 1254L1784.4 1262L1787.4 1303" fill="none" stroke="#909020" stroke-width="1.8"/>
<g fill="#808000" stroke="#808000"><use href="#pe" x="438" y="208"/><use href="#pe" x="442" y="212"/><use href="#pe" x="446" y="217"/><use href="#pe" x="451" y="221"/><use href="#pe" x="455" y="225"/><use href="#pe" x="472" y="243"/><use href="#pe" x="474" y="245"/><use href="#pe" x="476" y="247"/><use href="#pe" x="479" y="250"/><use href="#pe" x="481" y="252"/><use href="#pe" x="483" y="254"/><use href="#pe" x="485" y="257"/><use href="#pe" x="488" y="259"/><use href="#pe" x="490" y="261"/><use href="#pe" x="492" y="263"/><use href="#pe" x="494" y="266"/><use href="#pe" x="496" y="268"/><use href="#pe" x="499" y="270"/><use href="#pe" x="501" y="273"/><use href="#pe" x="503" y="275"/><use href="#pe" x="505" y="277"/><use href="#pe" x="508" y="280"/><use href="#pe" x="510" y="282"/><use href="#pe" x="512" y="284"/><use href="#pe" x="514" y="286"/><use href="#pe" x="517" y="289"/><use href="#pe" x="519" y="291"/><use href="#pe" x="521" y="293"/><use href="#pe" x="523" y="296"/><use href="#pe" x="526" y="298"/><use href="#pe" x="540" y="313"/><use href="#pe" x="557" y="331"/><use href="#pe" x="574" y="348"/><use href="#pe" x="592" y="366"/><use href="#pe" x="609" y="383"/><use href="#pe" x="626" y="401"/><use href="#pe" x="643" y="418"/><use href="#pe" x="660" y="436"/><use href="#pe" x="677" y="454"/><use href="#pe" x="694" y="471"/><use href="#pe" x="711" y="489"/><use href="#pe" x="728" y="506"/><use href="#pe" x="746" y="524"/><use href="#pe" x="763" y="541"/><use href="#pe" x="780" y="559"/><use href="#pe" x="797" y="576"/><use href="#pe" x="814" y="594"/><use href="#pe" x="831" y="612"/><use href="#pe" x="848" y="629"/><use href="#pe" x="865" y="647"/><use href="#pe" x="882" y="664"/><use href="#pe" x="899" y="682"/><use href="#pe" x="916" y="699"/><use href="#pe" x="932" y="717"/><use href="#pe" x="948" y="735"/><use href="#pe" x="956" y="745"/><use href="#pe" x="957" y="748"/><use href="#pe" x="959" y="751"/><use href="#pe" x="961" y="753"/><use href="#pe" x="964" y="756"/><use href="#pe" x="966" y="758"/><use href="#pe" x="969" y="760"/><use href="#pe" x="971" y="762"/><use href="#pe" x="974" y="765"/><use href="#pe" x="976" y="767"/><use href="#pe" x="978" y="769"/><use href="#pe" x="981" y="771"/><use href="#pe" x="983" y="773"/><use href="#pe" x="986" y="775"/><use href="#pe" x="988" y="777"/><use href="#pe" x="991" y="779"/><use href="#pe" x="994" y="781"/><use href="#pe" x="996" y="783"/><use href="#pe" x="999" y="785"/><use href="#pe" x="1001" y="787"/><use href="#pe" x="1004" y="788"/><use href="#pe" x="1006" y="790"/><use href="#pe" x="1009" y="792"/><use href="#pe" x="1012" y="794"/><use href="#pe" x="1014" y="796"/><use href="#pe" x="1017" y="798"/><use href="#pe" x="1020" y="800"/><use href="#pe" x="1022" y="802"/><use href="#pe" x="1025" y="804"/><use href="#pe" x="1028" y="806"/><use href="#pe" x="1030" y="808"/><use href="#pe" x="1033" y="809"/><use href="#pe" x="1035" y="811"/><use href="#pe" x="1038" y="813"/><use href="#pe" x="1041" y="815"/><use href="#pe" x="1043" y="817"/><use href="#pe" x="1046" y="819"/><use href="#pe" x="1049" y="821"/><use href="#pe" x="1051" y="823"/><use href="#pe" x="1054" y="825"/><use href="#pe" x="1056" y="827"/><use href="#pe" x="1059" y="829"/><use href="#pe" x="1061" y="831"/><use href="#pe" x="1064" y="833"/><use href="#pe" x="1066" y="835"/><use href="#pe" x="1069" y="837"/><use href="#pe" x="1071" y="839"/><use href="#pe" x="1074" y="842"/><use href="#pe" x="1076" y="844"/><use href="#pe" x="1078" y="846"/><use href="#pe" x="1081" y="848"/><use href="#pe" x="1083" y="851"/><use href="#pe" x="1085" y="853"/><use href="#pe" x="1087" y="856"/><use href="#pe" x="1089" y="858"/><use href="#pe" x="1091" y="861"/><use href="#pe" x="1093" y="863"/><use href="#pe" x="1095" y="866"/><use href="#pe" x="1097" y="868"/><use href="#pe" x="1099" y="871"/><use href="#pe" x="1101" y="874"/><use href="#pe" x="1103" y="876"/><use href="#pe" x="1105" y="879"/><use href="#pe" x="1106" y="882"/><use href="#pe" x="1108" y="885"/><use href="#pe" x="1110" y="888"/><use href="#pe" x="1112" y="890"/><use href="#pe" x="1113" y="893"/><use href="#pe" x="1115" y="896"/><use href="#pe" x="1117" y="899"/><use href="#pe" x="1119" y="901"/><use href="#pe" x="1120" y="904"/><use href="#pe" x="1122" y="907"/><use href="#pe" x="1124" y="910"/><use href="#pe" x="1126" y="912"/><use href="#pe" x="1128" y="915"/><use href="#pe" x="1130" y="918"/><use href="#pe" x="1131" y="921"/><use href="#pe" x="1133" y="923"/><use href="#pe" x="1135" y="926"/><use href="#pe" x="1136" y="929"/><use href="#pe" x="1138" y="932"/><use href="#pe" x="1139" y="935"/><use href="#pe" x="1140" y="938"/><use href="#pe" x="1141" y="941"/><use href="#pe" x="1143" y="944"/><use href="#pe" x="1144" y="947"/><use href="#pe" x="1145" y="950"/><use href="#pe" x="1146" y="954"/><use href="#pe" x="1147" y="957"/><use href="#pe" x="1147" y="960"/><use href="#pe" x="1148" y="963"/><use href="#pe" x="1149" y="967"/><use href="#pe" x="1149" y="970"/><use href="#pe" x="1150" y="973"/><use href="#pe" x="1150" y="977"/><use href="#pe" x="1151" y="980"/><use href="#pe" x="1151" y="983"/><use href="#pe" x="1152" y="986"/><use href="#pe" x="1152" y="989"/><use href="#pe" x="1152" y="993"/><use href="#pe" x="1153" y="996"/><use href="#pe" x="1153" y="999"/><use href="#pe" x="1154" y="1002"/><use href="#pe" x="1154" y="1006"/><use href="#pe" x="1155" y="1009"/><use href="#pe" x="1155" y="1012"/><use href="#pe" x="1156" y="1015"/><use href="#pe" x="1157" y="1019"/><use href="#pe" x="1157" y="1022"/><use href="#pe" x="1158" y="1025"/><use href="#pe" x="1158" y="1028"/><use href="#pe" x="1159" y="1031"/><use href="#pe" x="1160" y="1034"/><use href="#pe" x="1160" y="1038"/><use href="#pe" x="1161" y="1041"/><use href="#pe" x="1162" y="1044"/><use href="#pe" x="1162" y="1047"/><use href="#pe" x="1163" y="1050"/><use href="#pe" x="1164" y="1053"/><use href="#pe" x="1165" y="1057"/><use href="#pe" x="1165" y="1060"/><use href="#pe" x="1166" y="1063"/><use href="#pe" x="1167" y="1066"/><use href="#pe" x="1168" y="1069"/><use href="#pe" x="1168" y="1072"/><use href="#pe" x="1169" y="1076"/><use href="#pe" x="1170" y="1079"/><use href="#pe" x="1171" y="1082"/><use href="#pe" x="1171" y="1085"/><use href="#pe" x="1172" y="1088"/><use href="#pe" x="1173" y="1091"/><use href="#pe" x="1174" y="1094"/><use href="#pe" x="1174" y="1098"/><use href="#pe" x="1175" y="1101"/><use href="#pe" x="1176" y="1104"/><use href="#pe" x="1177" y="1107"/><use href="#pe" x="1177" y="1110"/><use href="#pe" x="1178" y="1113"/><use href="#pe" x="1179" y="1116"/><use href="#pe" x="1180" y="1120"/><use href="#pe" x="1180" y="1123"/><use href="#pe" x="1181" y="1126"/><use href="#pe" x="1182" y="1129"/><use href="#pe" x="1183" y="1132"/><use href="#pe" x="1183" y="1135"/><use href="#pe" x="1184" y="1138"/><use href="#pe" x="1185" y="1142"/><use href="#pe" x="1186" y="1145"/><use href="#pe" x="1187" y="1148"/><use href="#pe" x="1187" y="1151"/><use href="#pe" x="1188" y="1154"/><use href="#pe" x="1189" y="1157"/><use href="#pe" x="1190" y="1160"/><use href="#pe" x="1190" y="1164"/><use href="#pe" x="1191" y="1167"/><use href="#pe" x="1192" y="1170"/><use href="#pe" x="1193" y="1173"/><use href="#pe" x="1193" y="1176"/><use href="#pe" x="1194" y="1179"/><use href="#pe" x="1195" y="1182"/><use href="#pe" x="1196" y="1186"/><use href="#pe" x="1196" y="1189"/><use href="#pe" x="1197" y="1192"/><use href="#pe" x="1198" y="1195"/><use href="#pe" x="1199" y="1198"/><use href="#pe" x="1200" y="1201"/><use href="#pe" x="1200" y="1205"/><use href="#pe" x="1201" y="1208"/><use href="#pe" x="1234" y="1211"/><use href="#pe" x="1328" y="1213"/><use href="#pe" x="1455" y="1217"/><use href="#pe" x="1489" y="1218"/><use href="#pe" x="1521" y="1220"/><use href="#pe" x="1553" y="1223"/><use href="#pe" x="1589" y="1226"/><use href="#pe" x="1625" y="1230"/><use href="#pe" x="1655" y="1234"/><use href="#pe" x="1682" y="1238"/><use href="#pe" x="1706" y="1243"/><use href="#pe" x="1729" y="1247"/><use href="#pe" x="1752" y="1253"/><use href="#pe" x="1784" y="1262"/><use href="#pe" x="1785" y="1265"/><use href="#pe" x="1785" y="1268"/><use href="#pe" x="1785" y="1272"/><use href="#pe" x="1785" y="1275"/><use href="#pe" x="1786" y="1278"/><use href="#pe" x="1786" y="1281"/><use href="#pe" x="1786" y="1285"/><use href="#pe" x="1786" y="1288"/><use href="#pe" x="1787" y="1291"/><use href="#pe" x="1787" y="1294"/><use href="#pe" x="1787" y="1297"/><use href="#pe" x="1787" y="1301"/></g>
<path d="M438 208L447.3 248L461 312L465.9 338L472.3 378L488.9 496L512.1 680L520 738L527.5 784L545.3 876L551 912L565.2 1036L580.2 1132L587.4 1194.7M587.4 1194.8L1007.5 1195.4L1243.5 1197.5L1335.5 1199.5L1411.5 1202.1L1479.6 1205.7L1539.6 1210.3L1575.6 1213.9L1611.6 1218.4L1643.6 1223.2L1671.6 1228.3L1699.6 1234.2L1727.6 1241.1L1755.6 1249.3L1779.6 1257.5L1791.6 1262L1794.6 1303" fill="none" stroke="#4a88c0" stroke-width="1.8"/>
<g fill="#0060a0" stroke="#0060a0"><use href="#sc" x="438" y="208"/><use href="#sc" x="439" y="214"/><use href="#sc" x="441" y="220"/><use href="#sc" x="442" y="226"/><use href="#sc" x="446" y="243"/><use href="#sc" x="450" y="260"/><use href="#sc" x="454" y="278"/><use href="#sc" x="458" y="296"/><use href="#sc" x="461" y="313"/><use href="#sc" x="465" y="331"/><use href="#sc" x="468" y="348"/><use href="#sc" x="470" y="366"/><use href="#sc" x="473" y="383"/><use href="#sc" x="476" y="401"/><use href="#sc" x="478" y="418"/><use href="#sc" x="481" y="436"/><use href="#sc" x="483" y="454"/><use href="#sc" x="486" y="471"/><use href="#sc" x="488" y="489"/><use href="#sc" x="490" y="506"/><use href="#sc" x="492" y="524"/><use href="#sc" x="495" y="541"/><use href="#sc" x="497" y="559"/><use href="#sc" x="499" y="576"/><use href="#sc" x="501" y="594"/><use href="#sc" x="503" y="612"/><use href="#sc" x="506" y="629"/><use href="#sc" x="508" y="647"/><use href="#sc" x="510" y="664"/><use href="#sc" x="512" y="682"/><use href="#sc" x="515" y="699"/><use href="#sc" x="517" y="717"/><use href="#sc" x="520" y="734"/><use href="#sc" x="522" y="752"/><use href="#sc" x="525" y="770"/><use href="#sc" x="528" y="787"/><use href="#sc" x="531" y="805"/><use href="#sc" x="535" y="822"/><use href="#sc" x="538" y="840"/><use href="#sc" x="542" y="858"/><use href="#sc" x="545" y="875"/><use href="#sc" x="548" y="892"/><use href="#sc" x="551" y="910"/><use href="#sc" x="553" y="928"/><use href="#sc" x="555" y="945"/><use href="#sc" x="557" y="963"/><use href="#sc" x="559" y="980"/><use href="#sc" x="561" y="998"/><use href="#sc" x="563" y="1016"/><use href="#sc" x="565" y="1033"/><use href="#sc" x="567" y="1050"/><use href="#sc" x="570" y="1068"/><use href="#sc" x="573" y="1086"/><use href="#sc" x="576" y="1103"/><use href="#sc" x="578" y="1121"/><use href="#sc" x="581" y="1138"/><use href="#sc" x="583" y="1156"/><use href="#sc" x="585" y="1174"/><use href="#sc" x="587" y="1191"/><use href="#sc" x="1234" y="1197"/><use href="#sc" x="1327" y="1199"/><use href="#sc" x="1464" y="1205"/><use href="#sc" x="1497" y="1207"/><use href="#sc" x="1526" y="1209"/><use href="#sc" x="1559" y="1212"/><use href="#sc" x="1592" y="1216"/><use href="#sc" x="1614" y="1219"/><use href="#sc" x="1646" y="1224"/><use href="#sc" x="1679" y="1230"/><use href="#sc" x="1710" y="1237"/><use href="#sc" x="1748" y="1247"/><use href="#sc" x="1784" y="1259"/><use href="#sc" x="1792" y="1262"/><use href="#sc" x="1792" y="1265"/><use href="#sc" x="1792" y="1268"/><use href="#sc" x="1792" y="1272"/><use href="#sc" x="1793" y="1275"/><use href="#sc" x="1793" y="1278"/><use href="#sc" x="1793" y="1281"/><use href="#sc" x="1793" y="1285"/><use href="#sc" x="1793" y="1288"/><use href="#sc" x="1794" y="1291"/><use href="#sc" x="1794" y="1294"/><use href="#sc" x="1794" y="1297"/><use href="#sc" x="1794" y="1301"/></g>
<path d="M438 208L749.6 534.9L888 681L931.7 728.6L943 742.2L949 752.2L957 761L977.6 781.5L1028.4 828.9L1073.1 871.8L1090.5 890L1101.3 903.4L1111.8 919L1117.7 930.7L1125 950L1130 967.3L1134.2 986.2L1176 1196M1176 1197.8L1268.1 1199.1L1344.3 1200.8L1408.4 1202.9L1468.5 1205.8L1524.6 1209.6L1572.6 1214L1616.7 1219.2L1656.8 1225.3L1696.8 1232.9L1732.9 1241.5L1764.9 1250.8L1797 1262L1800 1303" fill="none" stroke="#20b0b0" stroke-width="1.8"/>
<g fill="#00a0a0" stroke="#00a0a0"><use href="#pl" x="438" y="208"/><use href="#pl" x="442" y="212"/><use href="#pl" x="446" y="217"/><use href="#pl" x="450" y="221"/><use href="#pl" x="455" y="225"/><use href="#pl" x="471" y="243"/><use href="#pl" x="473" y="245"/><use href="#pl" x="476" y="247"/><use href="#pl" x="478" y="250"/><use href="#pl" x="480" y="252"/><use href="#pl" x="482" y="254"/><use href="#pl" x="484" y="257"/><use href="#pl" x="487" y="259"/><use href="#pl" x="489" y="261"/><use href="#pl" x="491" y="264"/><use href="#pl" x="493" y="266"/><use href="#pl" x="496" y="268"/><use href="#pl" x="498" y="271"/><use href="#pl" x="500" y="273"/><use href="#pl" x="502" y="275"/><use href="#pl" x="504" y="278"/><use href="#pl" x="507" y="280"/><use href="#pl" x="509" y="282"/><use href="#pl" x="511" y="285"/><use href="#pl" x="513" y="287"/><use href="#pl" x="516" y="289"/><use href="#pl" x="518" y="292"/><use href="#pl" x="520" y="294"/><use href="#pl" x="522" y="296"/><use href="#pl" x="524" y="299"/><use href="#pl" x="538" y="313"/><use href="#pl" x="555" y="331"/><use href="#pl" x="572" y="348"/><use href="#pl" x="588" y="366"/><use href="#pl" x="605" y="383"/><use href="#pl" x="622" y="401"/><use href="#pl" x="638" y="418"/><use href="#pl" x="655" y="436"/><use href="#pl" x="672" y="453"/><use href="#pl" x="689" y="471"/><use href="#pl" x="706" y="489"/><use href="#pl" x="722" y="506"/><use href="#pl" x="739" y="524"/><use href="#pl" x="756" y="541"/><use href="#pl" x="772" y="559"/><use href="#pl" x="789" y="576"/><use href="#pl" x="806" y="594"/><use href="#pl" x="822" y="612"/><use href="#pl" x="839" y="629"/><use href="#pl" x="856" y="647"/><use href="#pl" x="872" y="664"/><use href="#pl" x="889" y="682"/><use href="#pl" x="905" y="699"/><use href="#pl" x="921" y="717"/><use href="#pl" x="937" y="735"/><use href="#pl" x="945" y="745"/><use href="#pl" x="947" y="748"/><use href="#pl" x="948" y="751"/><use href="#pl" x="950" y="753"/><use href="#pl" x="952" y="756"/><use href="#pl" x="954" y="758"/><use href="#pl" x="957" y="761"/><use href="#pl" x="959" y="763"/><use href="#pl" x="961" y="765"/><use href="#pl" x="964" y="768"/><use href="#pl" x="966" y="770"/><use href="#pl" x="968" y="772"/><use href="#pl" x="970" y="775"/><use href="#pl" x="973" y="777"/><use href="#pl" x="975" y="779"/><use href="#pl" x="978" y="782"/><use href="#pl" x="980" y="784"/><use href="#pl" x="982" y="786"/><use href="#pl" x="985" y="788"/><use href="#pl" x="987" y="790"/><use href="#pl" x="989" y="793"/><use href="#pl" x="992" y="795"/><use href="#pl" x="994" y="797"/><use href="#pl" x="996" y="799"/><use href="#pl" x="999" y="802"/><use href="#pl" x="1001" y="804"/><use href="#pl" x="1004" y="806"/><use href="#pl" x="1006" y="808"/><use href="#pl" x="1008" y="810"/><use href="#pl" x="1011" y="813"/><use href="#pl" x="1013" y="815"/><use href="#pl" x="1016" y="817"/><use href="#pl" x="1018" y="819"/><use href="#pl" x="1020" y="821"/><use href="#pl" x="1023" y="824"/><use href="#pl" x="1025" y="826"/><use href="#pl" x="1027" y="828"/><use href="#pl" x="1030" y="830"/><use href="#pl" x="1032" y="833"/><use href="#pl" x="1035" y="835"/><use href="#pl" x="1037" y="837"/><use href="#pl" x="1039" y="839"/><use href="#pl" x="1042" y="842"/><use href="#pl" x="1044" y="844"/><use href="#pl" x="1046" y="846"/><use href="#pl" x="1049" y="848"/><use href="#pl" x="1051" y="851"/><use href="#pl" x="1053" y="853"/><use href="#pl" x="1056" y="855"/><use href="#pl" x="1058" y="857"/><use href="#pl" x="1060" y="860"/><use href="#pl" x="1063" y="862"/><use href="#pl" x="1065" y="864"/><use href="#pl" x="1068" y="867"/><use href="#pl" x="1070" y="869"/><use href="#pl" x="1072" y="871"/><use href="#pl" x="1075" y="874"/><use href="#pl" x="1077" y="876"/><use href="#pl" x="1080" y="878"/><use href="#pl" x="1082" y="881"/><use href="#pl" x="1084" y="883"/><use href="#pl" x="1086" y="886"/><use href="#pl" x="1089" y="888"/><use href="#pl" x="1091" y="890"/><use href="#pl" x="1093" y="893"/><use href="#pl" x="1095" y="895"/><use href="#pl" x="1097" y="898"/><use href="#pl" x="1099" y="901"/><use href="#pl" x="1101" y="903"/><use href="#pl" x="1103" y="906"/><use href="#pl" x="1105" y="909"/><use href="#pl" x="1107" y="911"/><use href="#pl" x="1109" y="914"/><use href="#pl" x="1111" y="917"/><use href="#pl" x="1112" y="920"/><use href="#pl" x="1114" y="922"/><use href="#pl" x="1115" y="925"/><use href="#pl" x="1117" y="928"/><use href="#pl" x="1118" y="931"/><use href="#pl" x="1119" y="934"/><use href="#pl" x="1120" y="937"/><use href="#pl" x="1122" y="940"/><use href="#pl" x="1123" y="943"/><use href="#pl" x="1124" y="946"/><use href="#pl" x="1125" y="950"/><use href="#pl" x="1126" y="953"/><use href="#pl" x="1127" y="956"/><use href="#pl" x="1128" y="959"/><use href="#pl" x="1129" y="963"/><use href="#pl" x="1130" y="966"/><use href="#pl" x="1130" y="969"/><use href="#pl" x="1131" y="972"/><use href="#pl" x="1132" y="975"/><use href="#pl" x="1133" y="978"/><use href="#pl" x="1133" y="982"/><use href="#pl" x="1134" y="985"/><use href="#pl" x="1135" y="988"/><use href="#pl" x="1135" y="992"/><use href="#pl" x="1136" y="995"/><use href="#pl" x="1137" y="998"/><use href="#pl" x="1137" y="1001"/><use href="#pl" x="1138" y="1005"/><use href="#pl" x="1138" y="1008"/><use href="#pl" x="1139" y="1011"/><use href="#pl" x="1140" y="1014"/><use href="#pl" x="1140" y="1017"/><use href="#pl" x="1141" y="1021"/><use href="#pl" x="1142" y="1024"/><use href="#pl" x="1142" y="1027"/><use href="#pl" x="1143" y="1030"/><use href="#pl" x="1143" y="1033"/><use href="#pl" x="1144" y="1036"/><use href="#pl" x="1145" y="1040"/><use href="#pl" x="1145" y="1043"/><use href="#pl" x="1146" y="1046"/><use href="#pl" x="1147" y="1049"/><use href="#pl" x="1147" y="1052"/><use href="#pl" x="1148" y="1056"/><use href="#pl" x="1149" y="1059"/><use href="#pl" x="1149" y="1062"/><use href="#pl" x="1150" y="1065"/><use href="#pl" x="1151" y="1068"/><use href="#pl" x="1151" y="1071"/><use href="#pl" x="1152" y="1075"/><use href="#pl" x="1152" y="1078"/><use href="#pl" x="1153" y="1081"/><use href="#pl" x="1154" y="1084"/><use href="#pl" x="1154" y="1087"/><use href="#pl" x="1155" y="1091"/><use href="#pl" x="1156" y="1094"/><use href="#pl" x="1156" y="1097"/><use href="#pl" x="1157" y="1100"/><use href="#pl" x="1158" y="1103"/><use href="#pl" x="1158" y="1106"/><use href="#pl" x="1159" y="1109"/><use href="#pl" x="1159" y="1113"/><use href="#pl" x="1160" y="1116"/><use href="#pl" x="1161" y="1119"/><use href="#pl" x="1161" y="1122"/><use href="#pl" x="1162" y="1125"/><use href="#pl" x="1163" y="1129"/><use href="#pl" x="1163" y="1132"/><use href="#pl" x="1164" y="1135"/><use href="#pl" x="1165" y="1138"/><use href="#pl" x="1165" y="1141"/><use href="#pl" x="1166" y="1145"/><use href="#pl" x="1166" y="1148"/><use href="#pl" x="1167" y="1151"/><use href="#pl" x="1168" y="1154"/><use href="#pl" x="1168" y="1157"/><use href="#pl" x="1169" y="1160"/><use href="#pl" x="1170" y="1164"/><use href="#pl" x="1170" y="1167"/><use href="#pl" x="1171" y="1170"/><use href="#pl" x="1171" y="1173"/><use href="#pl" x="1172" y="1176"/><use href="#pl" x="1173" y="1179"/><use href="#pl" x="1173" y="1182"/><use href="#pl" x="1174" y="1186"/><use href="#pl" x="1175" y="1189"/><use href="#pl" x="1175" y="1192"/><use href="#pl" x="1176" y="1195"/><use href="#pl" x="1272" y="1199"/><use href="#pl" x="1422" y="1203"/><use href="#pl" x="1543" y="1211"/><use href="#pl" x="1567" y="1213"/><use href="#pl" x="1597" y="1217"/><use href="#pl" x="1630" y="1221"/><use href="#pl" x="1661" y="1226"/><use href="#pl" x="1694" y="1232"/><use href="#pl" x="1732" y="1241"/><use href="#pl" x="1761" y="1250"/><use href="#pl" x="1790" y="1259"/><use href="#pl" x="1797" y="1262"/><use href="#pl" x="1797" y="1265"/><use href="#pl" x="1797" y="1268"/><use href="#pl" x="1798" y="1272"/><use href="#pl" x="1798" y="1275"/><use href="#pl" x="1798" y="1278"/><use href="#pl" x="1798" y="1281"/><use href="#pl" x="1799" y="1285"/><use href="#pl" x="1799" y="1288"/><use href="#pl" x="1799" y="1291"/><use href="#pl" x="1799" y="1294"/><use href="#pl" x="1800" y="1297"/><use href="#pl" x="1800" y="1301"/></g>
<path d="M438 208L447.6 250L460.6 312L466.7 346L473.3 388L488.4 496L517.3 726L524.6 774L542.2 866L548 900L552.6 936L563.6 1036L578.7 1132L585 1186.2M585 1186.3L1006.2 1186.9L1138.6 1187.8L1242.9 1189.1L1335.2 1191.2L1411.4 1194L1479.6 1197.7L1539.7 1202.5L1575.8 1206.3L1611.9 1211L1644 1216.1L1672.1 1221.4L1700.2 1227.6L1728.3 1234.9L1752.4 1242.2L1776.4 1250.6L1804.5 1262L1807.5 1303" fill="none" stroke="#c08050" stroke-width="1.8"/>
<g fill="#c07030" stroke="#c07030"><use href="#xx" x="438" y="208"/><use href="#xx" x="439" y="214"/><use href="#xx" x="441" y="220"/><use href="#xx" x="442" y="226"/><use href="#xx" x="446" y="243"/><use href="#xx" x="450" y="260"/><use href="#xx" x="454" y="278"/><use href="#xx" x="457" y="296"/><use href="#xx" x="461" y="313"/><use href="#xx" x="464" y="331"/><use href="#xx" x="467" y="348"/><use href="#xx" x="470" y="366"/><use href="#xx" x="473" y="383"/><use href="#xx" x="475" y="401"/><use href="#xx" x="478" y="418"/><use href="#xx" x="480" y="436"/><use href="#xx" x="483" y="454"/><use href="#xx" x="485" y="471"/><use href="#xx" x="487" y="489"/><use href="#xx" x="490" y="506"/><use href="#xx" x="492" y="524"/><use href="#xx" x="494" y="541"/><use href="#xx" x="496" y="559"/><use href="#xx" x="498" y="576"/><use href="#xx" x="500" y="594"/><use href="#xx" x="503" y="612"/><use href="#xx" x="505" y="629"/><use href="#xx" x="507" y="647"/><use href="#xx" x="509" y="664"/><use href="#xx" x="511" y="682"/><use href="#xx" x="514" y="699"/><use href="#xx" x="516" y="717"/><use href="#xx" x="518" y="734"/><use href="#xx" x="521" y="752"/><use href="#xx" x="524" y="770"/><use href="#xx" x="527" y="787"/><use href="#xx" x="530" y="805"/><use href="#xx" x="534" y="822"/><use href="#xx" x="537" y="840"/><use href="#xx" x="541" y="858"/><use href="#xx" x="544" y="875"/><use href="#xx" x="547" y="892"/><use href="#xx" x="549" y="910"/><use href="#xx" x="552" y="928"/><use href="#xx" x="554" y="945"/><use href="#xx" x="556" y="963"/><use href="#xx" x="557" y="980"/><use href="#xx" x="559" y="998"/><use href="#xx" x="561" y="1016"/><use href="#xx" x="563" y="1033"/><use href="#xx" x="566" y="1050"/><use href="#xx" x="568" y="1068"/><use href="#xx" x="571" y="1086"/><use href="#xx" x="574" y="1103"/><use href="#xx" x="577" y="1121"/><use href="#xx" x="579" y="1138"/><use href="#xx" x="582" y="1156"/><use href="#xx" x="584" y="1174"/><use href="#xx" x="1182" y="1188"/><use href="#xx" x="1324" y="1191"/><use href="#xx" x="1447" y="1196"/><use href="#xx" x="1606" y="1210"/><use href="#xx" x="1638" y="1215"/><use href="#xx" x="1667" y="1220"/><use href="#xx" x="1691" y="1225"/><use href="#xx" x="1721" y="1233"/><use href="#xx" x="1760" y="1245"/><use href="#xx" x="1804" y="1262"/><use href="#xx" x="1805" y="1265"/><use href="#xx" x="1805" y="1268"/><use href="#xx" x="1805" y="1272"/><use href="#xx" x="1805" y="1275"/><use href="#xx" x="1806" y="1278"/><use href="#xx" x="1806" y="1281"/><use href="#xx" x="1806" y="1285"/><use href="#xx" x="1806" y="1288"/><use href="#xx" x="1807" y="1291"/><use href="#xx" x="1807" y="1294"/><use href="#xx" x="1807" y="1297"/><use href="#xx" x="1807" y="1301"/></g>
<path d="M438 208L745.4 534.9L882 681L925.2 728.6L936.4 742.2L942.3 752.2L950 761L983.6 795.4L1071.1 881L1083.4 894.5L1090.3 903.4L1100.4 919L1106 930.7L1113 950L1119.6 973.7L1125.4 1001.3L1136.2 1059L1158 1186M1158 1187.7L1250 1189L1330 1190.7L1398 1193L1458 1195.9L1514 1199.7L1562 1204L1606 1209.3L1650 1216L1694 1224.8L1738 1236.1L1774 1247.7L1810 1262L1813 1303" fill="none" stroke="#00dd77" stroke-width="1.8"/>
<g fill="#00dd66" stroke="#00dd66"><use href="#as" x="438" y="208"/><use href="#as" x="442" y="212"/><use href="#as" x="446" y="217"/><use href="#as" x="450" y="221"/><use href="#as" x="455" y="226"/><use href="#as" x="471" y="243"/><use href="#as" x="473" y="245"/><use href="#as" x="475" y="248"/><use href="#as" x="477" y="250"/><use href="#as" x="480" y="252"/><use href="#as" x="482" y="255"/><use href="#as" x="484" y="257"/><use href="#as" x="486" y="259"/><use href="#as" x="488" y="262"/><use href="#as" x="491" y="264"/><use href="#as" x="493" y="266"/><use href="#as" x="495" y="269"/><use href="#as" x="497" y="271"/><use href="#as" x="499" y="273"/><use href="#as" x="502" y="276"/><use href="#as" x="504" y="278"/><use href="#as" x="506" y="280"/><use href="#as" x="508" y="283"/><use href="#as" x="510" y="285"/><use href="#as" x="513" y="287"/><use href="#as" x="515" y="290"/><use href="#as" x="517" y="292"/><use href="#as" x="519" y="294"/><use href="#as" x="521" y="297"/><use href="#as" x="524" y="299"/><use href="#as" x="537" y="313"/><use href="#as" x="553" y="331"/><use href="#as" x="570" y="348"/><use href="#as" x="586" y="366"/><use href="#as" x="603" y="383"/><use href="#as" x="619" y="401"/><use href="#as" x="636" y="418"/><use href="#as" x="652" y="436"/><use href="#as" x="669" y="454"/><use href="#as" x="685" y="471"/><use href="#as" x="702" y="489"/><use href="#as" x="718" y="506"/><use href="#as" x="735" y="524"/><use href="#as" x="751" y="541"/><use href="#as" x="768" y="559"/><use href="#as" x="784" y="576"/><use href="#as" x="801" y="594"/><use href="#as" x="817" y="612"/><use href="#as" x="834" y="629"/><use href="#as" x="850" y="647"/><use href="#as" x="866" y="664"/><use href="#as" x="883" y="682"/><use href="#as" x="899" y="699"/><use href="#as" x="915" y="717"/><use href="#as" x="930" y="735"/><use href="#as" x="939" y="745"/><use href="#as" x="940" y="748"/><use href="#as" x="941" y="751"/><use href="#as" x="943" y="754"/><use href="#as" x="945" y="756"/><use href="#as" x="948" y="758"/><use href="#as" x="950" y="761"/><use href="#as" x="952" y="763"/><use href="#as" x="954" y="765"/><use href="#as" x="956" y="768"/><use href="#as" x="959" y="770"/><use href="#as" x="961" y="773"/><use href="#as" x="963" y="775"/><use href="#as" x="965" y="777"/><use href="#as" x="968" y="779"/><use href="#as" x="970" y="782"/><use href="#as" x="972" y="784"/><use href="#as" x="975" y="786"/><use href="#as" x="977" y="789"/><use href="#as" x="979" y="791"/><use href="#as" x="982" y="793"/><use href="#as" x="984" y="796"/><use href="#as" x="986" y="798"/><use href="#as" x="989" y="800"/><use href="#as" x="991" y="803"/><use href="#as" x="993" y="805"/><use href="#as" x="996" y="807"/><use href="#as" x="998" y="810"/><use href="#as" x="1000" y="812"/><use href="#as" x="1003" y="814"/><use href="#as" x="1005" y="816"/><use href="#as" x="1007" y="819"/><use href="#as" x="1010" y="821"/><use href="#as" x="1012" y="823"/><use href="#as" x="1014" y="825"/><use href="#as" x="1017" y="828"/><use href="#as" x="1019" y="830"/><use href="#as" x="1021" y="832"/><use href="#as" x="1024" y="835"/><use href="#as" x="1026" y="837"/><use href="#as" x="1029" y="840"/><use href="#as" x="1031" y="842"/><use href="#as" x="1033" y="844"/><use href="#as" x="1036" y="847"/><use href="#as" x="1038" y="849"/><use href="#as" x="1040" y="851"/><use href="#as" x="1043" y="853"/><use href="#as" x="1045" y="856"/><use href="#as" x="1047" y="858"/><use href="#as" x="1050" y="860"/><use href="#as" x="1052" y="863"/><use href="#as" x="1055" y="865"/><use href="#as" x="1057" y="867"/><use href="#as" x="1059" y="869"/><use href="#as" x="1062" y="872"/><use href="#as" x="1064" y="874"/><use href="#as" x="1066" y="876"/><use href="#as" x="1069" y="878"/><use href="#as" x="1071" y="881"/><use href="#as" x="1073" y="883"/><use href="#as" x="1075" y="886"/><use href="#as" x="1078" y="888"/><use href="#as" x="1080" y="890"/><use href="#as" x="1082" y="893"/><use href="#as" x="1084" y="895"/><use href="#as" x="1086" y="898"/><use href="#as" x="1088" y="901"/><use href="#as" x="1090" y="903"/><use href="#as" x="1092" y="906"/><use href="#as" x="1094" y="909"/><use href="#as" x="1096" y="911"/><use href="#as" x="1098" y="914"/><use href="#as" x="1099" y="917"/><use href="#as" x="1101" y="920"/><use href="#as" x="1102" y="923"/><use href="#as" x="1104" y="925"/><use href="#as" x="1105" y="928"/><use href="#as" x="1106" y="931"/><use href="#as" x="1108" y="935"/><use href="#as" x="1109" y="938"/><use href="#as" x="1110" y="941"/><use href="#as" x="1111" y="944"/><use href="#as" x="1112" y="947"/><use href="#as" x="1113" y="950"/><use href="#as" x="1114" y="953"/><use href="#as" x="1115" y="956"/><use href="#as" x="1116" y="959"/><use href="#as" x="1117" y="962"/><use href="#as" x="1118" y="966"/><use href="#as" x="1118" y="969"/><use href="#as" x="1119" y="972"/><use href="#as" x="1120" y="975"/><use href="#as" x="1121" y="979"/><use href="#as" x="1121" y="982"/><use href="#as" x="1122" y="985"/><use href="#as" x="1123" y="988"/><use href="#as" x="1123" y="991"/><use href="#as" x="1124" y="995"/><use href="#as" x="1125" y="998"/><use href="#as" x="1125" y="1001"/><use href="#as" x="1126" y="1004"/><use href="#as" x="1127" y="1008"/><use href="#as" x="1127" y="1011"/><use href="#as" x="1128" y="1014"/><use href="#as" x="1128" y="1017"/><use href="#as" x="1129" y="1020"/><use href="#as" x="1130" y="1024"/><use href="#as" x="1130" y="1027"/><use href="#as" x="1131" y="1030"/><use href="#as" x="1131" y="1033"/><use href="#as" x="1132" y="1036"/><use href="#as" x="1133" y="1040"/><use href="#as" x="1133" y="1043"/><use href="#as" x="1134" y="1046"/><use href="#as" x="1134" y="1049"/><use href="#as" x="1135" y="1052"/><use href="#as" x="1136" y="1055"/><use href="#as" x="1136" y="1059"/><use href="#as" x="1137" y="1062"/><use href="#as" x="1137" y="1065"/><use href="#as" x="1138" y="1068"/><use href="#as" x="1138" y="1071"/><use href="#as" x="1139" y="1075"/><use href="#as" x="1140" y="1078"/><use href="#as" x="1140" y="1081"/><use href="#as" x="1141" y="1084"/><use href="#as" x="1141" y="1087"/><use href="#as" x="1142" y="1090"/><use href="#as" x="1142" y="1094"/><use href="#as" x="1143" y="1097"/><use href="#as" x="1143" y="1100"/><use href="#as" x="1144" y="1103"/><use href="#as" x="1144" y="1106"/><use href="#as" x="1145" y="1110"/><use href="#as" x="1146" y="1113"/><use href="#as" x="1146" y="1116"/><use href="#as" x="1147" y="1119"/><use href="#as" x="1147" y="1122"/><use href="#as" x="1148" y="1126"/><use href="#as" x="1148" y="1129"/><use href="#as" x="1149" y="1132"/><use href="#as" x="1149" y="1135"/><use href="#as" x="1150" y="1138"/><use href="#as" x="1150" y="1142"/><use href="#as" x="1151" y="1145"/><use href="#as" x="1152" y="1148"/><use href="#as" x="1152" y="1151"/><use href="#as" x="1153" y="1154"/><use href="#as" x="1153" y="1158"/><use href="#as" x="1154" y="1161"/><use href="#as" x="1154" y="1164"/><use href="#as" x="1155" y="1167"/><use href="#as" x="1155" y="1171"/><use href="#as" x="1156" y="1174"/><use href="#as" x="1156" y="1177"/><use href="#as" x="1157" y="1180"/><use href="#as" x="1158" y="1184"/><use href="#as" x="1256" y="1189"/><use href="#as" x="1360" y="1192"/><use href="#as" x="1443" y="1195"/><use href="#as" x="1541" y="1202"/><use href="#as" x="1576" y="1206"/><use href="#as" x="1606" y="1209"/><use href="#as" x="1629" y="1213"/><use href="#as" x="1651" y="1216"/><use href="#as" x="1690" y="1224"/><use href="#as" x="1714" y="1229"/><use href="#as" x="1744" y="1238"/><use href="#as" x="1776" y="1248"/><use href="#as" x="1810" y="1262"/><use href="#as" x="1810" y="1265"/><use href="#as" x="1810" y="1268"/><use href="#as" x="1811" y="1272"/><use href="#as" x="1811" y="1275"/><use href="#as" x="1811" y="1278"/><use href="#as" x="1811" y="1281"/><use href="#as" x="1812" y="1285"/><use href="#as" x="1812" y="1288"/><use href="#as" x="1812" y="1291"/><use href="#as" x="1812" y="1294"/><use href="#as" x="1813" y="1297"/><use href="#as" x="1813" y="1301"/></g>
<path d="M438 208L447.5 250L459.4 308L466.2 346L473 390L487.9 496L516.6 728L525.3 784L541 866L546.6 900L551.2 936L561.9 1036L577.3 1132L582.4 1176.1M582.4 1176.2L1010.6 1176.9L1142.7 1177.8L1246.7 1179.3L1338.8 1181.5L1414.8 1184.5L1482.8 1188.6L1542.9 1193.8L1578.9 1197.9L1610.9 1202.4L1642.9 1207.8L1670.9 1213.3L1698.9 1219.9L1727 1227.6L1751 1235.4L1775 1244.2L1795 1252.6L1815 1262L1818 1303" fill="none" stroke="#ff3399" stroke-width="1.8"/>
<path d="M438 208L876 681L918.8 728.6L930.1 742.2L936.4 752.2L950.2 767.7L1026.5 846.6L1061.3 881L1073.5 894.5L1080.2 903.4L1090.3 919L1096 930.7L1103 950L1108.1 967.7L1113.9 994.3L1124 1046.4L1148 1180M1148 1181.7L1244.3 1182.9L1324.5 1184.7L1396.7 1187.1L1456.9 1190.1L1513.1 1194L1561.2 1198.5L1605.4 1203.9L1649.5 1210.9L1697.6 1220.8L1721.7 1226.9L1741.8 1232.7L1761.8 1239.2L1781.9 1246.5L1802 1254.7L1818 1262L1821 1303" fill="none" stroke="#00cccc" stroke-width="1.8"/>
<g fill="#00cccc" stroke="#00cccc"><use href="#ba" x="438" y="208"/><use href="#ba" x="442" y="212"/><use href="#ba" x="446" y="217"/><use href="#ba" x="450" y="221"/><use href="#ba" x="454" y="226"/><use href="#ba" x="470" y="243"/><use href="#ba" x="472" y="245"/><use href="#ba" x="475" y="247"/><use href="#ba" x="477" y="250"/><use href="#ba" x="479" y="252"/><use href="#ba" x="481" y="255"/><use href="#ba" x="483" y="257"/><use href="#ba" x="486" y="259"/><use href="#ba" x="488" y="262"/><use href="#ba" x="490" y="264"/><use href="#ba" x="492" y="266"/><use href="#ba" x="494" y="269"/><use href="#ba" x="496" y="271"/><use href="#ba" x="499" y="273"/><use href="#ba" x="501" y="276"/><use href="#ba" x="503" y="278"/><use href="#ba" x="505" y="280"/><use href="#ba" x="507" y="283"/><use href="#ba" x="510" y="285"/><use href="#ba" x="512" y="288"/><use href="#ba" x="514" y="290"/><use href="#ba" x="516" y="292"/><use href="#ba" x="518" y="295"/><use href="#ba" x="520" y="297"/><use href="#ba" x="523" y="299"/><use href="#ba" x="535" y="313"/><use href="#ba" x="552" y="330"/><use href="#ba" x="568" y="348"/><use href="#ba" x="584" y="366"/><use href="#ba" x="601" y="383"/><use href="#ba" x="617" y="401"/><use href="#ba" x="633" y="418"/><use href="#ba" x="649" y="436"/><use href="#ba" x="666" y="453"/><use href="#ba" x="682" y="471"/><use href="#ba" x="698" y="489"/><use href="#ba" x="714" y="506"/><use href="#ba" x="731" y="524"/><use href="#ba" x="747" y="541"/><use href="#ba" x="763" y="559"/><use href="#ba" x="780" y="576"/><use href="#ba" x="796" y="594"/><use href="#ba" x="812" y="611"/><use href="#ba" x="828" y="629"/><use href="#ba" x="844" y="647"/><use href="#ba" x="861" y="664"/><use href="#ba" x="877" y="682"/><use href="#ba" x="893" y="699"/><use href="#ba" x="908" y="717"/><use href="#ba" x="924" y="735"/><use href="#ba" x="932" y="745"/><use href="#ba" x="934" y="748"/><use href="#ba" x="936" y="751"/><use href="#ba" x="938" y="754"/><use href="#ba" x="939" y="756"/><use href="#ba" x="942" y="758"/><use href="#ba" x="944" y="761"/><use href="#ba" x="946" y="763"/><use href="#ba" x="948" y="766"/><use href="#ba" x="950" y="768"/><use href="#ba" x="953" y="770"/><use href="#ba" x="955" y="773"/><use href="#ba" x="957" y="775"/><use href="#ba" x="959" y="778"/><use href="#ba" x="962" y="780"/><use href="#ba" x="964" y="782"/><use href="#ba" x="966" y="785"/><use href="#ba" x="968" y="787"/><use href="#ba" x="971" y="789"/><use href="#ba" x="973" y="792"/><use href="#ba" x="975" y="794"/><use href="#ba" x="977" y="796"/><use href="#ba" x="980" y="799"/><use href="#ba" x="982" y="801"/><use href="#ba" x="984" y="803"/><use href="#ba" x="986" y="806"/><use href="#ba" x="989" y="808"/><use href="#ba" x="991" y="810"/><use href="#ba" x="993" y="813"/><use href="#ba" x="996" y="815"/><use href="#ba" x="998" y="817"/><use href="#ba" x="1000" y="820"/><use href="#ba" x="1002" y="822"/><use href="#ba" x="1005" y="824"/><use href="#ba" x="1007" y="827"/><use href="#ba" x="1009" y="829"/><use href="#ba" x="1012" y="831"/><use href="#ba" x="1014" y="834"/><use href="#ba" x="1016" y="836"/><use href="#ba" x="1018" y="838"/><use href="#ba" x="1021" y="841"/><use href="#ba" x="1023" y="843"/><use href="#ba" x="1025" y="845"/><use href="#ba" x="1028" y="848"/><use href="#ba" x="1030" y="850"/><use href="#ba" x="1032" y="852"/><use href="#ba" x="1035" y="855"/><use href="#ba" x="1037" y="857"/><use href="#ba" x="1039" y="859"/><use href="#ba" x="1042" y="862"/><use href="#ba" x="1044" y="864"/><use href="#ba" x="1046" y="866"/><use href="#ba" x="1049" y="869"/><use href="#ba" x="1051" y="871"/><use href="#ba" x="1054" y="873"/><use href="#ba" x="1056" y="876"/><use href="#ba" x="1058" y="878"/><use href="#ba" x="1061" y="880"/><use href="#ba" x="1063" y="883"/><use href="#ba" x="1065" y="885"/><use href="#ba" x="1067" y="888"/><use href="#ba" x="1070" y="890"/><use href="#ba" x="1072" y="893"/><use href="#ba" x="1074" y="895"/><use href="#ba" x="1076" y="898"/><use href="#ba" x="1078" y="900"/><use href="#ba" x="1080" y="903"/><use href="#ba" x="1082" y="906"/><use href="#ba" x="1084" y="909"/><use href="#ba" x="1086" y="911"/><use href="#ba" x="1087" y="914"/><use href="#ba" x="1089" y="917"/><use href="#ba" x="1091" y="919"/><use href="#ba" x="1092" y="922"/><use href="#ba" x="1093" y="925"/><use href="#ba" x="1095" y="928"/><use href="#ba" x="1096" y="931"/><use href="#ba" x="1097" y="934"/><use href="#ba" x="1099" y="937"/><use href="#ba" x="1100" y="940"/><use href="#ba" x="1101" y="943"/><use href="#ba" x="1102" y="946"/><use href="#ba" x="1103" y="950"/><use href="#ba" x="1104" y="953"/><use href="#ba" x="1105" y="956"/><use href="#ba" x="1106" y="959"/><use href="#ba" x="1107" y="962"/><use href="#ba" x="1107" y="965"/><use href="#ba" x="1108" y="968"/><use href="#ba" x="1109" y="972"/><use href="#ba" x="1110" y="975"/><use href="#ba" x="1111" y="978"/><use href="#ba" x="1111" y="981"/><use href="#ba" x="1112" y="984"/><use href="#ba" x="1113" y="988"/><use href="#ba" x="1113" y="991"/><use href="#ba" x="1114" y="994"/><use href="#ba" x="1114" y="997"/><use href="#ba" x="1115" y="1000"/><use href="#ba" x="1116" y="1003"/><use href="#ba" x="1116" y="1006"/><use href="#ba" x="1117" y="1010"/><use href="#ba" x="1118" y="1013"/><use href="#ba" x="1118" y="1016"/><use href="#ba" x="1119" y="1019"/><use href="#ba" x="1119" y="1022"/><use href="#ba" x="1120" y="1025"/><use href="#ba" x="1121" y="1029"/><use href="#ba" x="1121" y="1032"/><use href="#ba" x="1122" y="1035"/><use href="#ba" x="1122" y="1038"/><use href="#ba" x="1123" y="1042"/><use href="#ba" x="1124" y="1045"/><use href="#ba" x="1124" y="1048"/><use href="#ba" x="1125" y="1051"/><use href="#ba" x="1125" y="1054"/><use href="#ba" x="1126" y="1058"/><use href="#ba" x="1127" y="1061"/><use href="#ba" x="1127" y="1064"/><use href="#ba" x="1128" y="1067"/><use href="#ba" x="1128" y="1070"/><use href="#ba" x="1129" y="1073"/><use href="#ba" x="1130" y="1077"/><use href="#ba" x="1130" y="1080"/><use href="#ba" x="1131" y="1083"/><use href="#ba" x="1131" y="1086"/><use href="#ba" x="1132" y="1089"/><use href="#ba" x="1132" y="1093"/><use href="#ba" x="1133" y="1096"/><use href="#ba" x="1134" y="1099"/><use href="#ba" x="1134" y="1102"/><use href="#ba" x="1135" y="1105"/><use href="#ba" x="1135" y="1109"/><use href="#ba" x="1136" y="1112"/><use href="#ba" x="1136" y="1115"/><use href="#ba" x="1137" y="1118"/><use href="#ba" x="1138" y="1121"/><use href="#ba" x="1138" y="1124"/><use href="#ba" x="1139" y="1128"/><use href="#ba" x="1139" y="1131"/><use href="#ba" x="1140" y="1134"/><use href="#ba" x="1140" y="1137"/><use href="#ba" x="1141" y="1141"/><use href="#ba" x="1142" y="1144"/><use href="#ba" x="1142" y="1147"/><use href="#ba" x="1143" y="1150"/><use href="#ba" x="1143" y="1153"/><use href="#ba" x="1144" y="1156"/><use href="#ba" x="1144" y="1160"/><use href="#ba" x="1145" y="1163"/><use href="#ba" x="1146" y="1166"/><use href="#ba" x="1146" y="1169"/><use href="#ba" x="1147" y="1172"/><use href="#ba" x="1147" y="1176"/><use href="#ba" x="1148" y="1179"/><use href="#ba" x="1222" y="1183"/><use href="#ba" x="1371" y="1186"/><use href="#ba" x="1503" y="1193"/><use href="#ba" x="1543" y="1197"/><use href="#ba" x="1569" y="1199"/><use href="#ba" x="1607" y="1204"/><use href="#ba" x="1630" y="1208"/><use href="#ba" x="1657" y="1212"/><use href="#ba" x="1685" y="1218"/><use href="#ba" x="1716" y="1226"/><use href="#ba" x="1739" y="1232"/><use href="#ba" x="1765" y="1240"/><use href="#ba" x="1788" y="1249"/><use href="#ba" x="1818" y="1262"/><use href="#ba" x="1818" y="1265"/><use href="#ba" x="1818" y="1268"/><use href="#ba" x="1819" y="1272"/><use href="#ba" x="1819" y="1275"/><use href="#ba" x="1819" y="1278"/><use href="#ba" x="1819" y="1281"/><use href="#ba" x="1820" y="1285"/><use href="#ba" x="1820" y="1288"/><use href="#ba" x="1820" y="1291"/><use href="#ba" x="1820" y="1294"/><use href="#ba" x="1821" y="1297"/><use href="#ba" x="1821" y="1301"/></g>
<path d="M438 208L447.4 250L459 308L465.7 346L474.3 402L487.4 496L509.4 680L516.9 738L524.2 784L539.7 866L545.3 900L549.8 936L560.3 1036L566 1074L575.8 1132L579.8 1166.7M579.8 1166.8L1008.6 1167.6L1140.8 1168.5L1245 1170.1L1337.2 1172.4L1413.3 1175.6L1481.4 1179.9L1541.5 1185.4L1577.6 1189.8L1609.6 1194.5L1641.7 1200.2L1669.7 1206.1L1697.8 1213.1L1725.8 1221.3L1749.9 1229.4L1773.9 1238.8L1798 1249.6L1822 1262L1825 1303" fill="none" stroke="#7777bb" stroke-width="1.8"/>
<g fill="#4040a0" stroke="#4040a0"><use href="#sq" x="438" y="208"/><use href="#sq" x="439" y="214"/><use href="#sq" x="441" y="220"/><use href="#sq" x="442" y="226"/><use href="#sq" x="446" y="243"/><use href="#sq" x="450" y="260"/><use href="#sq" x="453" y="278"/><use href="#sq" x="457" y="296"/><use href="#sq" x="460" y="313"/><use href="#sq" x="463" y="331"/><use href="#sq" x="466" y="348"/><use href="#sq" x="469" y="366"/><use href="#sq" x="471" y="383"/><use href="#sq" x="474" y="401"/><use href="#sq" x="477" y="418"/><use href="#sq" x="479" y="436"/><use href="#sq" x="482" y="454"/><use href="#sq" x="484" y="471"/><use href="#sq" x="487" y="489"/><use href="#sq" x="489" y="506"/><use href="#sq" x="491" y="524"/><use href="#sq" x="493" y="541"/><use href="#sq" x="495" y="559"/><use href="#sq" x="497" y="576"/><use href="#sq" x="499" y="594"/><use href="#sq" x="501" y="612"/><use href="#sq" x="503" y="629"/><use href="#sq" x="505" y="647"/><use href="#sq" x="508" y="664"/><use href="#sq" x="510" y="682"/><use href="#sq" x="512" y="699"/><use href="#sq" x="514" y="717"/><use href="#sq" x="516" y="734"/><use href="#sq" x="519" y="752"/><use href="#sq" x="522" y="770"/><use href="#sq" x="525" y="787"/><use href="#sq" x="528" y="805"/><use href="#sq" x="531" y="822"/><use href="#sq" x="535" y="840"/><use href="#sq" x="538" y="858"/><use href="#sq" x="541" y="875"/><use href="#sq" x="544" y="892"/><use href="#sq" x="547" y="910"/><use href="#sq" x="549" y="928"/><use href="#sq" x="551" y="945"/><use href="#sq" x="553" y="963"/><use href="#sq" x="554" y="980"/><use href="#sq" x="556" y="998"/><use href="#sq" x="558" y="1016"/><use href="#sq" x="560" y="1033"/><use href="#sq" x="562" y="1050"/><use href="#sq" x="565" y="1068"/><use href="#sq" x="568" y="1086"/><use href="#sq" x="571" y="1103"/><use href="#sq" x="574" y="1121"/><use href="#sq" x="577" y="1138"/><use href="#sq" x="579" y="1156"/><use href="#sq" x="1169" y="1169"/><use href="#sq" x="1270" y="1171"/><use href="#sq" x="1418" y="1176"/><use href="#sq" x="1570" y="1189"/><use href="#sq" x="1602" y="1193"/><use href="#sq" x="1635" y="1199"/><use href="#sq" x="1672" y="1207"/><use href="#sq" x="1711" y="1217"/><use href="#sq" x="1749" y="1229"/><use href="#sq" x="1786" y="1244"/><use href="#sq" x="1822" y="1262"/><use href="#sq" x="1822" y="1265"/><use href="#sq" x="1822" y="1268"/><use href="#sq" x="1823" y="1272"/><use href="#sq" x="1823" y="1275"/><use href="#sq" x="1823" y="1278"/><use href="#sq" x="1823" y="1281"/><use href="#sq" x="1824" y="1285"/><use href="#sq" x="1824" y="1288"/><use href="#sq" x="1824" y="1291"/><use href="#sq" x="1824" y="1294"/><use href="#sq" x="1825" y="1297"/><use href="#sq" x="1825" y="1301"/></g>
<path d="M438 208L870 681L912.4 728.6L923.8 742.2L930.5 752.2L944.1 767.7L1018.4 846.6L1052.6 881L1060.8 890L1068 899L1078.8 915.2L1084.6 926.6L1091.3 944.5L1097.9 968L1103.6 995.3L1112.8 1045.7L1133 1166M1133 1167.7L1229 1169L1313 1170.9L1385 1173.5L1449 1176.8L1505 1181L1557 1186.3L1601 1192.2L1645 1199.8L1673 1205.8L1697 1211.7L1721 1218.5L1741 1225L1765 1233.8L1785 1242.1L1805 1251.5L1825 1262L1828 1303" fill="none" stroke="#88b030" stroke-width="1.8"/>
<g fill="#80b020" stroke="#80b020"><use href="#ci" x="438" y="208"/><use href="#ci" x="442" y="212"/><use href="#ci" x="446" y="217"/><use href="#ci" x="450" y="221"/><use href="#ci" x="454" y="226"/><use href="#ci" x="470" y="243"/><use href="#ci" x="472" y="245"/><use href="#ci" x="474" y="247"/><use href="#ci" x="476" y="250"/><use href="#ci" x="478" y="252"/><use href="#ci" x="481" y="255"/><use href="#ci" x="483" y="257"/><use href="#ci" x="485" y="259"/><use href="#ci" x="487" y="262"/><use href="#ci" x="489" y="264"/><use href="#ci" x="491" y="266"/><use href="#ci" x="494" y="269"/><use href="#ci" x="496" y="271"/><use href="#ci" x="498" y="273"/><use href="#ci" x="500" y="276"/><use href="#ci" x="502" y="278"/><use href="#ci" x="504" y="281"/><use href="#ci" x="507" y="283"/><use href="#ci" x="509" y="285"/><use href="#ci" x="511" y="288"/><use href="#ci" x="513" y="290"/><use href="#ci" x="515" y="292"/><use href="#ci" x="517" y="295"/><use href="#ci" x="520" y="297"/><use href="#ci" x="522" y="300"/><use href="#ci" x="534" y="313"/><use href="#ci" x="550" y="331"/><use href="#ci" x="566" y="348"/><use href="#ci" x="582" y="366"/><use href="#ci" x="598" y="383"/><use href="#ci" x="614" y="401"/><use href="#ci" x="630" y="418"/><use href="#ci" x="646" y="436"/><use href="#ci" x="662" y="453"/><use href="#ci" x="678" y="471"/><use href="#ci" x="695" y="489"/><use href="#ci" x="711" y="506"/><use href="#ci" x="727" y="524"/><use href="#ci" x="743" y="541"/><use href="#ci" x="759" y="559"/><use href="#ci" x="775" y="576"/><use href="#ci" x="791" y="594"/><use href="#ci" x="807" y="611"/><use href="#ci" x="823" y="629"/><use href="#ci" x="839" y="647"/><use href="#ci" x="855" y="664"/><use href="#ci" x="871" y="682"/><use href="#ci" x="886" y="699"/><use href="#ci" x="902" y="717"/><use href="#ci" x="918" y="735"/><use href="#ci" x="926" y="745"/><use href="#ci" x="928" y="748"/><use href="#ci" x="930" y="751"/><use href="#ci" x="932" y="754"/><use href="#ci" x="934" y="756"/><use href="#ci" x="936" y="758"/><use href="#ci" x="938" y="761"/><use href="#ci" x="940" y="763"/><use href="#ci" x="942" y="766"/><use href="#ci" x="944" y="768"/><use href="#ci" x="947" y="770"/><use href="#ci" x="949" y="773"/><use href="#ci" x="951" y="775"/><use href="#ci" x="953" y="778"/><use href="#ci" x="955" y="780"/><use href="#ci" x="958" y="782"/><use href="#ci" x="960" y="785"/><use href="#ci" x="962" y="787"/><use href="#ci" x="964" y="790"/><use href="#ci" x="967" y="792"/><use href="#ci" x="969" y="795"/><use href="#ci" x="971" y="797"/><use href="#ci" x="973" y="799"/><use href="#ci" x="976" y="802"/><use href="#ci" x="978" y="804"/><use href="#ci" x="980" y="807"/><use href="#ci" x="983" y="809"/><use href="#ci" x="985" y="811"/><use href="#ci" x="987" y="814"/><use href="#ci" x="989" y="816"/><use href="#ci" x="992" y="818"/><use href="#ci" x="994" y="821"/><use href="#ci" x="996" y="823"/><use href="#ci" x="998" y="825"/><use href="#ci" x="1000" y="828"/><use href="#ci" x="1003" y="830"/><use href="#ci" x="1005" y="832"/><use href="#ci" x="1007" y="835"/><use href="#ci" x="1009" y="837"/><use href="#ci" x="1012" y="840"/><use href="#ci" x="1014" y="842"/><use href="#ci" x="1016" y="844"/><use href="#ci" x="1018" y="847"/><use href="#ci" x="1021" y="849"/><use href="#ci" x="1023" y="851"/><use href="#ci" x="1025" y="854"/><use href="#ci" x="1028" y="856"/><use href="#ci" x="1030" y="858"/><use href="#ci" x="1032" y="861"/><use href="#ci" x="1035" y="863"/><use href="#ci" x="1037" y="865"/><use href="#ci" x="1039" y="868"/><use href="#ci" x="1042" y="870"/><use href="#ci" x="1044" y="872"/><use href="#ci" x="1046" y="875"/><use href="#ci" x="1049" y="877"/><use href="#ci" x="1051" y="879"/><use href="#ci" x="1053" y="882"/><use href="#ci" x="1056" y="884"/><use href="#ci" x="1058" y="887"/><use href="#ci" x="1060" y="889"/><use href="#ci" x="1062" y="892"/><use href="#ci" x="1065" y="894"/><use href="#ci" x="1067" y="897"/><use href="#ci" x="1068" y="900"/><use href="#ci" x="1070" y="902"/><use href="#ci" x="1072" y="905"/><use href="#ci" x="1074" y="908"/><use href="#ci" x="1076" y="911"/><use href="#ci" x="1078" y="913"/><use href="#ci" x="1079" y="916"/><use href="#ci" x="1081" y="919"/><use href="#ci" x="1082" y="922"/><use href="#ci" x="1084" y="925"/><use href="#ci" x="1085" y="928"/><use href="#ci" x="1086" y="931"/><use href="#ci" x="1087" y="934"/><use href="#ci" x="1089" y="937"/><use href="#ci" x="1090" y="940"/><use href="#ci" x="1091" y="943"/><use href="#ci" x="1092" y="946"/><use href="#ci" x="1093" y="949"/><use href="#ci" x="1094" y="952"/><use href="#ci" x="1095" y="955"/><use href="#ci" x="1095" y="959"/><use href="#ci" x="1096" y="962"/><use href="#ci" x="1097" y="965"/><use href="#ci" x="1098" y="968"/><use href="#ci" x="1099" y="972"/><use href="#ci" x="1099" y="975"/><use href="#ci" x="1100" y="978"/><use href="#ci" x="1101" y="981"/><use href="#ci" x="1101" y="984"/><use href="#ci" x="1102" y="988"/><use href="#ci" x="1103" y="991"/><use href="#ci" x="1103" y="994"/><use href="#ci" x="1104" y="997"/><use href="#ci" x="1105" y="1000"/><use href="#ci" x="1105" y="1004"/><use href="#ci" x="1106" y="1007"/><use href="#ci" x="1106" y="1010"/><use href="#ci" x="1107" y="1013"/><use href="#ci" x="1107" y="1017"/><use href="#ci" x="1108" y="1020"/><use href="#ci" x="1109" y="1023"/><use href="#ci" x="1109" y="1026"/><use href="#ci" x="1110" y="1030"/><use href="#ci" x="1110" y="1033"/><use href="#ci" x="1111" y="1036"/><use href="#ci" x="1112" y="1039"/><use href="#ci" x="1112" y="1042"/><use href="#ci" x="1113" y="1046"/><use href="#ci" x="1113" y="1049"/><use href="#ci" x="1114" y="1052"/><use href="#ci" x="1114" y="1055"/><use href="#ci" x="1115" y="1059"/><use href="#ci" x="1116" y="1062"/><use href="#ci" x="1116" y="1065"/><use href="#ci" x="1117" y="1068"/><use href="#ci" x="1117" y="1071"/><use href="#ci" x="1118" y="1074"/><use href="#ci" x="1118" y="1078"/><use href="#ci" x="1119" y="1081"/><use href="#ci" x="1119" y="1084"/><use href="#ci" x="1120" y="1087"/><use href="#ci" x="1120" y="1090"/><use href="#ci" x="1121" y="1094"/><use href="#ci" x="1122" y="1097"/><use href="#ci" x="1122" y="1100"/><use href="#ci" x="1123" y="1103"/><use href="#ci" x="1123" y="1106"/><use href="#ci" x="1124" y="1110"/><use href="#ci" x="1124" y="1113"/><use href="#ci" x="1125" y="1116"/><use href="#ci" x="1125" y="1119"/><use href="#ci" x="1126" y="1122"/><use href="#ci" x="1126" y="1126"/><use href="#ci" x="1127" y="1129"/><use href="#ci" x="1127" y="1132"/><use href="#ci" x="1128" y="1135"/><use href="#ci" x="1128" y="1138"/><use href="#ci" x="1129" y="1142"/><use href="#ci" x="1129" y="1145"/><use href="#ci" x="1130" y="1148"/><use href="#ci" x="1131" y="1151"/><use href="#ci" x="1131" y="1155"/><use href="#ci" x="1132" y="1158"/><use href="#ci" x="1132" y="1161"/><use href="#ci" x="1133" y="1164"/><use href="#ci" x="1193" y="1168"/><use href="#ci" x="1282" y="1170"/><use href="#ci" x="1398" y="1174"/><use href="#ci" x="1544" y="1185"/><use href="#ci" x="1581" y="1189"/><use href="#ci" x="1612" y="1194"/><use href="#ci" x="1637" y="1198"/><use href="#ci" x="1665" y="1204"/><use href="#ci" x="1702" y="1213"/><use href="#ci" x="1725" y="1220"/><use href="#ci" x="1758" y="1231"/><use href="#ci" x="1784" y="1242"/><use href="#ci" x="1818" y="1258"/><use href="#ci" x="1825" y="1262"/><use href="#ci" x="1825" y="1265"/><use href="#ci" x="1825" y="1268"/><use href="#ci" x="1826" y="1272"/><use href="#ci" x="1826" y="1275"/><use href="#ci" x="1826" y="1278"/><use href="#ci" x="1826" y="1281"/><use href="#ci" x="1827" y="1285"/><use href="#ci" x="1827" y="1288"/><use href="#ci" x="1827" y="1291"/><use href="#ci" x="1827" y="1294"/><use href="#ci" x="1828" y="1297"/><use href="#ci" x="1828" y="1301"/></g>
<path d="M438 208L447.3 250L458.2 306L465.4 348L475.6 414L488.2 506L508.5 680L515.9 738L523 784L538.4 866L544 900L548.4 936L558.7 1036L564.8 1076L574.4 1132L577.2 1156.4M577.2 1156.5L1010.2 1157.3L1142.5 1158.4L1246.7 1160L1338.9 1162.6L1415.1 1166L1483.2 1170.7L1543.4 1176.7L1579.4 1181.4L1611.5 1186.5L1643.6 1192.6L1671.7 1199L1699.7 1206.6L1723.8 1214.1L1747.8 1222.7L1771.9 1232.7L1799.9 1246.1L1828 1262L1831 1303" fill="none" stroke="#999999" stroke-width="1.8"/>
<g fill="#808080" stroke="#808080"><use href="#tu" x="438" y="208"/><use href="#tu" x="439" y="214"/><use href="#tu" x="441" y="220"/><use href="#tu" x="442" y="226"/><use href="#tu" x="446" y="243"/><use href="#tu" x="449" y="260"/><use href="#tu" x="453" y="278"/><use href="#tu" x="456" y="296"/><use href="#tu" x="460" y="313"/><use href="#tu" x="463" y="331"/><use href="#tu" x="465" y="348"/><use href="#tu" x="468" y="366"/><use href="#tu" x="471" y="383"/><use href="#tu" x="474" y="401"/><use href="#tu" x="476" y="418"/><use href="#tu" x="479" y="436"/><use href="#tu" x="481" y="454"/><use href="#tu" x="484" y="471"/><use href="#tu" x="486" y="489"/><use href="#tu" x="488" y="506"/><use href="#tu" x="490" y="524"/><use href="#tu" x="492" y="541"/><use href="#tu" x="494" y="559"/><use href="#tu" x="496" y="576"/><use href="#tu" x="498" y="594"/><use href="#tu" x="500" y="612"/><use href="#tu" x="503" y="629"/><use href="#tu" x="505" y="647"/><use href="#tu" x="507" y="664"/><use href="#tu" x="509" y="682"/><use href="#tu" x="511" y="699"/><use href="#tu" x="513" y="717"/><use href="#tu" x="515" y="734"/><use href="#tu" x="518" y="752"/><use href="#tu" x="521" y="770"/><use href="#tu" x="524" y="787"/><use href="#tu" x="527" y="805"/><use href="#tu" x="530" y="822"/><use href="#tu" x="534" y="840"/><use href="#tu" x="537" y="858"/><use href="#tu" x="540" y="875"/><use href="#tu" x="543" y="892"/><use href="#tu" x="545" y="910"/><use href="#tu" x="547" y="928"/><use href="#tu" x="549" y="945"/><use href="#tu" x="551" y="963"/><use href="#tu" x="553" y="980"/><use href="#tu" x="555" y="998"/><use href="#tu" x="556" y="1016"/><use href="#tu" x="558" y="1033"/><use href="#tu" x="561" y="1050"/><use href="#tu" x="563" y="1068"/><use href="#tu" x="566" y="1086"/><use href="#tu" x="569" y="1103"/><use href="#tu" x="572" y="1121"/><use href="#tu" x="575" y="1138"/><use href="#tu" x="577" y="1156"/><use href="#tu" x="795" y="1157"/><use href="#tu" x="1064" y="1158"/><use href="#tu" x="1269" y="1161"/><use href="#tu" x="1396" y="1165"/><use href="#tu" x="1501" y="1172"/><use href="#tu" x="1528" y="1175"/><use href="#tu" x="1554" y="1178"/><use href="#tu" x="1579" y="1181"/><use href="#tu" x="1615" y="1187"/><use href="#tu" x="1637" y="1191"/><use href="#tu" x="1676" y="1200"/><use href="#tu" x="1703" y="1208"/><use href="#tu" x="1734" y="1218"/><use href="#tu" x="1765" y="1230"/><use href="#tu" x="1798" y="1245"/><use href="#tu" x="1820" y="1257"/><use href="#tu" x="1828" y="1262"/><use href="#tu" x="1828" y="1265"/><use href="#tu" x="1828" y="1268"/><use href="#tu" x="1829" y="1272"/><use href="#tu" x="1829" y="1275"/><use href="#tu" x="1829" y="1278"/><use href="#tu" x="1829" y="1281"/><use href="#tu" x="1830" y="1285"/><use href="#tu" x="1830" y="1288"/><use href="#tu" x="1830" y="1291"/><use href="#tu" x="1830" y="1294"/><use href="#tu" x="1831" y="1297"/><use href="#tu" x="1831" y="1301"/></g>
<path d="M438 208L865 681L906.9 728.6L918.1 742.2L927.4 755.6L950.2 781.5L1010.3 846.6L1048.9 885.5L1060 899L1070.6 915.2L1076.1 926.6L1082.3 944.5L1087.2 961.9L1094 995.7L1122 1160M1122 1161.7L1222.1 1163L1306.3 1164.9L1378.4 1167.4L1442.5 1170.7L1498.5 1174.8L1550.6 1180.1L1598.7 1186.5L1642.7 1194.2L1670.8 1200.3L1694.8 1206.3L1718.8 1213.2L1738.9 1219.8L1762.9 1228.7L1782.9 1237.2L1803 1246.7L1823 1257.4L1831 1262L1834 1303" fill="none" stroke="#b07070" stroke-width="1.8"/>
<g fill="#a05050" stroke="#a05050"><use href="#td" x="438" y="208"/><use href="#td" x="442" y="212"/><use href="#td" x="446" y="217"/><use href="#td" x="450" y="221"/><use href="#td" x="454" y="226"/><use href="#td" x="469" y="243"/><use href="#td" x="472" y="245"/><use href="#td" x="474" y="248"/><use href="#td" x="476" y="250"/><use href="#td" x="478" y="252"/><use href="#td" x="480" y="255"/><use href="#td" x="482" y="257"/><use href="#td" x="485" y="260"/><use href="#td" x="487" y="262"/><use href="#td" x="489" y="264"/><use href="#td" x="491" y="267"/><use href="#td" x="493" y="269"/><use href="#td" x="495" y="271"/><use href="#td" x="498" y="274"/><use href="#td" x="500" y="276"/><use href="#td" x="502" y="279"/><use href="#td" x="504" y="281"/><use href="#td" x="506" y="283"/><use href="#td" x="508" y="286"/><use href="#td" x="510" y="288"/><use href="#td" x="513" y="291"/><use href="#td" x="515" y="293"/><use href="#td" x="517" y="295"/><use href="#td" x="519" y="298"/><use href="#td" x="533" y="313"/><use href="#td" x="549" y="331"/><use href="#td" x="565" y="348"/><use href="#td" x="581" y="366"/><use href="#td" x="597" y="383"/><use href="#td" x="612" y="401"/><use href="#td" x="628" y="418"/><use href="#td" x="644" y="436"/><use href="#td" x="660" y="454"/><use href="#td" x="676" y="471"/><use href="#td" x="692" y="489"/><use href="#td" x="708" y="506"/><use href="#td" x="723" y="524"/><use href="#td" x="739" y="541"/><use href="#td" x="755" y="559"/><use href="#td" x="771" y="576"/><use href="#td" x="787" y="594"/><use href="#td" x="802" y="611"/><use href="#td" x="818" y="629"/><use href="#td" x="834" y="647"/><use href="#td" x="850" y="664"/><use href="#td" x="866" y="682"/><use href="#td" x="881" y="699"/><use href="#td" x="897" y="717"/><use href="#td" x="912" y="735"/><use href="#td" x="920" y="745"/><use href="#td" x="922" y="748"/><use href="#td" x="924" y="751"/><use href="#td" x="926" y="754"/><use href="#td" x="928" y="756"/><use href="#td" x="930" y="758"/><use href="#td" x="932" y="761"/><use href="#td" x="934" y="763"/><use href="#td" x="936" y="766"/><use href="#td" x="938" y="768"/><use href="#td" x="941" y="771"/><use href="#td" x="943" y="773"/><use href="#td" x="945" y="776"/><use href="#td" x="947" y="778"/><use href="#td" x="949" y="781"/><use href="#td" x="952" y="783"/><use href="#td" x="954" y="785"/><use href="#td" x="956" y="788"/><use href="#td" x="958" y="790"/><use href="#td" x="960" y="793"/><use href="#td" x="963" y="795"/><use href="#td" x="965" y="798"/><use href="#td" x="967" y="800"/><use href="#td" x="969" y="802"/><use href="#td" x="971" y="805"/><use href="#td" x="974" y="807"/><use href="#td" x="976" y="810"/><use href="#td" x="978" y="812"/><use href="#td" x="980" y="814"/><use href="#td" x="983" y="817"/><use href="#td" x="985" y="819"/><use href="#td" x="987" y="822"/><use href="#td" x="989" y="824"/><use href="#td" x="992" y="827"/><use href="#td" x="994" y="829"/><use href="#td" x="996" y="831"/><use href="#td" x="998" y="834"/><use href="#td" x="1000" y="836"/><use href="#td" x="1003" y="838"/><use href="#td" x="1005" y="841"/><use href="#td" x="1007" y="843"/><use href="#td" x="1009" y="845"/><use href="#td" x="1011" y="848"/><use href="#td" x="1014" y="850"/><use href="#td" x="1016" y="853"/><use href="#td" x="1018" y="855"/><use href="#td" x="1021" y="857"/><use href="#td" x="1023" y="860"/><use href="#td" x="1026" y="862"/><use href="#td" x="1028" y="864"/><use href="#td" x="1030" y="867"/><use href="#td" x="1033" y="869"/><use href="#td" x="1035" y="871"/><use href="#td" x="1037" y="874"/><use href="#td" x="1040" y="876"/><use href="#td" x="1042" y="878"/><use href="#td" x="1044" y="881"/><use href="#td" x="1047" y="883"/><use href="#td" x="1049" y="886"/><use href="#td" x="1051" y="888"/><use href="#td" x="1053" y="891"/><use href="#td" x="1055" y="893"/><use href="#td" x="1058" y="896"/><use href="#td" x="1060" y="898"/><use href="#td" x="1061" y="901"/><use href="#td" x="1063" y="904"/><use href="#td" x="1065" y="906"/><use href="#td" x="1067" y="909"/><use href="#td" x="1069" y="912"/><use href="#td" x="1070" y="915"/><use href="#td" x="1072" y="918"/><use href="#td" x="1073" y="921"/><use href="#td" x="1075" y="924"/><use href="#td" x="1076" y="927"/><use href="#td" x="1077" y="930"/><use href="#td" x="1079" y="933"/><use href="#td" x="1080" y="936"/><use href="#td" x="1081" y="939"/><use href="#td" x="1082" y="942"/><use href="#td" x="1083" y="945"/><use href="#td" x="1084" y="948"/><use href="#td" x="1084" y="952"/><use href="#td" x="1085" y="955"/><use href="#td" x="1086" y="958"/><use href="#td" x="1087" y="961"/><use href="#td" x="1088" y="964"/><use href="#td" x="1088" y="967"/><use href="#td" x="1089" y="971"/><use href="#td" x="1090" y="974"/><use href="#td" x="1091" y="977"/><use href="#td" x="1091" y="980"/><use href="#td" x="1092" y="983"/><use href="#td" x="1092" y="987"/><use href="#td" x="1093" y="990"/><use href="#td" x="1094" y="993"/><use href="#td" x="1094" y="996"/><use href="#td" x="1095" y="1000"/><use href="#td" x="1095" y="1003"/><use href="#td" x="1096" y="1006"/><use href="#td" x="1096" y="1009"/><use href="#td" x="1097" y="1013"/><use href="#td" x="1097" y="1016"/><use href="#td" x="1098" y="1019"/><use href="#td" x="1099" y="1022"/><use href="#td" x="1099" y="1025"/><use href="#td" x="1100" y="1029"/><use href="#td" x="1100" y="1032"/><use href="#td" x="1101" y="1035"/><use href="#td" x="1101" y="1038"/><use href="#td" x="1102" y="1042"/><use href="#td" x="1103" y="1045"/><use href="#td" x="1103" y="1048"/><use href="#td" x="1104" y="1051"/><use href="#td" x="1104" y="1055"/><use href="#td" x="1105" y="1058"/><use href="#td" x="1105" y="1061"/><use href="#td" x="1106" y="1064"/><use href="#td" x="1107" y="1068"/><use href="#td" x="1107" y="1071"/><use href="#td" x="1108" y="1074"/><use href="#td" x="1108" y="1077"/><use href="#td" x="1109" y="1080"/><use href="#td" x="1109" y="1084"/><use href="#td" x="1110" y="1087"/><use href="#td" x="1110" y="1090"/><use href="#td" x="1111" y="1093"/><use href="#td" x="1111" y="1097"/><use href="#td" x="1112" y="1100"/><use href="#td" x="1112" y="1103"/><use href="#td" x="1113" y="1106"/><use href="#td" x="1114" y="1109"/><use href="#td" x="1114" y="1113"/><use href="#td" x="1115" y="1116"/><use href="#td" x="1115" y="1119"/><use href="#td" x="1116" y="1122"/><use href="#td" x="1116" y="1126"/><use href="#td" x="1117" y="1129"/><use href="#td" x="1117" y="1132"/><use href="#td" x="1118" y="1135"/><use href="#td" x="1118" y="1138"/><use href="#td" x="1119" y="1142"/><use href="#td" x="1119" y="1145"/><use href="#td" x="1120" y="1148"/><use href="#td" x="1121" y="1151"/><use href="#td" x="1121" y="1155"/><use href="#td" x="1122" y="1158"/><use href="#td" x="1210" y="1163"/><use href="#td" x="1291" y="1164"/><use href="#td" x="1418" y="1169"/><use href="#td" x="1502" y="1175"/><use href="#td" x="1526" y="1177"/><use href="#td" x="1553" y="1180"/><use href="#td" x="1587" y="1185"/><use href="#td" x="1611" y="1188"/><use href="#td" x="1633" y="1192"/><use href="#td" x="1657" y="1197"/><use href="#td" x="1682" y="1203"/><use href="#td" x="1713" y="1212"/><use href="#td" x="1752" y="1224"/><use href="#td" x="1776" y="1234"/><use href="#td" x="1809" y="1250"/><use href="#td" x="1831" y="1262"/><use href="#td" x="1831" y="1265"/><use href="#td" x="1831" y="1268"/><use href="#td" x="1832" y="1272"/><use href="#td" x="1832" y="1275"/><use href="#td" x="1832" y="1278"/><use href="#td" x="1832" y="1281"/><use href="#td" x="1833" y="1285"/><use href="#td" x="1833" y="1288"/><use href="#td" x="1833" y="1291"/><use href="#td" x="1833" y="1294"/><use href="#td" x="1834" y="1297"/><use href="#td" x="1834" y="1301"/></g>
<path d="M438 208L448.1 254L457.8 306L466.2 356L476.8 426L487.7 506L507.7 680L514.9 738L521.9 784L537.2 866L542.6 900L547 936L557.1 1036L563.1 1076L572.9 1132L574.8 1147.7M574.8 1147.8L1011.9 1148.7L1144.2 1149.8L1248.5 1151.5L1340.7 1154.2L1416.9 1157.9L1485.1 1162.8L1545.3 1169.1L1577.3 1173.5L1609.4 1178.8L1641.5 1185.1L1669.6 1191.7L1697.6 1199.5L1721.7 1207.3L1745.8 1216.2L1769.8 1226.5L1801.9 1242.6L1818 1251.8L1834 1262L1837 1303" fill="none" stroke="#50a070" stroke-width="1.8"/>
<g fill="#409060" stroke="#409060"><use href="#di" x="438" y="208"/><use href="#di" x="439" y="214"/><use href="#di" x="441" y="220"/><use href="#di" x="442" y="226"/><use href="#di" x="446" y="243"/><use href="#di" x="449" y="260"/><use href="#di" x="453" y="278"/><use href="#di" x="456" y="296"/><use href="#di" x="459" y="313"/><use href="#di" x="462" y="331"/><use href="#di" x="465" y="348"/><use href="#di" x="468" y="366"/><use href="#di" x="470" y="383"/><use href="#di" x="473" y="401"/><use href="#di" x="476" y="418"/><use href="#di" x="478" y="436"/><use href="#di" x="481" y="454"/><use href="#di" x="483" y="471"/><use href="#di" x="486" y="489"/><use href="#di" x="488" y="506"/><use href="#di" x="490" y="524"/><use href="#di" x="492" y="541"/><use href="#di" x="494" y="559"/><use href="#di" x="496" y="576"/><use href="#di" x="498" y="594"/><use href="#di" x="500" y="612"/><use href="#di" x="502" y="629"/><use href="#di" x="504" y="647"/><use href="#di" x="506" y="664"/><use href="#di" x="508" y="682"/><use href="#di" x="510" y="699"/><use href="#di" x="512" y="717"/><use href="#di" x="514" y="734"/><use href="#di" x="517" y="752"/><use href="#di" x="520" y="770"/><use href="#di" x="522" y="787"/><use href="#di" x="526" y="805"/><use href="#di" x="529" y="822"/><use href="#di" x="532" y="840"/><use href="#di" x="536" y="858"/><use href="#di" x="539" y="875"/><use href="#di" x="542" y="892"/><use href="#di" x="544" y="910"/><use href="#di" x="546" y="928"/><use href="#di" x="548" y="945"/><use href="#di" x="550" y="963"/><use href="#di" x="551" y="980"/><use href="#di" x="553" y="998"/><use href="#di" x="555" y="1016"/><use href="#di" x="557" y="1033"/><use href="#di" x="559" y="1050"/><use href="#di" x="562" y="1068"/><use href="#di" x="565" y="1086"/><use href="#di" x="568" y="1103"/><use href="#di" x="571" y="1121"/><use href="#di" x="574" y="1138"/><use href="#di" x="1217" y="1151"/><use href="#di" x="1345" y="1154"/><use href="#di" x="1471" y="1162"/><use href="#di" x="1494" y="1164"/><use href="#di" x="1526" y="1167"/><use href="#di" x="1552" y="1170"/><use href="#di" x="1588" y="1175"/><use href="#di" x="1627" y="1182"/><use href="#di" x="1663" y="1190"/><use href="#di" x="1688" y="1197"/><use href="#di" x="1718" y="1206"/><use href="#di" x="1744" y="1216"/><use href="#di" x="1772" y="1228"/><use href="#di" x="1799" y="1241"/><use href="#di" x="1834" y="1262"/><use href="#di" x="1834" y="1265"/><use href="#di" x="1834" y="1268"/><use href="#di" x="1835" y="1272"/><use href="#di" x="1835" y="1275"/><use href="#di" x="1835" y="1278"/><use href="#di" x="1835" y="1281"/><use href="#di" x="1836" y="1285"/><use href="#di" x="1836" y="1288"/><use href="#di" x="1836" y="1291"/><use href="#di" x="1836" y="1294"/><use href="#di" x="1837" y="1297"/><use href="#di" x="1837" y="1301"/></g>
<path d="M438 208L730.9 534.9L861 681L902.3 728.6L913.2 742.2L919 752.2L921.5 755.6L956 795.4L1002.2 846.6L1040.9 885.5L1052 899L1060.2 911.4L1065.9 922.8L1071.9 939.6L1078 962L1083.2 989.1L1110 1150M1110 1151.7L1214.4 1153L1298.8 1154.9L1375.1 1157.7L1439.4 1161.2L1495.6 1165.5L1547.8 1170.9L1596 1177.7L1640.2 1185.8L1668.3 1192.1L1692.4 1198.4L1716.5 1205.7L1736.6 1212.6L1760.7 1221.9L1780.8 1230.8L1800.9 1240.8L1820.9 1252L1837 1262L1840 1303" fill="none" stroke="#40c0e0" stroke-width="1.8"/>
<g fill="#20a8d0" stroke="#20a8d0"><use href="#tl" x="438" y="208"/><use href="#tl" x="442" y="213"/><use href="#tl" x="446" y="217"/><use href="#tl" x="450" y="222"/><use href="#tl" x="469" y="243"/><use href="#tl" x="471" y="245"/><use href="#tl" x="473" y="248"/><use href="#tl" x="476" y="250"/><use href="#tl" x="478" y="252"/><use href="#tl" x="480" y="255"/><use href="#tl" x="482" y="257"/><use href="#tl" x="484" y="260"/><use href="#tl" x="486" y="262"/><use href="#tl" x="488" y="264"/><use href="#tl" x="491" y="267"/><use href="#tl" x="493" y="269"/><use href="#tl" x="495" y="271"/><use href="#tl" x="497" y="274"/><use href="#tl" x="499" y="276"/><use href="#tl" x="501" y="279"/><use href="#tl" x="503" y="281"/><use href="#tl" x="506" y="283"/><use href="#tl" x="508" y="286"/><use href="#tl" x="510" y="288"/><use href="#tl" x="512" y="291"/><use href="#tl" x="514" y="293"/><use href="#tl" x="516" y="295"/><use href="#tl" x="518" y="298"/><use href="#tl" x="532" y="313"/><use href="#tl" x="548" y="331"/><use href="#tl" x="564" y="348"/><use href="#tl" x="579" y="366"/><use href="#tl" x="595" y="383"/><use href="#tl" x="611" y="401"/><use href="#tl" x="626" y="418"/><use href="#tl" x="642" y="436"/><use href="#tl" x="658" y="454"/><use href="#tl" x="674" y="471"/><use href="#tl" x="690" y="489"/><use href="#tl" x="705" y="506"/><use href="#tl" x="721" y="524"/><use href="#tl" x="736" y="541"/><use href="#tl" x="752" y="559"/><use href="#tl" x="768" y="576"/><use href="#tl" x="784" y="594"/><use href="#tl" x="799" y="612"/><use href="#tl" x="815" y="629"/><use href="#tl" x="831" y="647"/><use href="#tl" x="846" y="664"/><use href="#tl" x="862" y="682"/><use href="#tl" x="877" y="699"/><use href="#tl" x="892" y="717"/><use href="#tl" x="907" y="735"/><use href="#tl" x="915" y="745"/><use href="#tl" x="917" y="748"/><use href="#tl" x="918" y="751"/><use href="#tl" x="920" y="754"/><use href="#tl" x="922" y="756"/><use href="#tl" x="924" y="759"/><use href="#tl" x="926" y="761"/><use href="#tl" x="928" y="764"/><use href="#tl" x="930" y="766"/><use href="#tl" x="933" y="769"/><use href="#tl" x="935" y="771"/><use href="#tl" x="937" y="774"/><use href="#tl" x="939" y="776"/><use href="#tl" x="941" y="779"/><use href="#tl" x="943" y="781"/><use href="#tl" x="946" y="784"/><use href="#tl" x="948" y="786"/><use href="#tl" x="950" y="788"/><use href="#tl" x="952" y="791"/><use href="#tl" x="954" y="793"/><use href="#tl" x="956" y="796"/><use href="#tl" x="958" y="798"/><use href="#tl" x="961" y="801"/><use href="#tl" x="963" y="803"/><use href="#tl" x="965" y="805"/><use href="#tl" x="967" y="808"/><use href="#tl" x="969" y="810"/><use href="#tl" x="972" y="813"/><use href="#tl" x="974" y="815"/><use href="#tl" x="976" y="818"/><use href="#tl" x="978" y="820"/><use href="#tl" x="980" y="823"/><use href="#tl" x="982" y="825"/><use href="#tl" x="985" y="827"/><use href="#tl" x="987" y="830"/><use href="#tl" x="989" y="832"/><use href="#tl" x="991" y="835"/><use href="#tl" x="994" y="837"/><use href="#tl" x="996" y="840"/><use href="#tl" x="998" y="842"/><use href="#tl" x="1000" y="845"/><use href="#tl" x="1003" y="847"/><use href="#tl" x="1005" y="849"/><use href="#tl" x="1007" y="852"/><use href="#tl" x="1009" y="854"/><use href="#tl" x="1012" y="856"/><use href="#tl" x="1014" y="859"/><use href="#tl" x="1017" y="861"/><use href="#tl" x="1019" y="863"/><use href="#tl" x="1021" y="866"/><use href="#tl" x="1024" y="868"/><use href="#tl" x="1026" y="870"/><use href="#tl" x="1028" y="873"/><use href="#tl" x="1031" y="875"/><use href="#tl" x="1033" y="877"/><use href="#tl" x="1035" y="880"/><use href="#tl" x="1038" y="882"/><use href="#tl" x="1040" y="885"/><use href="#tl" x="1042" y="887"/><use href="#tl" x="1044" y="889"/><use href="#tl" x="1046" y="892"/><use href="#tl" x="1049" y="894"/><use href="#tl" x="1051" y="897"/><use href="#tl" x="1052" y="900"/><use href="#tl" x="1054" y="902"/><use href="#tl" x="1056" y="905"/><use href="#tl" x="1058" y="908"/><use href="#tl" x="1060" y="911"/><use href="#tl" x="1061" y="913"/><use href="#tl" x="1063" y="916"/><use href="#tl" x="1064" y="919"/><use href="#tl" x="1066" y="922"/><use href="#tl" x="1067" y="925"/><use href="#tl" x="1068" y="928"/><use href="#tl" x="1069" y="931"/><use href="#tl" x="1070" y="935"/><use href="#tl" x="1071" y="938"/><use href="#tl" x="1072" y="941"/><use href="#tl" x="1073" y="944"/><use href="#tl" x="1074" y="947"/><use href="#tl" x="1075" y="950"/><use href="#tl" x="1076" y="953"/><use href="#tl" x="1077" y="956"/><use href="#tl" x="1077" y="960"/><use href="#tl" x="1078" y="963"/><use href="#tl" x="1079" y="966"/><use href="#tl" x="1080" y="969"/><use href="#tl" x="1080" y="973"/><use href="#tl" x="1081" y="976"/><use href="#tl" x="1081" y="979"/><use href="#tl" x="1082" y="982"/><use href="#tl" x="1083" y="985"/><use href="#tl" x="1083" y="989"/><use href="#tl" x="1084" y="992"/><use href="#tl" x="1084" y="995"/><use href="#tl" x="1085" y="998"/><use href="#tl" x="1085" y="1002"/><use href="#tl" x="1086" y="1005"/><use href="#tl" x="1086" y="1008"/><use href="#tl" x="1087" y="1011"/><use href="#tl" x="1087" y="1014"/><use href="#tl" x="1088" y="1018"/><use href="#tl" x="1088" y="1021"/><use href="#tl" x="1089" y="1024"/><use href="#tl" x="1090" y="1027"/><use href="#tl" x="1090" y="1031"/><use href="#tl" x="1091" y="1034"/><use href="#tl" x="1091" y="1037"/><use href="#tl" x="1092" y="1040"/><use href="#tl" x="1092" y="1044"/><use href="#tl" x="1093" y="1047"/><use href="#tl" x="1093" y="1050"/><use href="#tl" x="1094" y="1053"/><use href="#tl" x="1095" y="1057"/><use href="#tl" x="1095" y="1060"/><use href="#tl" x="1096" y="1063"/><use href="#tl" x="1096" y="1066"/><use href="#tl" x="1097" y="1070"/><use href="#tl" x="1097" y="1073"/><use href="#tl" x="1098" y="1076"/><use href="#tl" x="1098" y="1079"/><use href="#tl" x="1099" y="1083"/><use href="#tl" x="1099" y="1086"/><use href="#tl" x="1100" y="1089"/><use href="#tl" x="1100" y="1092"/><use href="#tl" x="1101" y="1095"/><use href="#tl" x="1102" y="1098"/><use href="#tl" x="1102" y="1102"/><use href="#tl" x="1103" y="1105"/><use href="#tl" x="1103" y="1108"/><use href="#tl" x="1104" y="1111"/><use href="#tl" x="1104" y="1114"/><use href="#tl" x="1105" y="1118"/><use href="#tl" x="1105" y="1121"/><use href="#tl" x="1106" y="1124"/><use href="#tl" x="1106" y="1128"/><use href="#tl" x="1107" y="1131"/><use href="#tl" x="1107" y="1134"/><use href="#tl" x="1108" y="1137"/><use href="#tl" x="1108" y="1140"/><use href="#tl" x="1109" y="1144"/><use href="#tl" x="1109" y="1147"/><use href="#tl" x="1110" y="1150"/><use href="#tl" x="1233" y="1153"/><use href="#tl" x="1388" y="1158"/><use href="#tl" x="1478" y="1164"/><use href="#tl" x="1514" y="1167"/><use href="#tl" x="1546" y="1171"/><use href="#tl" x="1585" y="1176"/><use href="#tl" x="1615" y="1181"/><use href="#tl" x="1640" y="1186"/><use href="#tl" x="1664" y="1191"/><use href="#tl" x="1703" y="1201"/><use href="#tl" x="1732" y="1211"/><use href="#tl" x="1756" y="1220"/><use href="#tl" x="1784" y="1232"/><use href="#tl" x="1807" y="1244"/><use href="#tl" x="1837" y="1262"/><use href="#tl" x="1837" y="1265"/><use href="#tl" x="1837" y="1268"/><use href="#tl" x="1838" y="1272"/><use href="#tl" x="1838" y="1275"/><use href="#tl" x="1838" y="1278"/><use href="#tl" x="1838" y="1281"/><use href="#tl" x="1839" y="1285"/><use href="#tl" x="1839" y="1288"/><use href="#tl" x="1839" y="1291"/><use href="#tl" x="1839" y="1294"/><use href="#tl" x="1840" y="1297"/><use href="#tl" x="1840" y="1301"/></g>
<path d="M438 208L447.2 250L456.4 300L465.6 356L477.8 436L487.5 508L506.8 680L513.8 738L520.8 784L535.9 866L541.3 900L545.6 936L552.2 1006L555.8 1038L559.9 1066L571.1 1130L572.3 1139.1M572.3 1139.2L1009.6 1140.1L1142 1141.2L1246.3 1143L1338.5 1145.8L1418.8 1149.8L1487 1155L1547.1 1161.6L1579.2 1166.2L1611.3 1171.7L1643.4 1178.4L1671.5 1185.4L1699.6 1193.5L1723.7 1201.7L1747.7 1211.1L1771.8 1221.8L1791.9 1232.1L1807.9 1241.1L1824 1251.1L1840 1262L1843 1303" fill="none" stroke="#3070a0" stroke-width="1.8"/>
<g fill="#205f90" stroke="#205f90"><use href="#tr" x="438" y="208"/><use href="#tr" x="439" y="214"/><use href="#tr" x="441" y="220"/><use href="#tr" x="442" y="226"/><use href="#tr" x="446" y="243"/><use href="#tr" x="449" y="260"/><use href="#tr" x="452" y="278"/><use href="#tr" x="456" y="296"/><use href="#tr" x="459" y="313"/><use href="#tr" x="462" y="331"/><use href="#tr" x="464" y="348"/><use href="#tr" x="467" y="366"/><use href="#tr" x="470" y="383"/><use href="#tr" x="473" y="401"/><use href="#tr" x="475" y="418"/><use href="#tr" x="478" y="436"/><use href="#tr" x="480" y="454"/><use href="#tr" x="483" y="471"/><use href="#tr" x="485" y="489"/><use href="#tr" x="487" y="506"/><use href="#tr" x="489" y="524"/><use href="#tr" x="491" y="541"/><use href="#tr" x="493" y="559"/><use href="#tr" x="495" y="576"/><use href="#tr" x="497" y="594"/><use href="#tr" x="499" y="612"/><use href="#tr" x="501" y="629"/><use href="#tr" x="503" y="647"/><use href="#tr" x="505" y="664"/><use href="#tr" x="507" y="682"/><use href="#tr" x="509" y="699"/><use href="#tr" x="511" y="717"/><use href="#tr" x="513" y="734"/><use href="#tr" x="516" y="752"/><use href="#tr" x="518" y="770"/><use href="#tr" x="521" y="787"/><use href="#tr" x="525" y="805"/><use href="#tr" x="528" y="822"/><use href="#tr" x="531" y="840"/><use href="#tr" x="534" y="858"/><use href="#tr" x="537" y="875"/><use href="#tr" x="540" y="892"/><use href="#tr" x="543" y="910"/><use href="#tr" x="545" y="928"/><use href="#tr" x="547" y="945"/><use href="#tr" x="548" y="963"/><use href="#tr" x="550" y="980"/><use href="#tr" x="551" y="998"/><use href="#tr" x="553" y="1016"/><use href="#tr" x="555" y="1033"/><use href="#tr" x="557" y="1050"/><use href="#tr" x="560" y="1068"/><use href="#tr" x="563" y="1086"/><use href="#tr" x="566" y="1103"/><use href="#tr" x="570" y="1121"/><use href="#tr" x="572" y="1139"/><use href="#tr" x="991" y="1140"/><use href="#tr" x="1170" y="1142"/><use href="#tr" x="1297" y="1144"/><use href="#tr" x="1388" y="1148"/><use href="#tr" x="1506" y="1157"/><use href="#tr" x="1534" y="1160"/><use href="#tr" x="1569" y="1165"/><use href="#tr" x="1594" y="1169"/><use href="#tr" x="1633" y="1176"/><use href="#tr" x="1656" y="1181"/><use href="#tr" x="1679" y="1188"/><use href="#tr" x="1714" y="1198"/><use href="#tr" x="1753" y="1213"/><use href="#tr" x="1791" y="1231"/><use href="#tr" x="1828" y="1253"/><use href="#tr" x="1840" y="1262"/><use href="#tr" x="1840" y="1265"/><use href="#tr" x="1840" y="1268"/><use href="#tr" x="1841" y="1272"/><use href="#tr" x="1841" y="1275"/><use href="#tr" x="1841" y="1278"/><use href="#tr" x="1841" y="1281"/><use href="#tr" x="1842" y="1285"/><use href="#tr" x="1842" y="1288"/><use href="#tr" x="1842" y="1291"/><use href="#tr" x="1842" y="1294"/><use href="#tr" x="1843" y="1297"/><use href="#tr" x="1843" y="1301"/></g>
<path d="M438 208L853 681L900.4 736.8L907.1 745.6L911 752.2L918 761L965 816L992.1 846.6L1030.1 885.5L1041 899L1048.9 911.4L1054.3 922.8L1060 939.6L1066.1 962.1L1071.7 989.7L1099 1140.5M1099 1142.1L1207 1143.5L1295 1145.6L1371 1148.4L1435 1151.9L1495 1156.6L1547 1162.3L1595 1169.3L1639 1177.7L1667 1184.3L1691 1190.8L1715 1198.3L1735 1205.4L1755 1213.4L1775 1222.4L1795 1232.5L1815 1243.8L1843 1262L1846 1303" fill="none" stroke="#222222" stroke-width="1.8"/>
<g fill="#000000" stroke="#000000"><use href="#ci" x="438" y="208"/><use href="#ci" x="442" y="213"/><use href="#ci" x="446" y="217"/><use href="#ci" x="450" y="222"/><use href="#ci" x="468" y="243"/><use href="#ci" x="471" y="245"/><use href="#ci" x="473" y="247"/><use href="#ci" x="475" y="250"/><use href="#ci" x="477" y="252"/><use href="#ci" x="479" y="255"/><use href="#ci" x="481" y="257"/><use href="#ci" x="483" y="259"/><use href="#ci" x="485" y="262"/><use href="#ci" x="487" y="264"/><use href="#ci" x="490" y="267"/><use href="#ci" x="492" y="269"/><use href="#ci" x="494" y="272"/><use href="#ci" x="496" y="274"/><use href="#ci" x="498" y="276"/><use href="#ci" x="500" y="279"/><use href="#ci" x="502" y="281"/><use href="#ci" x="504" y="284"/><use href="#ci" x="506" y="286"/><use href="#ci" x="509" y="288"/><use href="#ci" x="511" y="291"/><use href="#ci" x="513" y="293"/><use href="#ci" x="515" y="296"/><use href="#ci" x="517" y="298"/><use href="#ci" x="530" y="313"/><use href="#ci" x="546" y="330"/><use href="#ci" x="561" y="348"/><use href="#ci" x="577" y="366"/><use href="#ci" x="592" y="383"/><use href="#ci" x="607" y="401"/><use href="#ci" x="623" y="418"/><use href="#ci" x="638" y="436"/><use href="#ci" x="654" y="453"/><use href="#ci" x="669" y="471"/><use href="#ci" x="685" y="489"/><use href="#ci" x="700" y="506"/><use href="#ci" x="715" y="524"/><use href="#ci" x="731" y="541"/><use href="#ci" x="746" y="559"/><use href="#ci" x="761" y="576"/><use href="#ci" x="777" y="594"/><use href="#ci" x="792" y="612"/><use href="#ci" x="808" y="629"/><use href="#ci" x="823" y="647"/><use href="#ci" x="838" y="664"/><use href="#ci" x="854" y="682"/><use href="#ci" x="869" y="699"/><use href="#ci" x="884" y="717"/><use href="#ci" x="899" y="735"/><use href="#ci" x="907" y="745"/><use href="#ci" x="909" y="748"/><use href="#ci" x="910" y="751"/><use href="#ci" x="912" y="754"/><use href="#ci" x="914" y="756"/><use href="#ci" x="916" y="759"/><use href="#ci" x="918" y="761"/><use href="#ci" x="920" y="764"/><use href="#ci" x="923" y="766"/><use href="#ci" x="925" y="769"/><use href="#ci" x="927" y="771"/><use href="#ci" x="929" y="774"/><use href="#ci" x="931" y="776"/><use href="#ci" x="933" y="779"/><use href="#ci" x="935" y="782"/><use href="#ci" x="937" y="784"/><use href="#ci" x="940" y="787"/><use href="#ci" x="942" y="789"/><use href="#ci" x="944" y="792"/><use href="#ci" x="946" y="794"/><use href="#ci" x="948" y="797"/><use href="#ci" x="950" y="799"/><use href="#ci" x="953" y="802"/><use href="#ci" x="955" y="804"/><use href="#ci" x="957" y="807"/><use href="#ci" x="959" y="809"/><use href="#ci" x="961" y="812"/><use href="#ci" x="963" y="814"/><use href="#ci" x="966" y="817"/><use href="#ci" x="968" y="819"/><use href="#ci" x="970" y="822"/><use href="#ci" x="972" y="824"/><use href="#ci" x="974" y="827"/><use href="#ci" x="976" y="829"/><use href="#ci" x="978" y="831"/><use href="#ci" x="981" y="834"/><use href="#ci" x="983" y="836"/><use href="#ci" x="985" y="839"/><use href="#ci" x="987" y="841"/><use href="#ci" x="989" y="844"/><use href="#ci" x="992" y="846"/><use href="#ci" x="994" y="848"/><use href="#ci" x="996" y="851"/><use href="#ci" x="998" y="853"/><use href="#ci" x="1001" y="855"/><use href="#ci" x="1003" y="858"/><use href="#ci" x="1005" y="860"/><use href="#ci" x="1008" y="863"/><use href="#ci" x="1010" y="865"/><use href="#ci" x="1012" y="867"/><use href="#ci" x="1015" y="869"/><use href="#ci" x="1017" y="872"/><use href="#ci" x="1019" y="874"/><use href="#ci" x="1022" y="876"/><use href="#ci" x="1024" y="879"/><use href="#ci" x="1026" y="881"/><use href="#ci" x="1028" y="884"/><use href="#ci" x="1031" y="886"/><use href="#ci" x="1033" y="889"/><use href="#ci" x="1035" y="891"/><use href="#ci" x="1037" y="894"/><use href="#ci" x="1039" y="896"/><use href="#ci" x="1041" y="899"/><use href="#ci" x="1043" y="902"/><use href="#ci" x="1045" y="904"/><use href="#ci" x="1046" y="907"/><use href="#ci" x="1048" y="910"/><use href="#ci" x="1050" y="913"/><use href="#ci" x="1051" y="916"/><use href="#ci" x="1053" y="919"/><use href="#ci" x="1054" y="922"/><use href="#ci" x="1055" y="925"/><use href="#ci" x="1056" y="928"/><use href="#ci" x="1057" y="931"/><use href="#ci" x="1058" y="935"/><use href="#ci" x="1059" y="938"/><use href="#ci" x="1060" y="941"/><use href="#ci" x="1061" y="944"/><use href="#ci" x="1062" y="947"/><use href="#ci" x="1063" y="950"/><use href="#ci" x="1064" y="953"/><use href="#ci" x="1065" y="956"/><use href="#ci" x="1065" y="960"/><use href="#ci" x="1066" y="963"/><use href="#ci" x="1067" y="966"/><use href="#ci" x="1068" y="969"/><use href="#ci" x="1068" y="973"/><use href="#ci" x="1069" y="976"/><use href="#ci" x="1070" y="979"/><use href="#ci" x="1070" y="982"/><use href="#ci" x="1071" y="986"/><use href="#ci" x="1072" y="989"/><use href="#ci" x="1072" y="992"/><use href="#ci" x="1073" y="995"/><use href="#ci" x="1073" y="999"/><use href="#ci" x="1074" y="1002"/><use href="#ci" x="1074" y="1005"/><use href="#ci" x="1075" y="1008"/><use href="#ci" x="1076" y="1012"/><use href="#ci" x="1076" y="1015"/><use href="#ci" x="1077" y="1018"/><use href="#ci" x="1077" y="1021"/><use href="#ci" x="1078" y="1025"/><use href="#ci" x="1078" y="1028"/><use href="#ci" x="1079" y="1031"/><use href="#ci" x="1080" y="1034"/><use href="#ci" x="1080" y="1037"/><use href="#ci" x="1081" y="1040"/><use href="#ci" x="1081" y="1044"/><use href="#ci" x="1082" y="1047"/><use href="#ci" x="1083" y="1050"/><use href="#ci" x="1083" y="1053"/><use href="#ci" x="1084" y="1056"/><use href="#ci" x="1084" y="1060"/><use href="#ci" x="1085" y="1063"/><use href="#ci" x="1086" y="1066"/><use href="#ci" x="1086" y="1069"/><use href="#ci" x="1087" y="1073"/><use href="#ci" x="1087" y="1076"/><use href="#ci" x="1088" y="1079"/><use href="#ci" x="1089" y="1082"/><use href="#ci" x="1089" y="1086"/><use href="#ci" x="1090" y="1089"/><use href="#ci" x="1090" y="1092"/><use href="#ci" x="1091" y="1095"/><use href="#ci" x="1091" y="1099"/><use href="#ci" x="1092" y="1102"/><use href="#ci" x="1093" y="1105"/><use href="#ci" x="1093" y="1108"/><use href="#ci" x="1094" y="1112"/><use href="#ci" x="1094" y="1115"/><use href="#ci" x="1095" y="1118"/><use href="#ci" x="1096" y="1121"/><use href="#ci" x="1096" y="1125"/><use href="#ci" x="1097" y="1128"/><use href="#ci" x="1097" y="1131"/><use href="#ci" x="1098" y="1134"/><use href="#ci" x="1098" y="1138"/><use href="#ci" x="1099" y="1140"/><use href="#ci" x="1171" y="1143"/><use href="#ci" x="1328" y="1147"/><use href="#ci" x="1415" y="1151"/><use href="#ci" x="1562" y="1164"/><use href="#ci" x="1597" y="1170"/><use href="#ci" x="1628" y="1175"/><use href="#ci" x="1656" y="1182"/><use href="#ci" x="1693" y="1191"/><use href="#ci" x="1718" y="1199"/><use href="#ci" x="1750" y="1211"/><use href="#ci" x="1773" y="1221"/><use href="#ci" x="1800" y="1235"/><use href="#ci" x="1843" y="1262"/><use href="#ci" x="1843" y="1265"/><use href="#ci" x="1843" y="1268"/><use href="#ci" x="1844" y="1272"/><use href="#ci" x="1844" y="1275"/><use href="#ci" x="1844" y="1278"/><use href="#ci" x="1844" y="1281"/><use href="#ci" x="1845" y="1285"/><use href="#ci" x="1845" y="1288"/><use href="#ci" x="1845" y="1291"/><use href="#ci" x="1845" y="1294"/><use href="#ci" x="1846" y="1297"/><use href="#ci" x="1846" y="1301"/></g>
<path d="M438 208L447.1 250L455.7 298L468.5 378L479.1 448L487 508L506.1 682L512.8 738L519.7 784L534.6 866L540 900L544.2 936L550.6 1006L554.1 1038L559.9 1076L570 1131.8M570 1131.9L1006 1132.8L1138 1133.9L1246 1135.8L1338 1138.6L1418 1142.7L1486 1147.9L1546 1154.7L1578 1159.3L1610 1164.9L1642 1171.7L1670 1178.7L1698 1187L1722 1195.2L1746 1204.7L1770 1215.6L1790 1225.9L1810 1237.5L1830 1250.5L1846 1262L1849 1303" fill="none" stroke="#ff4444" stroke-width="1.8"/>
<g fill="#ff0000" stroke="#ff0000"><use href="#st" x="438" y="208"/><use href="#st" x="439" y="214"/><use href="#st" x="441" y="220"/><use href="#st" x="442" y="226"/><use href="#st" x="446" y="243"/><use href="#st" x="448" y="252"/><use href="#st" x="448" y="256"/><use href="#st" x="449" y="259"/><use href="#st" x="449" y="262"/><use href="#st" x="450" y="265"/><use href="#st" x="451" y="268"/><use href="#st" x="451" y="272"/><use href="#st" x="452" y="275"/><use href="#st" x="452" y="278"/><use href="#st" x="453" y="281"/><use href="#st" x="453" y="284"/><use href="#st" x="454" y="288"/><use href="#st" x="455" y="291"/><use href="#st" x="455" y="294"/><use href="#st" x="456" y="297"/><use href="#st" x="456" y="300"/><use href="#st" x="457" y="304"/><use href="#st" x="458" y="313"/><use href="#st" x="461" y="331"/><use href="#st" x="464" y="348"/><use href="#st" x="467" y="366"/><use href="#st" x="469" y="383"/><use href="#st" x="472" y="401"/><use href="#st" x="475" y="418"/><use href="#st" x="477" y="436"/><use href="#st" x="480" y="454"/><use href="#st" x="482" y="471"/><use href="#st" x="485" y="489"/><use href="#st" x="487" y="506"/><use href="#st" x="489" y="524"/><use href="#st" x="491" y="541"/><use href="#st" x="493" y="559"/><use href="#st" x="494" y="576"/><use href="#st" x="496" y="594"/><use href="#st" x="498" y="612"/><use href="#st" x="500" y="629"/><use href="#st" x="502" y="647"/><use href="#st" x="504" y="664"/><use href="#st" x="506" y="682"/><use href="#st" x="508" y="699"/><use href="#st" x="510" y="717"/><use href="#st" x="512" y="734"/><use href="#st" x="514" y="748"/><use href="#st" x="515" y="752"/><use href="#st" x="515" y="755"/><use href="#st" x="516" y="758"/><use href="#st" x="516" y="761"/><use href="#st" x="517" y="764"/><use href="#st" x="517" y="768"/><use href="#st" x="518" y="771"/><use href="#st" x="518" y="774"/><use href="#st" x="519" y="777"/><use href="#st" x="519" y="780"/><use href="#st" x="520" y="784"/><use href="#st" x="520" y="787"/><use href="#st" x="521" y="790"/><use href="#st" x="521" y="793"/><use href="#st" x="522" y="796"/><use href="#st" x="522" y="800"/><use href="#st" x="523" y="803"/><use href="#st" x="524" y="806"/><use href="#st" x="524" y="809"/><use href="#st" x="525" y="812"/><use href="#st" x="525" y="816"/><use href="#st" x="526" y="819"/><use href="#st" x="527" y="822"/><use href="#st" x="527" y="825"/><use href="#st" x="528" y="828"/><use href="#st" x="528" y="832"/><use href="#st" x="529" y="835"/><use href="#st" x="530" y="838"/><use href="#st" x="530" y="841"/><use href="#st" x="531" y="844"/><use href="#st" x="531" y="848"/><use href="#st" x="532" y="851"/><use href="#st" x="533" y="854"/><use href="#st" x="533" y="857"/><use href="#st" x="534" y="860"/><use href="#st" x="534" y="864"/><use href="#st" x="535" y="867"/><use href="#st" x="535" y="870"/><use href="#st" x="536" y="873"/><use href="#st" x="536" y="876"/><use href="#st" x="537" y="880"/><use href="#st" x="537" y="883"/><use href="#st" x="538" y="886"/><use href="#st" x="538" y="889"/><use href="#st" x="539" y="892"/><use href="#st" x="539" y="896"/><use href="#st" x="540" y="899"/><use href="#st" x="540" y="902"/><use href="#st" x="541" y="905"/><use href="#st" x="541" y="908"/><use href="#st" x="542" y="912"/><use href="#st" x="542" y="915"/><use href="#st" x="542" y="918"/><use href="#st" x="543" y="921"/><use href="#st" x="543" y="924"/><use href="#st" x="543" y="928"/><use href="#st" x="544" y="931"/><use href="#st" x="544" y="934"/><use href="#st" x="544" y="937"/><use href="#st" x="545" y="940"/><use href="#st" x="545" y="944"/><use href="#st" x="545" y="947"/><use href="#st" x="546" y="950"/><use href="#st" x="546" y="953"/><use href="#st" x="546" y="956"/><use href="#st" x="546" y="960"/><use href="#st" x="547" y="963"/><use href="#st" x="547" y="966"/><use href="#st" x="547" y="969"/><use href="#st" x="548" y="972"/><use href="#st" x="548" y="976"/><use href="#st" x="548" y="979"/><use href="#st" x="548" y="982"/><use href="#st" x="550" y="998"/><use href="#st" x="552" y="1016"/><use href="#st" x="554" y="1033"/><use href="#st" x="556" y="1050"/><use href="#st" x="559" y="1068"/><use href="#st" x="562" y="1086"/><use href="#st" x="565" y="1103"/><use href="#st" x="568" y="1121"/><use href="#st" x="1171" y="1134"/><use href="#st" x="1274" y="1137"/><use href="#st" x="1419" y="1143"/><use href="#st" x="1518" y="1151"/><use href="#st" x="1554" y="1156"/><use href="#st" x="1582" y="1160"/><use href="#st" x="1612" y="1165"/><use href="#st" x="1647" y="1173"/><use href="#st" x="1670" y="1179"/><use href="#st" x="1707" y="1190"/><use href="#st" x="1741" y="1203"/><use href="#st" x="1767" y="1214"/><use href="#st" x="1793" y="1227"/><use href="#st" x="1824" y="1246"/><use href="#st" x="1846" y="1262"/><use href="#st" x="1846" y="1265"/><use href="#st" x="1846" y="1268"/><use href="#st" x="1847" y="1272"/><use href="#st" x="1847" y="1275"/><use href="#st" x="1847" y="1278"/><use href="#st" x="1847" y="1281"/><use href="#st" x="1848" y="1285"/><use href="#st" x="1848" y="1288"/><use href="#st" x="1848" y="1291"/><use href="#st" x="1848" y="1294"/><use href="#st" x="1849" y="1297"/><use href="#st" x="1849" y="1301"/></g>
<path d="M438 208L848 681L888.4 728.6L899.4 742.2L908.6 755.6L964.9 822.5L986.1 846.6L1024.4 885.5L1035.5 899L1043.5 911.4L1049.1 922.8L1053.5 935L1059.6 955.9L1063.9 975.6L1074.9 1036L1095.5 1134M1095.5 1135.6L1203.7 1137L1291.9 1139.1L1368 1141.9L1436.2 1145.7L1496.3 1150.5L1548.4 1156.4L1596.5 1163.6L1640.6 1172.2L1668.6 1179L1692.7 1185.7L1716.7 1193.4L1736.8 1200.8L1756.8 1209L1776.9 1218.2L1796.9 1228.6L1816.9 1240.3L1833 1250.6L1849 1262L1852 1303" fill="none" stroke="#3333ff" stroke-width="1.8"/>
<g fill="#0000ff" stroke="#0000ff"><use href="#pb" x="438" y="208"/><use href="#pb" x="442" y="213"/><use href="#pb" x="446" y="217"/><use href="#pb" x="450" y="222"/><use href="#pb" x="468" y="243"/><use href="#pb" x="470" y="245"/><use href="#pb" x="472" y="248"/><use href="#pb" x="474" y="250"/><use href="#pb" x="477" y="252"/><use href="#pb" x="479" y="255"/><use href="#pb" x="481" y="257"/><use href="#pb" x="483" y="260"/><use href="#pb" x="485" y="262"/><use href="#pb" x="487" y="265"/><use href="#pb" x="489" y="267"/><use href="#pb" x="491" y="269"/><use href="#pb" x="493" y="272"/><use href="#pb" x="496" y="274"/><use href="#pb" x="498" y="277"/><use href="#pb" x="500" y="279"/><use href="#pb" x="502" y="282"/><use href="#pb" x="504" y="284"/><use href="#pb" x="506" y="286"/><use href="#pb" x="508" y="289"/><use href="#pb" x="510" y="291"/><use href="#pb" x="512" y="294"/><use href="#pb" x="514" y="296"/><use href="#pb" x="517" y="299"/><use href="#pb" x="529" y="313"/><use href="#pb" x="544" y="331"/><use href="#pb" x="560" y="348"/><use href="#pb" x="575" y="366"/><use href="#pb" x="590" y="383"/><use href="#pb" x="605" y="401"/><use href="#pb" x="621" y="418"/><use href="#pb" x="636" y="436"/><use href="#pb" x="651" y="453"/><use href="#pb" x="666" y="471"/><use href="#pb" x="682" y="489"/><use href="#pb" x="697" y="506"/><use href="#pb" x="712" y="524"/><use href="#pb" x="727" y="541"/><use href="#pb" x="743" y="559"/><use href="#pb" x="758" y="577"/><use href="#pb" x="773" y="594"/><use href="#pb" x="788" y="612"/><use href="#pb" x="803" y="629"/><use href="#pb" x="818" y="647"/><use href="#pb" x="834" y="664"/><use href="#pb" x="849" y="682"/><use href="#pb" x="864" y="699"/><use href="#pb" x="879" y="717"/><use href="#pb" x="893" y="735"/><use href="#pb" x="902" y="745"/><use href="#pb" x="903" y="748"/><use href="#pb" x="905" y="751"/><use href="#pb" x="907" y="754"/><use href="#pb" x="909" y="756"/><use href="#pb" x="911" y="759"/><use href="#pb" x="913" y="761"/><use href="#pb" x="915" y="764"/><use href="#pb" x="918" y="766"/><use href="#pb" x="920" y="769"/><use href="#pb" x="922" y="771"/><use href="#pb" x="924" y="774"/><use href="#pb" x="926" y="776"/><use href="#pb" x="928" y="779"/><use href="#pb" x="930" y="782"/><use href="#pb" x="932" y="784"/><use href="#pb" x="934" y="787"/><use href="#pb" x="936" y="789"/><use href="#pb" x="939" y="792"/><use href="#pb" x="941" y="794"/><use href="#pb" x="943" y="797"/><use href="#pb" x="945" y="799"/><use href="#pb" x="947" y="802"/><use href="#pb" x="949" y="804"/><use href="#pb" x="951" y="807"/><use href="#pb" x="953" y="809"/><use href="#pb" x="956" y="812"/><use href="#pb" x="958" y="814"/><use href="#pb" x="960" y="817"/><use href="#pb" x="962" y="819"/><use href="#pb" x="964" y="822"/><use href="#pb" x="966" y="824"/><use href="#pb" x="968" y="827"/><use href="#pb" x="970" y="829"/><use href="#pb" x="973" y="831"/><use href="#pb" x="975" y="834"/><use href="#pb" x="977" y="836"/><use href="#pb" x="979" y="839"/><use href="#pb" x="981" y="841"/><use href="#pb" x="983" y="844"/><use href="#pb" x="986" y="846"/><use href="#pb" x="988" y="848"/><use href="#pb" x="990" y="851"/><use href="#pb" x="992" y="853"/><use href="#pb" x="995" y="855"/><use href="#pb" x="997" y="858"/><use href="#pb" x="999" y="860"/><use href="#pb" x="1002" y="863"/><use href="#pb" x="1004" y="865"/><use href="#pb" x="1006" y="867"/><use href="#pb" x="1009" y="869"/><use href="#pb" x="1011" y="872"/><use href="#pb" x="1013" y="874"/><use href="#pb" x="1016" y="876"/><use href="#pb" x="1018" y="879"/><use href="#pb" x="1020" y="881"/><use href="#pb" x="1023" y="884"/><use href="#pb" x="1025" y="886"/><use href="#pb" x="1027" y="889"/><use href="#pb" x="1029" y="891"/><use href="#pb" x="1032" y="894"/><use href="#pb" x="1034" y="896"/><use href="#pb" x="1036" y="899"/><use href="#pb" x="1037" y="902"/><use href="#pb" x="1039" y="904"/><use href="#pb" x="1041" y="907"/><use href="#pb" x="1043" y="910"/><use href="#pb" x="1044" y="913"/><use href="#pb" x="1046" y="916"/><use href="#pb" x="1047" y="919"/><use href="#pb" x="1049" y="922"/><use href="#pb" x="1050" y="925"/><use href="#pb" x="1051" y="928"/><use href="#pb" x="1052" y="931"/><use href="#pb" x="1053" y="934"/><use href="#pb" x="1054" y="937"/><use href="#pb" x="1055" y="940"/><use href="#pb" x="1056" y="943"/><use href="#pb" x="1057" y="946"/><use href="#pb" x="1058" y="949"/><use href="#pb" x="1059" y="952"/><use href="#pb" x="1059" y="956"/><use href="#pb" x="1060" y="959"/><use href="#pb" x="1061" y="962"/><use href="#pb" x="1062" y="965"/><use href="#pb" x="1062" y="968"/><use href="#pb" x="1063" y="972"/><use href="#pb" x="1064" y="975"/><use href="#pb" x="1064" y="978"/><use href="#pb" x="1065" y="981"/><use href="#pb" x="1066" y="984"/><use href="#pb" x="1066" y="988"/><use href="#pb" x="1067" y="991"/><use href="#pb" x="1067" y="994"/><use href="#pb" x="1068" y="998"/><use href="#pb" x="1068" y="1001"/><use href="#pb" x="1069" y="1004"/><use href="#pb" x="1070" y="1007"/><use href="#pb" x="1070" y="1010"/><use href="#pb" x="1071" y="1014"/><use href="#pb" x="1071" y="1017"/><use href="#pb" x="1072" y="1020"/><use href="#pb" x="1072" y="1023"/><use href="#pb" x="1073" y="1027"/><use href="#pb" x="1074" y="1030"/><use href="#pb" x="1074" y="1033"/><use href="#pb" x="1075" y="1036"/><use href="#pb" x="1076" y="1040"/><use href="#pb" x="1076" y="1043"/><use href="#pb" x="1077" y="1046"/><use href="#pb" x="1078" y="1049"/><use href="#pb" x="1078" y="1052"/><use href="#pb" x="1079" y="1056"/><use href="#pb" x="1080" y="1059"/><use href="#pb" x="1080" y="1062"/><use href="#pb" x="1081" y="1065"/><use href="#pb" x="1082" y="1068"/><use href="#pb" x="1082" y="1071"/><use href="#pb" x="1083" y="1075"/><use href="#pb" x="1084" y="1078"/><use href="#pb" x="1084" y="1081"/><use href="#pb" x="1085" y="1084"/><use href="#pb" x="1086" y="1087"/><use href="#pb" x="1086" y="1090"/><use href="#pb" x="1087" y="1094"/><use href="#pb" x="1088" y="1097"/><use href="#pb" x="1088" y="1100"/><use href="#pb" x="1089" y="1103"/><use href="#pb" x="1090" y="1106"/><use href="#pb" x="1090" y="1109"/><use href="#pb" x="1091" y="1113"/><use href="#pb" x="1092" y="1116"/><use href="#pb" x="1092" y="1119"/><use href="#pb" x="1093" y="1122"/><use href="#pb" x="1094" y="1125"/><use href="#pb" x="1094" y="1128"/><use href="#pb" x="1095" y="1132"/><use href="#pb" x="1213" y="1137"/><use href="#pb" x="1300" y="1139"/><use href="#pb" x="1352" y="1141"/><use href="#pb" x="1420" y="1145"/><use href="#pb" x="1482" y="1149"/><use href="#pb" x="1497" y="1151"/><use href="#pb" x="1509" y="1152"/><use href="#pb" x="1529" y="1154"/><use href="#pb" x="1546" y="1156"/><use href="#pb" x="1564" y="1159"/><use href="#pb" x="1584" y="1162"/><use href="#pb" x="1604" y="1165"/><use href="#pb" x="1618" y="1168"/><use href="#pb" x="1637" y="1172"/><use href="#pb" x="1659" y="1176"/><use href="#pb" x="1680" y="1182"/><use href="#pb" x="1692" y="1186"/><use href="#pb" x="1706" y="1190"/><use href="#pb" x="1719" y="1194"/><use href="#pb" x="1732" y="1199"/><use href="#pb" x="1746" y="1204"/><use href="#pb" x="1764" y="1212"/><use href="#pb" x="1779" y="1219"/><use href="#pb" x="1796" y="1228"/><use href="#pb" x="1812" y="1237"/><use href="#pb" x="1832" y="1250"/><use href="#pb" x="1849" y="1262"/><use href="#pb" x="1849" y="1265"/><use href="#pb" x="1849" y="1268"/><use href="#pb" x="1850" y="1272"/><use href="#pb" x="1850" y="1275"/><use href="#pb" x="1850" y="1278"/><use href="#pb" x="1850" y="1281"/><use href="#pb" x="1851" y="1285"/><use href="#pb" x="1851" y="1288"/><use href="#pb" x="1851" y="1291"/><use href="#pb" x="1851" y="1294"/><use href="#pb" x="1852" y="1297"/><use href="#pb" x="1852" y="1301"/></g>
<path d="M438 208L478.6 225.5L1417.4 716.4L1619 822.5L1669.7 848.5L1685 857.2L1705.3 869.9L1725.7 883.5L1747.6 899L1754.5 904.4L1761 910.5L1771.6 924L1778.3 934.9L1783.7 947.9L1811.8 1046.2L1836.6 1115.6L1864.4 1203.6L1874.6 1240L1879.7 1260.4L1882.5 1275L1886.6 1302.1" fill="none" stroke="#ff00ff" stroke-width="1.8"/>
<g fill="#ff00ff" stroke="#ff00ff"><use href="#ho" x="438" y="208"/><use href="#ho" x="478" y="225"/><use href="#ho" x="511" y="243"/><use href="#ho" x="545" y="260"/><use href="#ho" x="556" y="266"/><use href="#ho" x="563" y="269"/><use href="#ho" x="569" y="273"/><use href="#ho" x="575" y="276"/><use href="#ho" x="582" y="279"/><use href="#ho" x="588" y="283"/><use href="#ho" x="595" y="286"/><use href="#ho" x="612" y="295"/><use href="#ho" x="646" y="313"/><use href="#ho" x="680" y="331"/><use href="#ho" x="713" y="348"/><use href="#ho" x="747" y="366"/><use href="#ho" x="780" y="383"/><use href="#ho" x="814" y="401"/><use href="#ho" x="847" y="418"/><use href="#ho" x="881" y="436"/><use href="#ho" x="914" y="453"/><use href="#ho" x="948" y="471"/><use href="#ho" x="982" y="489"/><use href="#ho" x="1016" y="506"/><use href="#ho" x="1049" y="524"/><use href="#ho" x="1083" y="541"/><use href="#ho" x="1116" y="559"/><use href="#ho" x="1150" y="576"/><use href="#ho" x="1183" y="594"/><use href="#ho" x="1217" y="611"/><use href="#ho" x="1250" y="629"/><use href="#ho" x="1284" y="647"/><use href="#ho" x="1318" y="664"/><use href="#ho" x="1351" y="682"/><use href="#ho" x="1385" y="699"/><use href="#ho" x="1418" y="717"/><use href="#ho" x="1452" y="734"/><use href="#ho" x="1485" y="752"/><use href="#ho" x="1514" y="767"/><use href="#ho" x="1521" y="771"/><use href="#ho" x="1527" y="774"/><use href="#ho" x="1533" y="777"/><use href="#ho" x="1540" y="781"/><use href="#ho" x="1546" y="784"/><use href="#ho" x="1585" y="805"/><use href="#ho" x="1618" y="822"/><use href="#ho" x="1631" y="829"/><use href="#ho" x="1638" y="832"/><use href="#ho" x="1645" y="836"/><use href="#ho" x="1651" y="839"/><use href="#ho" x="1658" y="842"/><use href="#ho" x="1664" y="846"/><use href="#ho" x="1670" y="849"/><use href="#ho" x="1677" y="852"/><use href="#ho" x="1683" y="856"/><use href="#ho" x="1689" y="860"/><use href="#ho" x="1695" y="864"/><use href="#ho" x="1702" y="868"/><use href="#ho" x="1708" y="872"/><use href="#ho" x="1715" y="876"/><use href="#ho" x="1722" y="881"/><use href="#ho" x="1728" y="885"/><use href="#ho" x="1734" y="889"/><use href="#ho" x="1741" y="894"/><use href="#ho" x="1747" y="899"/><use href="#ho" x="1753" y="903"/><use href="#ho" x="1759" y="908"/><use href="#ho" x="1764" y="914"/><use href="#ho" x="1769" y="920"/><use href="#ho" x="1773" y="926"/><use href="#ho" x="1777" y="933"/><use href="#ho" x="1781" y="940"/><use href="#ho" x="1783" y="947"/><use href="#ho" x="1786" y="955"/><use href="#ho" x="1788" y="962"/><use href="#ho" x="1790" y="969"/><use href="#ho" x="1792" y="977"/><use href="#ho" x="1794" y="984"/><use href="#ho" x="1796" y="992"/><use href="#ho" x="1798" y="1000"/><use href="#ho" x="1800" y="1007"/><use href="#ho" x="1802" y="1014"/><use href="#ho" x="1805" y="1022"/><use href="#ho" x="1807" y="1029"/><use href="#ho" x="1809" y="1036"/><use href="#ho" x="1811" y="1044"/><use href="#ho" x="1813" y="1051"/><use href="#ho" x="1816" y="1058"/><use href="#ho" x="1818" y="1066"/><use href="#ho" x="1821" y="1073"/><use href="#ho" x="1824" y="1080"/><use href="#ho" x="1827" y="1087"/><use href="#ho" x="1829" y="1094"/><use href="#ho" x="1832" y="1102"/><use href="#ho" x="1834" y="1109"/><use href="#ho" x="1837" y="1116"/><use href="#ho" x="1839" y="1124"/><use href="#ho" x="1842" y="1131"/><use href="#ho" x="1844" y="1138"/><use href="#ho" x="1846" y="1145"/><use href="#ho" x="1849" y="1153"/><use href="#ho" x="1851" y="1160"/><use href="#ho" x="1853" y="1167"/><use href="#ho" x="1856" y="1174"/><use href="#ho" x="1858" y="1182"/><use href="#ho" x="1860" y="1189"/><use href="#ho" x="1862" y="1197"/><use href="#ho" x="1865" y="1204"/><use href="#ho" x="1867" y="1211"/><use href="#ho" x="1869" y="1218"/><use href="#ho" x="1871" y="1226"/><use href="#ho" x="1873" y="1233"/><use href="#ho" x="1875" y="1241"/><use href="#ho" x="1877" y="1248"/><use href="#ho" x="1879" y="1256"/><use href="#ho" x="1880" y="1263"/><use href="#ho" x="1882" y="1271"/><use href="#ho" x="1883" y="1279"/><use href="#ho" x="1884" y="1286"/><use href="#ho" x="1885" y="1294"/><use href="#ho" x="1886" y="1301"/></g>
<path d="M269.4 790.4H1969" stroke="#ff0000" stroke-width="9.4" stroke-dasharray="9.2 8.55"/>
<path d="M270.6 2227.1H1969" stroke="#ff0000" stroke-width="9.4" stroke-dasharray="9.2 8.55"/>
<text x="1615.5" y="763.4" font-size="43" font-weight="bold" fill="#ff0000" textLength="320" lengthAdjust="spacingAndGlyphs">Failure location</text>
<text x="679" y="2199.6" font-size="43" font-weight="bold" fill="#ff0000" textLength="320" lengthAdjust="spacingAndGlyphs">Failure location</text>
<rect x="2022" y="196.8" width="270" height="1117.8" fill="#fff" stroke="#000" stroke-width="2.8"/>
<path d="M2028.5 228.8H2102.8" stroke="#000000" stroke-width="2.2"/>
<g fill="#000000" stroke="#000000"><use href="#sq" transform="translate(2065.2 228.8) scale(0.6)"/></g>
<text x="2111.5" y="241.2" font-size="34.8">No.1 frac</text>
<path d="M2028.5 269.9H2102.8" stroke="#ff0000" stroke-width="2.2"/>
<g fill="#ff0000" stroke="#ff0000"><use href="#ci" transform="translate(2065.2 269.9) scale(0.6)"/></g>
<text x="2111.5" y="282.3" font-size="34.8">No.1 BP</text>
<path d="M2028.5 311H2102.8" stroke="#5555ff" stroke-width="2.2"/>
<g fill="#0000ff" stroke="#0000ff"><use href="#tu" transform="translate(2065.2 311) scale(0.6)"/></g>
<text x="2111.5" y="323.4" font-size="34.8">No.2 frac</text>
<path d="M2028.5 352.2H2102.8" stroke="#ff00ff" stroke-width="2.2"/>
<g fill="#ff00ff" stroke="#ff00ff"><use href="#td" transform="translate(2065.2 352.2) scale(0.6)"/></g>
<text x="2111.5" y="364.5" font-size="34.8">No.2 BP</text>
<path d="M2028.5 393.3H2102.8" stroke="#00a040" stroke-width="2.2"/>
<g fill="#008000" stroke="#008000"><use href="#di" transform="translate(2065.2 393.3) scale(0.6)"/></g>
<text x="2111.5" y="405.6" font-size="34.8">No.3 frac</text>
<path d="M2028.5 434.4H2102.8" stroke="#3a3a99" stroke-width="2.2"/>
<g fill="#000080" stroke="#000080"><use href="#tl" transform="translate(2065.2 434.4) scale(0.6)"/></g>
<text x="2111.5" y="446.8" font-size="34.8">No.3 BP</text>
<path d="M2028.5 475.5H2102.8" stroke="#9933ff" stroke-width="2.2"/>
<g fill="#8000ff" stroke="#8000ff"><use href="#tr" transform="translate(2065.2 475.5) scale(0.6)"/></g>
<text x="2111.5" y="487.9" font-size="34.8">No.4 frac</text>
<path d="M2028.5 516.6H2102.8" stroke="#a040a0" stroke-width="2.2"/>
<g fill="#800080" stroke="#800080"><use href="#hx" transform="translate(2065.2 516.6) scale(0.6)"/></g>
<text x="2111.5" y="529" font-size="34.8">No.4 BP</text>
<path d="M2028.5 557.8H2102.8" stroke="#a02020" stroke-width="2.2"/>
<g fill="#800000" stroke="#800000"><use href="#st" transform="translate(2065.2 557.8) scale(0.6)"/></g>
<text x="2111.5" y="570.1" font-size="34.8">No.5 frac</text>
<path d="M2028.5 598.9H2102.8" stroke="#909020" stroke-width="2.2"/>
<g fill="#808000" stroke="#808000"><use href="#pe" transform="translate(2065.2 598.9) scale(0.6)"/></g>
<text x="2111.5" y="611.2" font-size="34.8">No.5 BP</text>
<path d="M2028.5 640H2102.8" stroke="#4a88c0" stroke-width="2.2"/>
<g fill="#0060a0" stroke="#0060a0"><use href="#sc" transform="translate(2065.2 640) scale(0.6)"/></g>
<text x="2111.5" y="652.4" font-size="34.8">No.6 frac</text>
<path d="M2028.5 681.1H2102.8" stroke="#20b0b0" stroke-width="2.2"/>
<g fill="#00a0a0" stroke="#00a0a0"><use href="#pl" transform="translate(2065.2 681.1) scale(0.6)"/></g>
<text x="2111.5" y="693.5" font-size="34.8">No.6 BP</text>
<path d="M2028.5 722.2H2102.8" stroke="#c08050" stroke-width="2.2"/>
<g fill="#c07030" stroke="#c07030"><use href="#xx" transform="translate(2065.2 722.2) scale(0.6)"/></g>
<text x="2111.5" y="734.6" font-size="34.8">No.7 frac</text>
<path d="M2028.5 763.4H2102.8" stroke="#00dd77" stroke-width="2.2"/>
<g fill="#00dd66" stroke="#00dd66"><use href="#as" transform="translate(2065.2 763.4) scale(0.6)"/></g>
<text x="2111.5" y="775.7" font-size="34.8">No.7 BP</text>
<path d="M2028.5 804.5H2102.8" stroke="#ff3399" stroke-width="2.2"/>
<text x="2111.5" y="816.8" font-size="34.8">No.8 frac</text>
<path d="M2028.5 845.6H2102.8" stroke="#00cccc" stroke-width="2.2"/>
<g fill="#00cccc" stroke="#00cccc"><use href="#ba" transform="translate(2065.2 845.6) scale(0.6)"/></g>
<text x="2111.5" y="858" font-size="34.8">No.8 BP</text>
<path d="M2028.5 886.7H2102.8" stroke="#7777bb" stroke-width="2.2"/>
<g fill="#4040a0" stroke="#4040a0"><use href="#sq" transform="translate(2065.2 886.7) scale(0.6)"/></g>
<text x="2111.5" y="899.1" font-size="34.8">No.9 frac</text>
<path d="M2028.5 927.8H2102.8" stroke="#88b030" stroke-width="2.2"/>
<g fill="#80b020" stroke="#80b020"><use href="#ci" transform="translate(2065.2 927.8) scale(0.6)"/></g>
<text x="2111.5" y="940.2" font-size="34.8">No.9 BP</text>
<path d="M2028.5 969H2102.8" stroke="#999999" stroke-width="2.2"/>
<g fill="#808080" stroke="#808080"><use href="#tu" transform="translate(2065.2 969) scale(0.6)"/></g>
<text x="2111.5" y="981.3" font-size="34.8">No.10 frac</text>
<path d="M2028.5 1010.1H2102.8" stroke="#b07070" stroke-width="2.2"/>
<g fill="#a05050" stroke="#a05050"><use href="#td" transform="translate(2065.2 1010.1) scale(0.6)"/></g>
<text x="2111.5" y="1022.4" font-size="34.8">No.10 BP</text>
<path d="M2028.5 1051.2H2102.8" stroke="#50a070" stroke-width="2.2"/>
<g fill="#409060" stroke="#409060"><use href="#di" transform="translate(2065.2 1051.2) scale(0.6)"/></g>
<text x="2111.5" y="1063.6" font-size="34.8">No.11 frac</text>
<path d="M2028.5 1092.3H2102.8" stroke="#40c0e0" stroke-width="2.2"/>
<g fill="#20a8d0" stroke="#20a8d0"><use href="#tl" transform="translate(2065.2 1092.3) scale(0.6)"/></g>
<text x="2111.5" y="1104.7" font-size="34.8">No.11 BP</text>
<path d="M2028.5 1133.4H2102.8" stroke="#3070a0" stroke-width="2.2"/>
<g fill="#205f90" stroke="#205f90"><use href="#tr" transform="translate(2065.2 1133.4) scale(0.6)"/></g>
<text x="2111.5" y="1145.8" font-size="34.8">No.12 frac</text>
<path d="M2028.5 1174.6H2102.8" stroke="#222222" stroke-width="2.2"/>
<g fill="#000000" stroke="#000000"><use href="#ci" transform="translate(2065.2 1174.6) scale(0.6)"/></g>
<text x="2111.5" y="1186.9" font-size="34.8">No.12 BP</text>
<path d="M2028.5 1215.7H2102.8" stroke="#ff4444" stroke-width="2.2"/>
<g fill="#ff0000" stroke="#ff0000"><use href="#st" transform="translate(2065.2 1215.7) scale(0.6)"/></g>
<text x="2111.5" y="1228" font-size="34.8">No.13 frac</text>
<path d="M2028.5 1256.8H2102.8" stroke="#3333ff" stroke-width="2.2"/>
<g fill="#0000ff" stroke="#0000ff"><use href="#ci" transform="translate(2065.2 1256.8) scale(0.6)"/></g>
<text x="2111.5" y="1269.2" font-size="34.8">No.13 BP</text>
<path d="M2028.5 1297.9H2102.8" stroke="#ff00ff" stroke-width="2.2"/>
<g fill="#ff00ff" stroke="#ff00ff"><use href="#ci" transform="translate(2065.2 1297.9) scale(0.6)"/></g>
<text x="2111.5" y="1310.3" font-size="34.8">geothermal</text>
<rect x="2048.4" y="2222.8" width="243.2" height="516.4" fill="#fff" stroke="#000" stroke-width="2.8"/>
<path d="M2061.7 2253.6H2132.2" stroke="#c07030" stroke-width="2.2"/>
<g fill="#c07030" stroke="#c07030"><use href="#xx" transform="translate(2097.9 2253.6) scale(0.6)"/></g>
<text x="2142" y="2265" font-size="32.2">No.13 frac</text>
<path d="M2061.7 2292.7H2132.2" stroke="#00a0a0" stroke-width="2.2"/>
<g fill="#00a0a0" stroke="#00a0a0"><use href="#pl" transform="translate(2097.9 2292.7) scale(0.6)"/></g>
<text x="2142" y="2304.1" font-size="32.2">No.12 frac</text>
<path d="M2061.7 2331.8H2132.2" stroke="#0066b3" stroke-width="2.2"/>
<g fill="#0066b3" stroke="#0066b3"><use href="#hb" transform="translate(2097.9 2331.8) scale(0.6)"/></g>
<text x="2142" y="2343.2" font-size="32.2">No.11 frac</text>
<path d="M2061.7 2370.9H2132.2" stroke="#808000" stroke-width="2.2"/>
<g fill="#808000" stroke="#808000"><use href="#pe" transform="translate(2097.9 2370.9) scale(0.6)"/></g>
<text x="2142" y="2382.3" font-size="32.2">No.10 frac</text>
<path d="M2061.7 2410H2132.2" stroke="#800000" stroke-width="2.2"/>
<g fill="#800000" stroke="#800000"><use href="#st" transform="translate(2097.9 2410) scale(0.6)"/></g>
<text x="2142" y="2421.4" font-size="32.2">No.9 frac</text>
<path d="M2061.7 2449.1H2132.2" stroke="#800080" stroke-width="2.2"/>
<g fill="#800080" stroke="#800080"><use href="#hx" transform="translate(2097.9 2449.1) scale(0.6)"/></g>
<text x="2142" y="2460.5" font-size="32.2">No.8 frac</text>
<path d="M2061.7 2488.2H2132.2" stroke="#8000ff" stroke-width="2.2"/>
<g fill="#8000ff" stroke="#8000ff"><use href="#tr" transform="translate(2097.9 2488.2) scale(0.6)"/></g>
<text x="2142" y="2499.6" font-size="32.2">No.7 frac</text>
<path d="M2061.7 2527.3H2132.2" stroke="#000080" stroke-width="2.2"/>
<g fill="#000080" stroke="#000080"><use href="#tl" transform="translate(2097.9 2527.3) scale(0.6)"/></g>
<text x="2142" y="2538.7" font-size="32.2">No.6 frac</text>
<path d="M2061.7 2566.4H2132.2" stroke="#008000" stroke-width="2.2"/>
<g fill="#008000" stroke="#008000"><use href="#di" transform="translate(2097.9 2566.4) scale(0.6)"/></g>
<text x="2142" y="2577.8" font-size="32.2">No.5 frac</text>
<path d="M2061.7 2605.5H2132.2" stroke="#ff00ff" stroke-width="2.2"/>
<g fill="#ff00ff" stroke="#ff00ff"><use href="#td" transform="translate(2097.9 2605.5) scale(0.6)"/></g>
<text x="2142" y="2616.9" font-size="32.2">No.4 frac</text>
<path d="M2061.7 2644.6H2132.2" stroke="#0000ff" stroke-width="2.2"/>
<g fill="#0000ff" stroke="#0000ff"><use href="#tu" transform="translate(2097.9 2644.6) scale(0.6)"/></g>
<text x="2142" y="2656" font-size="32.2">No.3 frac</text>
<path d="M2061.7 2683.7H2132.2" stroke="#ff0000" stroke-width="2.2"/>
<g fill="#ff0000" stroke="#ff0000"><use href="#ci" transform="translate(2097.9 2683.7) scale(0.6)"/></g>
<text x="2142" y="2695.1" font-size="32.2">No.2 frac</text>
<path d="M2061.7 2722.8H2132.2" stroke="#000000" stroke-width="2.2"/>
<g fill="#000000" stroke="#000000"><use href="#sq" transform="translate(2097.9 2722.8) scale(0.6)"/></g>
<text x="2142" y="2734.2" font-size="32.2">No.1 frac</text>
</svg>
</body></html>
